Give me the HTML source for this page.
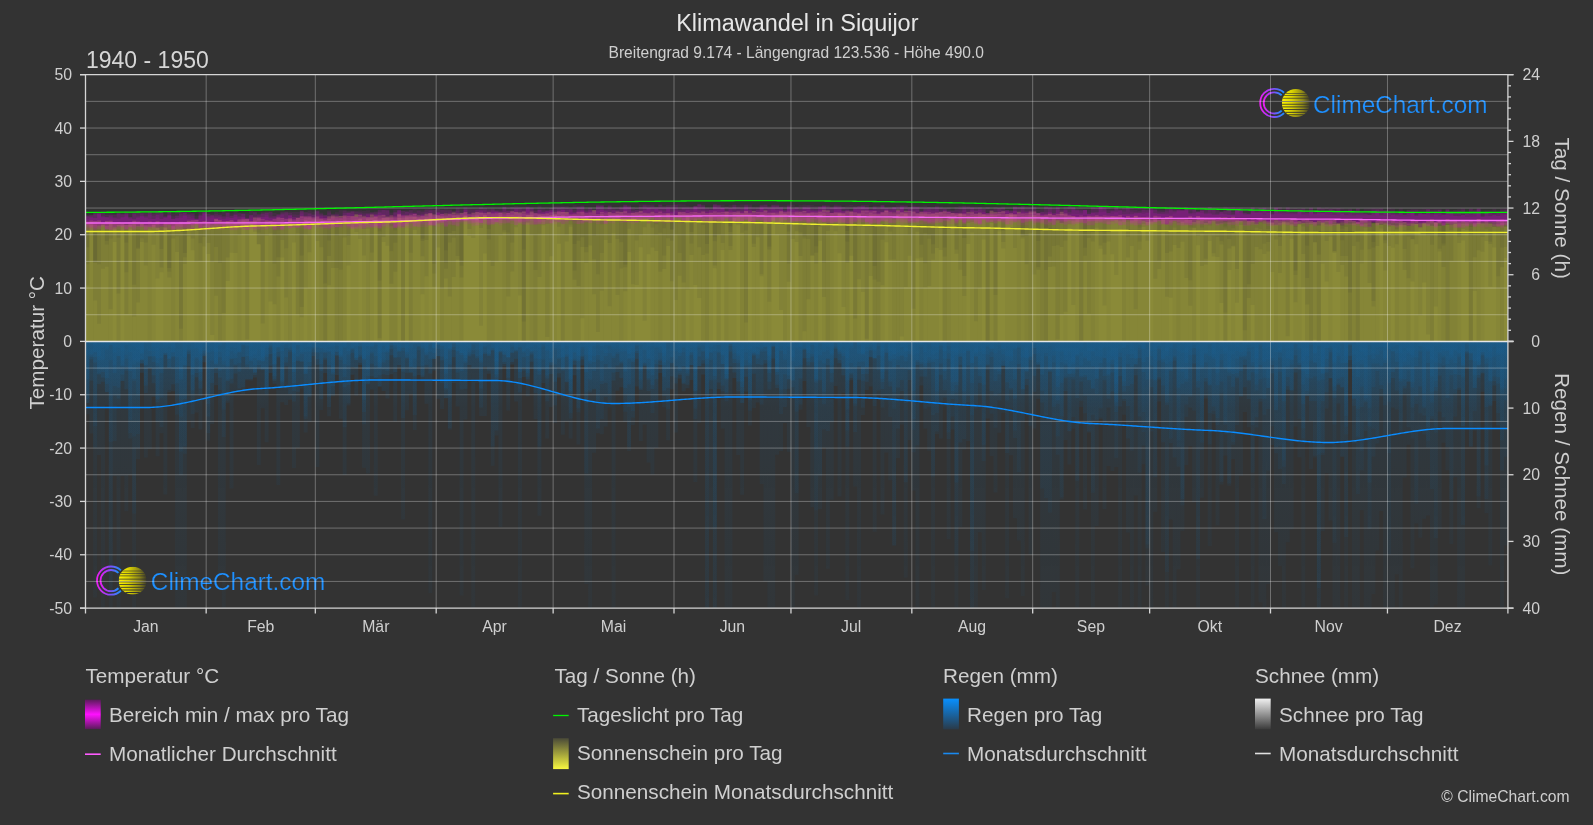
<!DOCTYPE html><html><head><meta charset="utf-8"><style>html,body{margin:0;padding:0;background:#333;width:1593px;height:825px;overflow:hidden}svg{display:block;will-change:transform}text{font-family:"Liberation Sans",sans-serif}</style></head><body><svg width="1593" height="825" viewBox="0 0 1593 825"><defs><linearGradient id="rg" gradientUnits="userSpaceOnUse" x1="0" y1="341.5" x2="0" y2="608"><stop offset="0" stop-color="#1a5e8e" stop-opacity="0.27"/><stop offset="0.25" stop-color="#1a5e8e" stop-opacity="0.12"/><stop offset="1" stop-color="#1a5e8e" stop-opacity="0.07"/></linearGradient><linearGradient id="ring" x1="0" y1="0" x2="1" y2="0"><stop offset="0" stop-color="#e81ef0"/><stop offset="0.45" stop-color="#9a40f8"/><stop offset="1" stop-color="#1a90ff"/></linearGradient><linearGradient id="sun" x1="0" y1="0" x2="1" y2="0"><stop offset="0" stop-color="#fff400"/><stop offset="0.35" stop-color="#dcd400"/><stop offset="0.75" stop-color="#8a8418"/><stop offset="1" stop-color="#3c3a28"/></linearGradient><linearGradient id="lg_t" x1="0" y1="0" x2="0" y2="1"><stop offset="0" stop-color="#5a1a5a"/><stop offset="0.5" stop-color="#ff10ff"/><stop offset="1" stop-color="#5a1a5a"/></linearGradient><linearGradient id="lg_s" x1="0" y1="0" x2="0" y2="1"><stop offset="0" stop-color="#4a4a38"/><stop offset="1" stop-color="#f8f840"/></linearGradient><linearGradient id="lg_r" x1="0" y1="0" x2="0" y2="1"><stop offset="0" stop-color="#0890ff"/><stop offset="1" stop-color="#2a3a48"/></linearGradient><linearGradient id="lg_n" x1="0" y1="0" x2="0" y2="1"><stop offset="0" stop-color="#f0f0f0"/><stop offset="1" stop-color="#3a3a3a"/></linearGradient><clipPath id="cp"><rect x="85" y="75" width="1423" height="533"/></clipPath></defs><g clip-path="url(#cp)"><path d="M85.5 341.4V223.3H89.3V220.5H93.2V221.1H97.1V223.8H101.0V223.6H104.9V222.6H108.8V220.7H112.7V222.4H116.6V222.0H120.5V223.6H124.4V225.5H128.3V223.1H132.2V221.9H136.1V221.4H140.0V222.7H143.9V222.6H147.8V221.4H151.7V222.9H155.6V221.3H159.5V224.0H163.4V223.9H167.3V223.8H171.2V221.9H175.1V223.0H179.0V222.1H182.9V221.7H186.8V221.6H190.7V220.3H194.6V220.0H198.5V222.6H202.4V221.2H206.3V221.6H210.2V222.4H214.1V219.0H218.0V220.0H221.8V221.0H225.7V221.1H229.6V220.1H233.5V221.6H237.4V220.5H241.3V218.7H245.2V218.9H249.1V220.9H253.0V220.5H256.9V217.6H260.8V221.4H264.7V220.4H268.6V221.2H272.5V219.1H276.4V219.1H280.3V218.0H284.2V222.2H288.1V218.9H292.0V220.8H295.9V218.0H299.8V218.9H303.7V216.5H307.6V217.9H311.5V219.4H315.4V216.6H319.3V219.2H323.2V218.2H327.1V216.4H331.0V216.9H334.9V216.8H338.8V217.1H342.7V216.4H346.6V215.9H350.5V216.4H354.4V215.5H358.2V215.0H362.1V216.4H366.0V217.5H369.9V214.5H373.8V216.3H377.7V215.5H381.6V215.0H385.5V217.1H389.4V215.4H393.3V217.8H397.2V214.9H401.1V216.2H405.0V215.4H408.9V214.7H412.8V216.2H416.7V215.2H420.6V216.0H424.5V215.1H428.4V213.7H432.3V214.8H436.2V214.9H440.1V215.9H444.0V213.5H447.9V214.5H451.8V212.4H455.7V215.1H459.6V213.0H463.5V212.0H467.4V214.0H471.3V215.4H475.2V212.1H479.1V212.6H483.0V213.0H486.9V212.5H490.8V214.3H494.6V212.8H498.5V212.9H502.4V214.5H506.3V212.8H510.2V214.2H514.1V212.5H518.0V212.2H521.9V211.5H525.8V215.9H529.7V213.3H533.6V213.9H537.5V213.6H541.4V213.8H545.3V213.6H549.2V215.8H553.1V212.3H557.0V211.6H560.9V212.3H564.8V211.9H568.7V214.3H572.6V214.4H576.5V212.3H580.4V211.7H584.3V213.0H588.2V215.0H592.1V210.0H596.0V214.0H599.9V212.0H603.8V214.6H607.7V212.0H611.6V213.0H615.5V211.5H619.4V212.1H623.3V214.9H627.2V214.2H631.0V212.8H634.9V212.2H638.8V210.9H642.7V212.7H646.6V213.1H650.5V213.1H654.4V213.0H658.3V211.8H662.2V213.0H666.1V213.0H670.0V214.6H673.9V215.3H677.8V212.8H681.7V212.1H685.6V212.9H689.5V212.2H693.4V212.0H697.3V212.8H701.2V211.6H705.1V213.6H709.0V212.7H712.9V213.2H716.8V212.6H720.7V212.0H724.6V211.7H728.5V212.5H732.4V212.1H736.3V213.1H740.2V212.8H744.1V211.1H748.0V212.8H751.9V211.1H755.8V212.0H759.7V212.3H763.5V210.2H767.4V212.8H771.3V212.8H775.2V212.4H779.1V212.1H783.0V212.1H786.9V211.4H790.8V212.2H794.7V211.8H798.6V212.6H802.5V211.0H806.4V212.7H810.3V212.6H814.2V212.2H818.1V211.8H822.0V213.0H825.9V210.3H829.8V212.9H833.7V212.6H837.6V212.7H841.5V212.8H845.4V211.5H849.3V212.0H853.2V213.1H857.1V212.8H861.0V212.6H864.9V210.5H868.8V213.0H872.7V213.7H876.6V213.6H880.5V212.6H884.4V210.5H888.3V213.5H892.2V212.2H896.1V209.4H899.9V212.9H903.8V210.7H907.7V210.9H911.6V211.7H915.5V214.1H919.4V212.1H923.3V212.9H927.2V214.7H931.1V214.5H935.0V212.5H938.9V212.4H942.8V211.2H946.7V211.9H950.6V213.2H954.5V213.2H958.4V212.9H962.3V214.0H966.2V211.9H970.1V212.7H974.0V213.7H977.9V213.6H981.8V214.2H985.7V213.4H989.6V212.7H993.5V213.5H997.4V212.0H1001.3V211.3H1005.2V214.1H1009.1V213.4H1013.0V214.0H1016.9V211.7H1020.8V213.4H1024.7V213.3H1028.6V213.1H1032.5V211.6H1036.3V214.0H1040.2V215.6H1044.1V215.1H1048.0V214.1H1051.9V214.9H1055.8V215.9H1059.7V211.8H1063.6V215.1H1067.5V216.0H1071.4V216.3H1075.3V217.6H1079.2V217.0H1083.1V216.1H1087.0V216.1H1090.9V216.8H1094.8V215.2H1098.7V215.9H1102.6V217.1H1106.5V218.5H1110.4V216.0H1114.3V216.2H1118.2V216.6H1122.1V218.1H1126.0V216.6H1129.9V218.5H1133.8V215.7H1137.7V216.8H1141.6V216.9H1145.5V218.2H1149.4V218.6H1153.3V215.7H1157.2V216.5H1161.1V218.1H1165.0V217.0H1168.9V216.1H1172.7V219.3H1176.6V218.8H1180.5V218.9H1184.4V217.8H1188.3V219.7H1192.2V218.3H1196.1V219.9H1200.0V217.6H1203.9V217.7H1207.8V219.0H1211.7V218.0H1215.6V219.7H1219.5V219.3H1223.4V217.9H1227.3V219.2H1231.2V218.8H1235.1V220.4H1239.0V218.6H1242.9V219.0H1246.8V221.1H1250.7V222.4H1254.6V222.2H1258.5V220.0H1262.4V220.3H1266.3V222.0H1270.2V220.1H1274.1V219.2H1278.0V220.6H1281.9V221.1H1285.8V219.7H1289.7V218.8H1293.6V219.1H1297.5V221.7H1301.4V220.1H1305.2V220.9H1309.1V221.4H1313.0V221.9H1316.9V220.8H1320.8V221.9H1324.7V220.2H1328.6V220.9H1332.5V220.1H1336.4V222.7H1340.3V221.3H1344.2V220.5H1348.1V221.0H1352.0V221.1H1355.9V222.3H1359.8V219.5H1363.7V220.2H1367.6V221.0H1371.5V224.6H1375.4V222.7H1379.3V221.4H1383.2V222.4H1387.1V224.1H1391.0V221.3H1394.9V221.2H1398.8V223.1H1402.7V222.3H1406.6V222.5H1410.5V221.1H1414.4V224.0H1418.3V223.8H1422.2V222.4H1426.1V222.6H1430.0V219.3H1433.9V222.6H1437.8V221.6H1441.6V222.3H1445.5V222.6H1449.4V221.4H1453.3V219.8H1457.2V222.2H1461.1V220.9H1465.0V221.4H1468.9V221.1H1472.8V221.4H1476.7V219.0H1480.6V223.3H1484.5V222.1H1488.4V223.1H1492.3V224.2H1496.2V221.8H1500.1V219.6H1504.0V220.7H1507.9V341.4Z" fill="#8a8a38" fill-opacity="0.5"/><path d="M85.5 341.4V221.4H89.3V222.2H93.2V222.9H97.1V220.4H101.0V223.2H104.9V221.0H108.8V223.2H112.7V222.7H116.6V222.4H120.5V222.7H124.4V222.2H128.3V222.1H132.2V220.8H136.1V222.8H140.0V225.0H143.9V225.2H147.8V224.4H151.7V223.6H155.6V221.9H159.5V224.4H163.4V222.5H167.3V222.4H171.2V222.1H175.1V222.5H179.0V221.7H182.9V222.0H186.8V220.7H190.7V221.4H194.6V224.5H198.5V221.5H202.4V221.2H206.3V222.0H210.2V222.0H214.1V219.7H218.0V220.7H221.8V221.9H225.7V221.0H229.6V220.7H233.5V222.3H237.4V219.5H241.3V220.3H245.2V219.4H249.1V221.8H253.0V217.6H256.9V219.0H260.8V219.1H264.7V220.5H268.6V220.4H272.5V221.2H276.4V217.5H280.3V220.2H284.2V218.9H288.1V218.3H292.0V219.6H295.9V217.7H299.8V216.2H303.7V218.1H307.6V216.6H311.5V217.4H315.4V218.5H319.3V218.3H323.2V219.7H327.1V217.4H331.0V215.6H334.9V216.4H338.8V216.1H342.7V215.6H346.6V217.4H350.5V216.0H354.4V214.3H358.2V217.4H362.1V216.4H366.0V216.9H369.9V216.5H373.8V217.1H377.7V216.3H381.6V217.7H385.5V216.6H389.4V216.5H393.3V216.5H397.2V214.1H401.1V215.6H405.0V215.4H408.9V215.8H412.8V213.9H416.7V217.3H420.6V215.4H424.5V213.7H428.4V213.0H432.3V214.6H436.2V214.7H440.1V213.9H444.0V214.7H447.9V213.8H451.8V215.1H455.7V213.5H459.6V214.2H463.5V215.3H467.4V217.2H471.3V212.8H475.2V213.4H479.1V212.9H483.0V214.8H486.9V212.5H490.8V213.2H494.6V213.8H498.5V212.6H502.4V212.6H506.3V213.2H510.2V211.2H514.1V212.0H518.0V213.2H521.9V213.9H525.8V213.4H529.7V211.5H533.6V213.1H537.5V214.6H541.4V214.2H545.3V213.5H549.2V212.5H553.1V214.3H557.0V212.8H560.9V212.1H564.8V212.5H568.7V215.2H572.6V213.7H576.5V214.8H580.4V212.8H584.3V214.5H588.2V212.6H592.1V213.2H596.0V216.3H599.9V214.3H603.8V212.7H607.7V213.2H611.6V213.7H615.5V214.7H619.4V212.7H623.3V211.2H627.2V212.9H631.0V213.3H634.9V213.4H638.8V214.8H642.7V213.6H646.6V214.1H650.5V211.8H654.4V214.2H658.3V215.6H662.2V214.0H666.1V213.4H670.0V213.2H673.9V215.2H677.8V211.9H681.7V212.9H685.6V213.5H689.5V213.8H693.4V212.4H697.3V213.3H701.2V212.6H705.1V213.0H709.0V212.7H712.9V211.5H716.8V212.8H720.7V213.9H724.6V211.7H728.5V212.5H732.4V213.6H736.3V211.5H740.2V213.0H744.1V211.5H748.0V214.1H751.9V215.5H755.8V215.1H759.7V212.4H763.5V213.6H767.4V212.8H771.3V212.7H775.2V214.5H779.1V211.0H783.0V213.8H786.9V212.5H790.8V214.2H794.7V212.7H798.6V211.7H802.5V212.8H806.4V213.3H810.3V212.5H814.2V213.0H818.1V211.7H822.0V209.8H825.9V213.4H829.8V213.2H833.7V212.5H837.6V212.4H841.5V213.5H845.4V211.8H849.3V211.5H853.2V212.1H857.1V213.7H861.0V210.6H864.9V213.7H868.8V211.6H872.7V211.0H876.6V213.9H880.5V212.2H884.4V210.8H888.3V212.0H892.2V213.5H896.1V213.9H899.9V211.9H903.8V213.0H907.7V213.3H911.6V211.7H915.5V213.0H919.4V212.5H923.3V211.9H927.2V212.0H931.1V212.7H935.0V212.7H938.9V212.0H942.8V212.2H946.7V214.0H950.6V213.0H954.5V213.8H958.4V214.2H962.3V213.5H966.2V215.5H970.1V211.8H974.0V213.8H977.9V212.5H981.8V215.1H985.7V215.0H989.6V210.7H993.5V211.9H997.4V214.0H1001.3V214.2H1005.2V214.3H1009.1V213.4H1013.0V214.2H1016.9V214.5H1020.8V213.8H1024.7V215.2H1028.6V211.4H1032.5V215.0H1036.3V213.2H1040.2V215.7H1044.1V214.4H1048.0V213.7H1051.9V215.4H1055.8V213.9H1059.7V214.1H1063.6V213.4H1067.5V215.3H1071.4V216.1H1075.3V216.8H1079.2V215.5H1083.1V217.0H1087.0V215.8H1090.9V215.7H1094.8V216.6H1098.7V217.2H1102.6V215.6H1106.5V215.8H1110.4V216.0H1114.3V216.4H1118.2V215.3H1122.1V217.7H1126.0V216.1H1129.9V217.3H1133.8V215.9H1137.7V217.4H1141.6V217.6H1145.5V216.7H1149.4V219.8H1153.3V217.9H1157.2V219.7H1161.1V218.9H1165.0V217.0H1168.9V217.5H1172.7V218.6H1176.6V218.2H1180.5V218.3H1184.4V218.0H1188.3V216.3H1192.2V218.3H1196.1V216.0H1200.0V219.1H1203.9V217.9H1207.8V217.9H1211.7V218.6H1215.6V219.2H1219.5V217.3H1223.4V216.9H1227.3V217.8H1231.2V216.8H1235.1V218.1H1239.0V221.3H1242.9V218.2H1246.8V220.4H1250.7V218.1H1254.6V220.2H1258.5V219.5H1262.4V220.0H1266.3V220.8H1270.2V222.4H1274.1V220.6H1278.0V220.6H1281.9V219.4H1285.8V221.4H1289.7V220.5H1293.6V221.8H1297.5V220.9H1301.4V223.1H1305.2V218.7H1309.1V220.8H1313.0V222.2H1316.9V220.8H1320.8V220.3H1324.7V221.0H1328.6V219.7H1332.5V221.5H1336.4V224.3H1340.3V222.7H1344.2V220.0H1348.1V220.3H1352.0V220.9H1355.9V222.6H1359.8V220.5H1363.7V220.6H1367.6V222.6H1371.5V222.6H1375.4V221.1H1379.3V220.2H1383.2V219.7H1387.1V220.8H1391.0V219.0H1394.9V222.5H1398.8V220.9H1402.7V222.3H1406.6V223.9H1410.5V223.1H1414.4V220.4H1418.3V222.8H1422.2V223.2H1426.1V220.9H1430.0V220.6H1433.9V221.7H1437.8V219.9H1441.6V223.6H1445.5V218.9H1449.4V220.5H1453.3V221.5H1457.2V221.5H1461.1V222.0H1465.0V222.1H1468.9V221.5H1472.8V223.2H1476.7V219.2H1480.6V221.8H1484.5V220.9H1488.4V222.0H1492.3V222.1H1496.2V220.7H1500.1V221.0H1504.0V222.8H1507.9V341.4Z" fill="#8a8a38" fill-opacity="0.5"/><path d="M85.5 341.4V224.0H89.3V224.6H93.2V224.5H97.1V225.8H101.0V224.9H104.9V226.0H108.8V224.1H112.7V226.7H116.6V225.0H120.5V225.2H124.4V225.0H128.3V224.7H132.2V224.2H136.1V225.9H140.0V224.1H143.9V225.4H147.8V226.7H151.7V224.9H155.6V227.7H159.5V226.5H163.4V227.5H167.3V224.2H171.2V226.2H175.1V224.1H179.0V223.8H182.9V223.7H186.8V228.2H190.7V224.2H194.6V223.0H198.5V223.0H202.4V225.7H206.3V223.5H210.2V224.3H214.1V223.9H218.0V224.2H221.8V223.6H225.7V221.9H229.6V223.5H233.5V222.8H237.4V221.7H241.3V221.6H245.2V221.4H249.1V223.6H253.0V221.2H256.9V223.7H260.8V224.1H264.7V222.6H268.6V221.1H272.5V222.0H276.4V224.6H280.3V222.0H284.2V222.8H288.1V220.4H292.0V221.3H295.9V220.4H299.8V221.2H303.7V219.9H307.6V220.9H311.5V222.3H315.4V220.6H319.3V219.5H323.2V219.9H327.1V219.1H331.0V221.0H334.9V219.7H338.8V218.8H342.7V220.0H346.6V220.4H350.5V220.7H354.4V219.5H358.2V219.1H362.1V221.7H366.0V218.5H369.9V217.7H373.8V220.0H377.7V218.8H381.6V218.0H385.5V218.1H389.4V217.7H393.3V220.2H397.2V217.9H401.1V217.6H405.0V217.6H408.9V217.0H412.8V217.1H416.7V218.8H420.6V216.5H424.5V217.2H428.4V218.6H432.3V217.5H436.2V216.1H440.1V217.3H444.0V216.5H447.9V217.8H451.8V215.6H455.7V216.7H459.6V218.0H463.5V216.1H467.4V218.7H471.3V219.3H475.2V215.8H479.1V216.9H483.0V215.4H486.9V219.5H490.8V216.7H494.6V216.2H498.5V215.4H502.4V215.9H506.3V215.3H510.2V215.3H514.1V216.3H518.0V215.9H521.9V216.9H525.8V215.0H529.7V214.9H533.6V216.9H537.5V215.3H541.4V216.5H545.3V216.7H549.2V215.1H553.1V214.9H557.0V215.9H560.9V214.9H564.8V218.7H568.7V216.9H572.6V215.4H576.5V218.9H580.4V216.3H584.3V218.1H588.2V216.1H592.1V216.2H596.0V216.1H599.9V214.8H603.8V217.6H607.7V217.0H611.6V217.4H615.5V214.6H619.4V215.0H623.3V214.8H627.2V216.4H631.0V216.6H634.9V215.5H638.8V214.5H642.7V216.0H646.6V215.6H650.5V216.9H654.4V216.8H658.3V214.6H662.2V216.2H666.1V214.3H670.0V215.6H673.9V214.9H677.8V215.3H681.7V214.2H685.6V214.9H689.5V214.8H693.4V216.9H697.3V215.7H701.2V217.4H705.1V215.4H709.0V216.2H712.9V214.7H716.8V216.9H720.7V216.9H724.6V214.4H728.5V215.3H732.4V217.5H736.3V215.5H740.2V214.0H744.1V214.1H748.0V215.4H751.9V214.8H755.8V215.0H759.7V214.2H763.5V216.1H767.4V216.3H771.3V216.5H775.2V214.8H779.1V214.4H783.0V213.8H786.9V214.6H790.8V214.7H794.7V215.0H798.6V214.3H802.5V214.0H806.4V213.7H810.3V216.0H814.2V215.0H818.1V214.3H822.0V214.7H825.9V216.3H829.8V215.4H833.7V215.5H837.6V213.8H841.5V214.6H845.4V215.1H849.3V215.2H853.2V215.3H857.1V214.4H861.0V216.5H864.9V216.0H868.8V215.2H872.7V214.5H876.6V215.3H880.5V217.3H884.4V216.5H888.3V215.9H892.2V217.0H896.1V215.3H899.9V215.7H903.8V213.7H907.7V215.4H911.6V217.0H915.5V217.9H919.4V214.3H923.3V213.9H927.2V214.3H931.1V213.9H935.0V215.6H938.9V216.9H942.8V214.2H946.7V215.8H950.6V217.2H954.5V214.9H958.4V214.1H962.3V214.8H966.2V216.0H970.1V215.3H974.0V216.0H977.9V215.8H981.8V214.5H985.7V215.7H989.6V214.9H993.5V215.0H997.4V218.4H1001.3V217.3H1005.2V216.4H1009.1V214.9H1013.0V214.9H1016.9V217.8H1020.8V216.0H1024.7V216.7H1028.6V215.5H1032.5V215.6H1036.3V216.2H1040.2V218.0H1044.1V215.9H1048.0V220.4H1051.9V217.5H1055.8V220.2H1059.7V222.9H1063.6V217.5H1067.5V219.2H1071.4V216.8H1075.3V219.1H1079.2V218.7H1083.1V219.2H1087.0V217.3H1090.9V217.1H1094.8V217.2H1098.7V217.2H1102.6V218.8H1106.5V218.4H1110.4V217.8H1114.3V219.6H1118.2V218.6H1122.1V219.1H1126.0V220.0H1129.9V220.5H1133.8V218.3H1137.7V218.2H1141.6V220.9H1145.5V221.9H1149.4V221.5H1153.3V219.6H1157.2V220.3H1161.1V219.7H1165.0V224.3H1168.9V219.7H1172.7V219.4H1176.6V219.5H1180.5V221.6H1184.4V220.1H1188.3V220.0H1192.2V222.1H1196.1V220.5H1200.0V219.9H1203.9V223.0H1207.8V221.1H1211.7V220.8H1215.6V223.7H1219.5V223.3H1223.4V222.2H1227.3V222.2H1231.2V221.8H1235.1V220.7H1239.0V221.0H1242.9V221.2H1246.8V221.2H1250.7V221.0H1254.6V224.0H1258.5V222.2H1262.4V221.3H1266.3V222.5H1270.2V222.7H1274.1V224.8H1278.0V222.7H1281.9V221.9H1285.8V222.6H1289.7V224.2H1293.6V222.2H1297.5V223.9H1301.4V223.0H1305.2V222.7H1309.1V222.8H1313.0V222.6H1316.9V225.6H1320.8V222.9H1324.7V224.2H1328.6V224.3H1332.5V224.1H1336.4V223.7H1340.3V225.6H1344.2V223.2H1348.1V223.8H1352.0V223.0H1355.9V222.6H1359.8V224.6H1363.7V223.6H1367.6V226.7H1371.5V223.2H1375.4V223.1H1379.3V224.9H1383.2V223.4H1387.1V225.3H1391.0V225.0H1394.9V225.4H1398.8V224.7H1402.7V225.0H1406.6V226.0H1410.5V223.4H1414.4V224.0H1418.3V226.9H1422.2V223.4H1426.1V224.2H1430.0V225.7H1433.9V223.1H1437.8V226.0H1441.6V224.9H1445.5V224.9H1449.4V224.7H1453.3V224.0H1457.2V223.6H1461.1V223.4H1465.0V223.4H1468.9V223.6H1472.8V223.6H1476.7V223.1H1480.6V223.4H1484.5V223.2H1488.4V224.0H1492.3V226.7H1496.2V224.2H1500.1V223.1H1504.0V226.4H1507.9V341.4Z" fill="#8a8a38"/><path d="M85.5 222.5H89.3V222.5H93.2V222.5H97.1V222.5H101.0V222.5H104.9V222.5H108.8V222.5H112.7V222.5H116.6V222.5H120.5V222.5H124.4V222.5H128.3V222.5H132.2V222.5H136.1V222.5H140.0V222.5H143.9V222.5H147.8V222.5H151.7V222.5H155.6V222.4H159.5V222.4H163.4V222.3H167.3V222.2H171.2V222.1H175.1V222.0H179.0V221.9H182.9V221.8H186.8V221.7H190.7V221.6H194.6V221.4H198.5V221.3H202.4V221.2H206.3V221.0H210.2V220.9H214.1V220.7H218.0V220.6H221.8V220.5H225.7V220.3H229.6V220.2H233.5V220.1H237.4V220.0H241.3V219.9H245.2V219.8H249.1V219.7H253.0V219.6H256.9V219.5H260.8V219.5H264.7V219.4H268.6V219.3H272.5V219.2H276.4V219.1H280.3V219.0H284.2V218.9H288.1V218.8H292.0V218.6H295.9V218.5H299.8V218.4H303.7V218.2H307.6V218.1H311.5V217.9H315.4V217.8H319.3V217.6H323.2V217.5H327.1V217.3H331.0V217.2H334.9V217.0H338.8V216.9H342.7V216.8H346.6V216.6H350.5V216.5H354.4V216.4H358.2V216.3H362.1V216.2H366.0V216.1H369.9V216.1H373.8V216.0H377.7V215.9H381.6V215.9H385.5V215.8H389.4V215.7H393.3V215.7H397.2V215.6H401.1V215.5H405.0V215.4H408.9V215.3H412.8V215.2H416.7V215.1H420.6V215.0H424.5V214.9H428.4V214.8H432.3V214.6H436.2V214.5H440.1V214.4H444.0V214.3H447.9V214.2H451.8V214.1H455.7V214.0H459.6V214.0H463.5V213.9H467.4V213.8H471.3V213.7H475.2V213.7H479.1V213.6H483.0V213.6H486.9V213.5H490.8V213.5H494.6V213.5H498.5V213.5H502.4V213.5H506.3V213.4H510.2V213.4H514.1V213.4H518.0V213.4H521.9V213.4H525.8V213.4H529.7V213.3H533.6V213.3H537.5V213.3H541.4V213.3H545.3V213.3H549.2V213.2H553.1V213.2H557.0V213.2H560.9V213.2H564.8V213.2H568.7V213.2H572.6V213.1H576.5V213.1H580.4V213.1H584.3V213.1H588.2V213.1H592.1V213.1H596.0V213.0H599.9V213.0H603.8V213.0H607.7V213.0H611.6V213.0H615.5V213.0H619.4V213.0H623.3V213.0H627.2V213.0H631.0V212.9H634.9V212.9H638.8V212.9H642.7V212.9H646.6V212.9H650.5V212.9H654.4V212.8H658.3V212.8H662.2V212.8H666.1V212.8H670.0V212.8H673.9V212.7H677.8V212.7H681.7V212.7H685.6V212.7H689.5V212.7H693.4V212.6H697.3V212.6H701.2V212.6H705.1V212.6H709.0V212.6H712.9V212.6H716.8V212.5H720.7V212.5H724.6V212.5H728.5V212.5H732.4V212.5H736.3V212.5H740.2V212.5H744.1V212.5H748.0V212.4H751.9V212.4H755.8V212.4H759.7V212.4H763.5V212.4H767.4V212.3H771.3V212.3H775.2V212.3H779.1V212.3H783.0V212.3H786.9V212.2H790.8V212.2H794.7V212.2H798.6V212.2H802.5V212.1H806.4V212.1H810.3V212.1H814.2V212.1H818.1V212.1H822.0V212.1H825.9V212.0H829.8V212.0H833.7V212.0H837.6V212.0H841.5V212.0H845.4V212.0H849.3V212.0H853.2V212.0H857.1V212.0H861.0V212.0H864.9V212.0H868.8V212.0H872.7V212.0H876.6V212.0H880.5V212.1H884.4V212.1H888.3V212.1H892.2V212.1H896.1V212.1H899.9V212.1H903.8V212.2H907.7V212.2H911.6V212.2H915.5V212.2H919.4V212.2H923.3V212.3H927.2V212.3H931.1V212.3H935.0V212.3H938.9V212.4H942.8V212.4H946.7V212.4H950.6V212.4H954.5V212.4H958.4V212.5H962.3V212.5H966.2V212.5H970.1V212.5H974.0V212.5H977.9V212.6H981.8V212.6H985.7V212.7H989.6V212.7H993.5V212.8H997.4V212.9H1001.3V213.0H1005.2V213.1H1009.1V213.2H1013.0V213.3H1016.9V213.4H1020.8V213.6H1024.7V213.7H1028.6V213.8H1032.5V214.0H1036.3V214.1H1040.2V214.2H1044.1V214.4H1048.0V214.5H1051.9V214.6H1055.8V214.7H1059.7V214.9H1063.6V215.0H1067.5V215.1H1071.4V215.2H1075.3V215.3H1079.2V215.3H1083.1V215.4H1087.0V215.5H1090.9V215.5H1094.8V215.6H1098.7V215.7H1102.6V215.7H1106.5V215.8H1110.4V215.9H1114.3V216.0H1118.2V216.1H1122.1V216.2H1126.0V216.3H1129.9V216.4H1133.8V216.6H1137.7V216.7H1141.6V216.8H1145.5V216.9H1149.4V217.0H1153.3V217.2H1157.2V217.3H1161.1V217.4H1165.0V217.5H1168.9V217.7H1172.7V217.8H1176.6V217.9H1180.5V218.0H1184.4V218.1H1188.3V218.2H1192.2V218.2H1196.1V218.3H1200.0V218.4H1203.9V218.5H1207.8V218.5H1211.7V218.5H1215.6V218.6H1219.5V218.7H1223.4V218.7H1227.3V218.8H1231.2V218.9H1235.1V219.0H1239.0V219.1H1242.9V219.2H1246.8V219.3H1250.7V219.4H1254.6V219.5H1258.5V219.6H1262.4V219.7H1266.3V219.8H1270.2V219.9H1274.1V220.1H1278.0V220.2H1281.9V220.3H1285.8V220.4H1289.7V220.5H1293.6V220.5H1297.5V220.6H1301.4V220.7H1305.2V220.8H1309.1V220.8H1313.0V220.9H1316.9V220.9H1320.8V221.0H1324.7V221.0H1328.6V221.0H1332.5V221.0H1336.4V221.0H1340.3V221.1H1344.2V221.1H1348.1V221.1H1352.0V221.1H1355.9V221.1H1359.8V221.2H1363.7V221.2H1367.6V221.2H1371.5V221.2H1375.4V221.2H1379.3V221.3H1383.2V221.3H1387.1V221.3H1391.0V221.3H1394.9V221.3H1398.8V221.4H1402.7V221.4H1406.6V221.4H1410.5V221.4H1414.4V221.4H1418.3V221.4H1422.2V221.5H1426.1V221.5H1430.0V221.5H1433.9V221.5H1437.8V221.5H1441.6V221.5H1445.5V221.5H1449.4V221.5H1453.3V221.5H1457.2V221.5H1461.1V221.5H1465.0V221.5H1468.9V221.5H1472.8V221.5H1476.7V221.5H1480.6V221.5H1484.5V221.5H1488.4V221.5H1492.3V221.5H1496.2V221.5H1500.1V221.5H1504.0V221.5H1507.9V221.5H1504.0V221.5H1500.1V221.5H1496.2V221.5H1492.3V221.5H1488.4V221.5H1484.5V221.5H1480.6V341.4H1476.7V221.5H1472.8V341.4H1468.9V221.5H1465.0V221.5H1461.1V341.4H1457.2V341.4H1453.3V341.4H1449.4V221.5H1445.5V341.4H1441.6V341.4H1437.8V221.5H1433.9V341.4H1430.0V221.5H1426.1V221.5H1422.2V221.4H1418.3V221.4H1414.4V221.4H1410.5V341.4H1406.6V341.4H1402.7V341.4H1398.8V341.4H1394.9V221.3H1391.0V221.3H1387.1V221.3H1383.2V221.3H1379.3V341.4H1375.4V221.2H1371.5V341.4H1367.6V341.4H1363.7V221.2H1359.8V341.4H1355.9V341.4H1352.0V341.4H1348.1V221.1H1344.2V341.4H1340.3V221.0H1336.4V221.0H1332.5V221.0H1328.6V221.0H1324.7V221.0H1320.8V341.4H1316.9V220.9H1313.0V341.4H1309.1V341.4H1305.2V220.7H1301.4V341.4H1297.5V220.5H1293.6V220.5H1289.7V220.4H1285.8V220.3H1281.9V220.2H1278.0V341.4H1274.1V219.9H1270.2V341.4H1266.3V341.4H1262.4V341.4H1258.5V219.5H1254.6V219.4H1250.7V341.4H1246.8V219.2H1242.9V219.1H1239.0V219.0H1235.1V218.9H1231.2V218.8H1227.3V341.4H1223.4V218.7H1219.5V218.6H1215.6V218.5H1211.7V218.5H1207.8V218.5H1203.9V341.4H1200.0V218.3H1196.1V341.4H1192.2V341.4H1188.3V218.1H1184.4V218.0H1180.5V341.4H1176.6V217.8H1172.7V217.7H1168.9V217.5H1165.0V341.4H1161.1V217.3H1157.2V217.2H1153.3V217.0H1149.4V341.4H1145.5V341.4H1141.6V341.4H1137.7V216.6H1133.8V216.4H1129.9V341.4H1126.0V341.4H1122.1V216.1H1118.2V216.0H1114.3V215.9H1110.4V215.8H1106.5V215.7H1102.6V215.7H1098.7V215.6H1094.8V341.4H1090.9V341.4H1087.0V215.4H1083.1V215.3H1079.2V341.4H1075.3V215.2H1071.4V215.1H1067.5V341.4H1063.6V214.9H1059.7V341.4H1055.8V214.6H1051.9V214.5H1048.0V341.4H1044.1V341.4H1040.2V341.4H1036.3V214.0H1032.5V341.4H1028.6V341.4H1024.7V213.6H1020.8V341.4H1016.9V213.3H1013.0V341.4H1009.1V341.4H1005.2V213.0H1001.3V212.9H997.4V341.4H993.5V341.4H989.6V341.4H985.7V212.6H981.8V341.4H977.9V212.5H974.0V212.5H970.1V212.5H966.2V341.4H962.3V212.5H958.4V341.4H954.5V212.4H950.6V212.4H946.7V212.4H942.8V212.4H938.9V212.3H935.0V341.4H931.1V341.4H927.2V212.3H923.3V341.4H919.4V212.2H915.5V341.4H911.6V212.2H907.7V212.2H903.8V212.1H899.9V212.1H896.1V341.4H892.2V341.4H888.3V212.1H884.4V212.1H880.5V212.0H876.6V341.4H872.7V212.0H868.8V212.0H864.9V212.0H861.0V212.0H857.1V341.4H853.2V212.0H849.3V341.4H845.4V212.0H841.5V212.0H837.6V212.0H833.7V341.4H829.8V341.4H825.9V212.1H822.0V212.1H818.1V341.4H814.2V212.1H810.3V341.4H806.4V212.1H802.5V212.2H798.6V212.2H794.7V212.2H790.8V212.2H786.9V341.4H783.0V212.3H779.1V212.3H775.2V212.3H771.3V212.3H767.4V341.4H763.5V212.4H759.7V212.4H755.8V341.4H751.9V212.4H748.0V212.5H744.1V341.4H740.2V212.5H736.3V341.4H732.4V341.4H728.5V341.4H724.6V212.5H720.7V341.4H716.8V212.6H712.9V212.6H709.0V212.6H705.1V341.4H701.2V212.6H697.3V212.6H693.4V212.7H689.5V212.7H685.6V212.7H681.7V341.4H677.8V212.7H673.9V341.4H670.0V212.8H666.1V212.8H662.2V341.4H658.3V341.4H654.4V212.9H650.5V212.9H646.6V212.9H642.7V212.9H638.8V212.9H634.9V341.4H631.0V213.0H627.2V341.4H623.3V213.0H619.4V341.4H615.5V213.0H611.6V341.4H607.7V341.4H603.8V213.0H599.9V213.0H596.0V213.1H592.1V213.1H588.2V341.4H584.3V213.1H580.4V341.4H576.5V341.4H572.6V213.2H568.7V213.2H564.8V213.2H560.9V213.2H557.0V341.4H553.1V341.4H549.2V213.3H545.3V341.4H541.4V341.4H537.5V341.4H533.6V213.3H529.7V213.4H525.8V341.4H521.9V213.4H518.0V213.4H514.1V213.4H510.2V213.4H506.3V341.4H502.4V341.4H498.5V213.5H494.6V341.4H490.8V341.4H486.9V213.6H483.0V213.6H479.1V213.7H475.2V213.7H471.3V213.8H467.4V213.9H463.5V341.4H459.6V214.0H455.7V214.1H451.8V341.4H447.9V341.4H444.0V341.4H440.1V214.5H436.2V214.6H432.3V214.8H428.4V341.4H424.5V215.0H420.6V341.4H416.7V341.4H412.8V341.4H408.9V215.4H405.0V341.4H401.1V215.6H397.2V341.4H393.3V341.4H389.4V215.8H385.5V215.9H381.6V341.4H377.7V216.0H373.8V216.1H369.9V216.1H366.0V341.4H362.1V216.3H358.2V216.4H354.4V216.5H350.5V216.6H346.6V341.4H342.7V216.9H338.8V341.4H334.9V217.2H331.0V217.3H327.1V341.4H323.2V341.4H319.3V217.8H315.4V217.9H311.5V341.4H307.6V218.2H303.7V341.4H299.8V218.5H295.9V218.6H292.0V218.8H288.1V341.4H284.2V219.0H280.3V341.4H276.4V341.4H272.5V219.3H268.6V219.4H264.7V219.5H260.8V219.5H256.9V219.6H253.0V219.7H249.1V219.8H245.2V219.9H241.3V341.4H237.4V220.1H233.5V220.2H229.6V220.3H225.7V341.4H221.8V220.6H218.0V341.4H214.1V220.9H210.2V221.0H206.3V221.2H202.4V341.4H198.5V341.4H194.6V221.6H190.7V221.7H186.8V221.8H182.9V221.9H179.0V222.0H175.1V341.4H171.2V341.4H167.3V341.4H163.4V222.4H159.5V222.4H155.6V222.5H151.7V341.4H147.8V341.4H143.9V341.4H140.0V222.5H136.1V341.4H132.2V222.5H128.3V222.5H124.4V222.5H120.5V222.5H116.6V222.5H112.7V341.4H108.8V222.5H104.9V222.5H101.0V222.5H97.1V222.5H93.2V341.4H89.3V222.5H85.5Z" fill="#333" fill-opacity="0.045"/><path d="M85.5 222.5H89.3V222.5H93.2V222.5H97.1V222.5H101.0V222.5H104.9V222.5H108.8V222.5H112.7V222.5H116.6V222.5H120.5V222.5H124.4V222.5H128.3V222.5H132.2V222.5H136.1V222.5H140.0V222.5H143.9V222.5H147.8V222.5H151.7V222.5H155.6V222.4H159.5V222.4H163.4V222.3H167.3V222.2H171.2V222.1H175.1V222.0H179.0V221.9H182.9V221.8H186.8V221.7H190.7V221.6H194.6V221.4H198.5V221.3H202.4V221.2H206.3V221.0H210.2V220.9H214.1V220.7H218.0V220.6H221.8V220.5H225.7V220.3H229.6V220.2H233.5V220.1H237.4V220.0H241.3V219.9H245.2V219.8H249.1V219.7H253.0V219.6H256.9V219.5H260.8V219.5H264.7V219.4H268.6V219.3H272.5V219.2H276.4V219.1H280.3V219.0H284.2V218.9H288.1V218.8H292.0V218.6H295.9V218.5H299.8V218.4H303.7V218.2H307.6V218.1H311.5V217.9H315.4V217.8H319.3V217.6H323.2V217.5H327.1V217.3H331.0V217.2H334.9V217.0H338.8V216.9H342.7V216.8H346.6V216.6H350.5V216.5H354.4V216.4H358.2V216.3H362.1V216.2H366.0V216.1H369.9V216.1H373.8V216.0H377.7V215.9H381.6V215.9H385.5V215.8H389.4V215.7H393.3V215.7H397.2V215.6H401.1V215.5H405.0V215.4H408.9V215.3H412.8V215.2H416.7V215.1H420.6V215.0H424.5V214.9H428.4V214.8H432.3V214.6H436.2V214.5H440.1V214.4H444.0V214.3H447.9V214.2H451.8V214.1H455.7V214.0H459.6V214.0H463.5V213.9H467.4V213.8H471.3V213.7H475.2V213.7H479.1V213.6H483.0V213.6H486.9V213.5H490.8V213.5H494.6V213.5H498.5V213.5H502.4V213.5H506.3V213.4H510.2V213.4H514.1V213.4H518.0V213.4H521.9V213.4H525.8V213.4H529.7V213.3H533.6V213.3H537.5V213.3H541.4V213.3H545.3V213.3H549.2V213.2H553.1V213.2H557.0V213.2H560.9V213.2H564.8V213.2H568.7V213.2H572.6V213.1H576.5V213.1H580.4V213.1H584.3V213.1H588.2V213.1H592.1V213.1H596.0V213.0H599.9V213.0H603.8V213.0H607.7V213.0H611.6V213.0H615.5V213.0H619.4V213.0H623.3V213.0H627.2V213.0H631.0V212.9H634.9V212.9H638.8V212.9H642.7V212.9H646.6V212.9H650.5V212.9H654.4V212.8H658.3V212.8H662.2V212.8H666.1V212.8H670.0V212.8H673.9V212.7H677.8V212.7H681.7V212.7H685.6V212.7H689.5V212.7H693.4V212.6H697.3V212.6H701.2V212.6H705.1V212.6H709.0V212.6H712.9V212.6H716.8V212.5H720.7V212.5H724.6V212.5H728.5V212.5H732.4V212.5H736.3V212.5H740.2V212.5H744.1V212.5H748.0V212.4H751.9V212.4H755.8V212.4H759.7V212.4H763.5V212.4H767.4V212.3H771.3V212.3H775.2V212.3H779.1V212.3H783.0V212.3H786.9V212.2H790.8V212.2H794.7V212.2H798.6V212.2H802.5V212.1H806.4V212.1H810.3V212.1H814.2V212.1H818.1V212.1H822.0V212.1H825.9V212.0H829.8V212.0H833.7V212.0H837.6V212.0H841.5V212.0H845.4V212.0H849.3V212.0H853.2V212.0H857.1V212.0H861.0V212.0H864.9V212.0H868.8V212.0H872.7V212.0H876.6V212.0H880.5V212.1H884.4V212.1H888.3V212.1H892.2V212.1H896.1V212.1H899.9V212.1H903.8V212.2H907.7V212.2H911.6V212.2H915.5V212.2H919.4V212.2H923.3V212.3H927.2V212.3H931.1V212.3H935.0V212.3H938.9V212.4H942.8V212.4H946.7V212.4H950.6V212.4H954.5V212.4H958.4V212.5H962.3V212.5H966.2V212.5H970.1V212.5H974.0V212.5H977.9V212.6H981.8V212.6H985.7V212.7H989.6V212.7H993.5V212.8H997.4V212.9H1001.3V213.0H1005.2V213.1H1009.1V213.2H1013.0V213.3H1016.9V213.4H1020.8V213.6H1024.7V213.7H1028.6V213.8H1032.5V214.0H1036.3V214.1H1040.2V214.2H1044.1V214.4H1048.0V214.5H1051.9V214.6H1055.8V214.7H1059.7V214.9H1063.6V215.0H1067.5V215.1H1071.4V215.2H1075.3V215.3H1079.2V215.3H1083.1V215.4H1087.0V215.5H1090.9V215.5H1094.8V215.6H1098.7V215.7H1102.6V215.7H1106.5V215.8H1110.4V215.9H1114.3V216.0H1118.2V216.1H1122.1V216.2H1126.0V216.3H1129.9V216.4H1133.8V216.6H1137.7V216.7H1141.6V216.8H1145.5V216.9H1149.4V217.0H1153.3V217.2H1157.2V217.3H1161.1V217.4H1165.0V217.5H1168.9V217.7H1172.7V217.8H1176.6V217.9H1180.5V218.0H1184.4V218.1H1188.3V218.2H1192.2V218.2H1196.1V218.3H1200.0V218.4H1203.9V218.5H1207.8V218.5H1211.7V218.5H1215.6V218.6H1219.5V218.7H1223.4V218.7H1227.3V218.8H1231.2V218.9H1235.1V219.0H1239.0V219.1H1242.9V219.2H1246.8V219.3H1250.7V219.4H1254.6V219.5H1258.5V219.6H1262.4V219.7H1266.3V219.8H1270.2V219.9H1274.1V220.1H1278.0V220.2H1281.9V220.3H1285.8V220.4H1289.7V220.5H1293.6V220.5H1297.5V220.6H1301.4V220.7H1305.2V220.8H1309.1V220.8H1313.0V220.9H1316.9V220.9H1320.8V221.0H1324.7V221.0H1328.6V221.0H1332.5V221.0H1336.4V221.0H1340.3V221.1H1344.2V221.1H1348.1V221.1H1352.0V221.1H1355.9V221.1H1359.8V221.2H1363.7V221.2H1367.6V221.2H1371.5V221.2H1375.4V221.2H1379.3V221.3H1383.2V221.3H1387.1V221.3H1391.0V221.3H1394.9V221.3H1398.8V221.4H1402.7V221.4H1406.6V221.4H1410.5V221.4H1414.4V221.4H1418.3V221.4H1422.2V221.5H1426.1V221.5H1430.0V221.5H1433.9V221.5H1437.8V221.5H1441.6V221.5H1445.5V221.5H1449.4V221.5H1453.3V221.5H1457.2V221.5H1461.1V221.5H1465.0V221.5H1468.9V221.5H1472.8V221.5H1476.7V221.5H1480.6V221.5H1484.5V221.5H1488.4V221.5H1492.3V221.5H1496.2V221.5H1500.1V221.5H1504.0V221.5H1507.9V221.5H1504.0V221.5H1500.1V341.4H1496.2V221.5H1492.3V221.5H1488.4V221.5H1484.5V341.4H1480.6V341.4H1476.7V221.5H1472.8V341.4H1468.9V221.5H1465.0V221.5H1461.1V221.5H1457.2V341.4H1453.3V341.4H1449.4V221.5H1445.5V341.4H1441.6V221.5H1437.8V221.5H1433.9V221.5H1430.0V221.5H1426.1V221.5H1422.2V221.4H1418.3V341.4H1414.4V221.4H1410.5V341.4H1406.6V221.4H1402.7V221.4H1398.8V341.4H1394.9V221.3H1391.0V341.4H1387.1V341.4H1383.2V221.3H1379.3V221.2H1375.4V341.4H1371.5V221.2H1367.6V221.2H1363.7V341.4H1359.8V341.4H1355.9V341.4H1352.0V341.4H1348.1V341.4H1344.2V221.1H1340.3V221.0H1336.4V221.0H1332.5V341.4H1328.6V221.0H1324.7V221.0H1320.8V341.4H1316.9V220.9H1313.0V341.4H1309.1V341.4H1305.2V220.7H1301.4V220.6H1297.5V341.4H1293.6V220.5H1289.7V341.4H1285.8V341.4H1281.9V341.4H1278.0V341.4H1274.1V219.9H1270.2V341.4H1266.3V219.7H1262.4V341.4H1258.5V219.5H1254.6V219.4H1250.7V341.4H1246.8V341.4H1242.9V219.1H1239.0V219.0H1235.1V341.4H1231.2V218.8H1227.3V218.7H1223.4V218.7H1219.5V341.4H1215.6V218.5H1211.7V218.5H1207.8V341.4H1203.9V218.4H1200.0V218.3H1196.1V341.4H1192.2V218.2H1188.3V341.4H1184.4V341.4H1180.5V341.4H1176.6V341.4H1172.7V217.7H1168.9V341.4H1165.0V217.4H1161.1V341.4H1157.2V341.4H1153.3V217.0H1149.4V216.9H1145.5V216.8H1141.6V216.7H1137.7V341.4H1133.8V341.4H1129.9V216.3H1126.0V341.4H1122.1V216.1H1118.2V216.0H1114.3V215.9H1110.4V341.4H1106.5V215.7H1102.6V215.7H1098.7V341.4H1094.8V341.4H1090.9V215.5H1087.0V341.4H1083.1V215.3H1079.2V215.3H1075.3V215.2H1071.4V215.1H1067.5V215.0H1063.6V214.9H1059.7V214.7H1055.8V341.4H1051.9V341.4H1048.0V341.4H1044.1V214.2H1040.2V341.4H1036.3V341.4H1032.5V213.8H1028.6V341.4H1024.7V341.4H1020.8V341.4H1016.9V341.4H1013.0V213.2H1009.1V213.1H1005.2V213.0H1001.3V212.9H997.4V212.8H993.5V212.7H989.6V212.7H985.7V212.6H981.8V212.6H977.9V341.4H974.0V341.4H970.1V212.5H966.2V212.5H962.3V341.4H958.4V212.4H954.5V341.4H950.6V212.4H946.7V341.4H942.8V212.4H938.9V341.4H935.0V212.3H931.1V212.3H927.2V341.4H923.3V341.4H919.4V212.2H915.5V341.4H911.6V341.4H907.7V341.4H903.8V212.1H899.9V212.1H896.1V341.4H892.2V212.1H888.3V212.1H884.4V341.4H880.5V341.4H876.6V212.0H872.7V212.0H868.8V212.0H864.9V212.0H861.0V341.4H857.1V341.4H853.2V212.0H849.3V341.4H845.4V212.0H841.5V212.0H837.6V341.4H833.7V341.4H829.8V212.0H825.9V341.4H822.0V212.1H818.1V341.4H814.2V341.4H810.3V212.1H806.4V341.4H802.5V212.2H798.6V212.2H794.7V341.4H790.8V341.4H786.9V341.4H783.0V212.3H779.1V212.3H775.2V212.3H771.3V341.4H767.4V212.4H763.5V212.4H759.7V341.4H755.8V212.4H751.9V212.4H748.0V212.5H744.1V341.4H740.2V212.5H736.3V212.5H732.4V212.5H728.5V341.4H724.6V212.5H720.7V341.4H716.8V212.6H712.9V341.4H709.0V341.4H705.1V341.4H701.2V212.6H697.3V212.6H693.4V341.4H689.5V212.7H685.6V212.7H681.7V212.7H677.8V341.4H673.9V341.4H670.0V341.4H666.1V341.4H662.2V341.4H658.3V212.8H654.4V341.4H650.5V212.9H646.6V212.9H642.7V212.9H638.8V212.9H634.9V212.9H631.0V213.0H627.2V213.0H623.3V213.0H619.4V213.0H615.5V341.4H611.6V213.0H607.7V213.0H603.8V341.4H599.9V341.4H596.0V341.4H592.1V341.4H588.2V213.1H584.3V213.1H580.4V341.4H576.5V341.4H572.6V341.4H568.7V341.4H564.8V341.4H560.9V213.2H557.0V213.2H553.1V213.2H549.2V341.4H545.3V213.3H541.4V213.3H537.5V213.3H533.6V213.3H529.7V341.4H525.8V341.4H521.9V213.4H518.0V341.4H514.1V341.4H510.2V341.4H506.3V341.4H502.4V213.5H498.5V341.4H494.6V341.4H490.8V341.4H486.9V213.6H483.0V213.6H479.1V213.7H475.2V213.7H471.3V213.8H467.4V213.9H463.5V341.4H459.6V341.4H455.7V341.4H451.8V214.2H447.9V214.3H444.0V341.4H440.1V214.5H436.2V341.4H432.3V214.8H428.4V214.9H424.5V215.0H420.6V215.1H416.7V215.2H412.8V215.3H408.9V215.4H405.0V341.4H401.1V215.6H397.2V341.4H393.3V341.4H389.4V215.8H385.5V215.9H381.6V341.4H377.7V216.0H373.8V341.4H369.9V216.1H366.0V216.2H362.1V216.3H358.2V341.4H354.4V341.4H350.5V216.6H346.6V341.4H342.7V341.4H338.8V217.0H334.9V341.4H331.0V341.4H327.1V341.4H323.2V341.4H319.3V341.4H315.4V217.9H311.5V218.1H307.6V218.2H303.7V218.4H299.8V341.4H295.9V218.6H292.0V218.8H288.1V218.9H284.2V219.0H280.3V341.4H276.4V219.2H272.5V219.3H268.6V341.4H264.7V341.4H260.8V219.5H256.9V219.6H253.0V219.7H249.1V341.4H245.2V341.4H241.3V341.4H237.4V341.4H233.5V220.2H229.6V220.3H225.7V341.4H221.8V341.4H218.0V220.7H214.1V220.9H210.2V221.0H206.3V341.4H202.4V341.4H198.5V221.4H194.6V221.6H190.7V221.7H186.8V341.4H182.9V341.4H179.0V341.4H175.1V341.4H171.2V222.2H167.3V222.3H163.4V222.4H159.5V222.4H155.6V341.4H151.7V341.4H147.8V222.5H143.9V222.5H140.0V341.4H136.1V222.5H132.2V341.4H128.3V341.4H124.4V222.5H120.5V222.5H116.6V222.5H112.7V222.5H108.8V341.4H104.9V341.4H101.0V341.4H97.1V341.4H93.2V222.5H89.3V341.4H85.5Z" fill="#333" fill-opacity="0.045"/><path d="M85.5 222.5H89.3V222.5H93.2V222.5H97.1V222.5H101.0V222.5H104.9V222.5H108.8V222.5H112.7V222.5H116.6V222.5H120.5V222.5H124.4V222.5H128.3V222.5H132.2V222.5H136.1V222.5H140.0V222.5H143.9V222.5H147.8V222.5H151.7V222.5H155.6V222.4H159.5V222.4H163.4V222.3H167.3V222.2H171.2V222.1H175.1V222.0H179.0V221.9H182.9V221.8H186.8V221.7H190.7V221.6H194.6V221.4H198.5V221.3H202.4V221.2H206.3V221.0H210.2V220.9H214.1V220.7H218.0V220.6H221.8V220.5H225.7V220.3H229.6V220.2H233.5V220.1H237.4V220.0H241.3V219.9H245.2V219.8H249.1V219.7H253.0V219.6H256.9V219.5H260.8V219.5H264.7V219.4H268.6V219.3H272.5V219.2H276.4V219.1H280.3V219.0H284.2V218.9H288.1V218.8H292.0V218.6H295.9V218.5H299.8V218.4H303.7V218.2H307.6V218.1H311.5V217.9H315.4V217.8H319.3V217.6H323.2V217.5H327.1V217.3H331.0V217.2H334.9V217.0H338.8V216.9H342.7V216.8H346.6V216.6H350.5V216.5H354.4V216.4H358.2V216.3H362.1V216.2H366.0V216.1H369.9V216.1H373.8V216.0H377.7V215.9H381.6V215.9H385.5V215.8H389.4V215.7H393.3V215.7H397.2V215.6H401.1V215.5H405.0V215.4H408.9V215.3H412.8V215.2H416.7V215.1H420.6V215.0H424.5V214.9H428.4V214.8H432.3V214.6H436.2V214.5H440.1V214.4H444.0V214.3H447.9V214.2H451.8V214.1H455.7V214.0H459.6V214.0H463.5V213.9H467.4V213.8H471.3V213.7H475.2V213.7H479.1V213.6H483.0V213.6H486.9V213.5H490.8V213.5H494.6V213.5H498.5V213.5H502.4V213.5H506.3V213.4H510.2V213.4H514.1V213.4H518.0V213.4H521.9V213.4H525.8V213.4H529.7V213.3H533.6V213.3H537.5V213.3H541.4V213.3H545.3V213.3H549.2V213.2H553.1V213.2H557.0V213.2H560.9V213.2H564.8V213.2H568.7V213.2H572.6V213.1H576.5V213.1H580.4V213.1H584.3V213.1H588.2V213.1H592.1V213.1H596.0V213.0H599.9V213.0H603.8V213.0H607.7V213.0H611.6V213.0H615.5V213.0H619.4V213.0H623.3V213.0H627.2V213.0H631.0V212.9H634.9V212.9H638.8V212.9H642.7V212.9H646.6V212.9H650.5V212.9H654.4V212.8H658.3V212.8H662.2V212.8H666.1V212.8H670.0V212.8H673.9V212.7H677.8V212.7H681.7V212.7H685.6V212.7H689.5V212.7H693.4V212.6H697.3V212.6H701.2V212.6H705.1V212.6H709.0V212.6H712.9V212.6H716.8V212.5H720.7V212.5H724.6V212.5H728.5V212.5H732.4V212.5H736.3V212.5H740.2V212.5H744.1V212.5H748.0V212.4H751.9V212.4H755.8V212.4H759.7V212.4H763.5V212.4H767.4V212.3H771.3V212.3H775.2V212.3H779.1V212.3H783.0V212.3H786.9V212.2H790.8V212.2H794.7V212.2H798.6V212.2H802.5V212.1H806.4V212.1H810.3V212.1H814.2V212.1H818.1V212.1H822.0V212.1H825.9V212.0H829.8V212.0H833.7V212.0H837.6V212.0H841.5V212.0H845.4V212.0H849.3V212.0H853.2V212.0H857.1V212.0H861.0V212.0H864.9V212.0H868.8V212.0H872.7V212.0H876.6V212.0H880.5V212.1H884.4V212.1H888.3V212.1H892.2V212.1H896.1V212.1H899.9V212.1H903.8V212.2H907.7V212.2H911.6V212.2H915.5V212.2H919.4V212.2H923.3V212.3H927.2V212.3H931.1V212.3H935.0V212.3H938.9V212.4H942.8V212.4H946.7V212.4H950.6V212.4H954.5V212.4H958.4V212.5H962.3V212.5H966.2V212.5H970.1V212.5H974.0V212.5H977.9V212.6H981.8V212.6H985.7V212.7H989.6V212.7H993.5V212.8H997.4V212.9H1001.3V213.0H1005.2V213.1H1009.1V213.2H1013.0V213.3H1016.9V213.4H1020.8V213.6H1024.7V213.7H1028.6V213.8H1032.5V214.0H1036.3V214.1H1040.2V214.2H1044.1V214.4H1048.0V214.5H1051.9V214.6H1055.8V214.7H1059.7V214.9H1063.6V215.0H1067.5V215.1H1071.4V215.2H1075.3V215.3H1079.2V215.3H1083.1V215.4H1087.0V215.5H1090.9V215.5H1094.8V215.6H1098.7V215.7H1102.6V215.7H1106.5V215.8H1110.4V215.9H1114.3V216.0H1118.2V216.1H1122.1V216.2H1126.0V216.3H1129.9V216.4H1133.8V216.6H1137.7V216.7H1141.6V216.8H1145.5V216.9H1149.4V217.0H1153.3V217.2H1157.2V217.3H1161.1V217.4H1165.0V217.5H1168.9V217.7H1172.7V217.8H1176.6V217.9H1180.5V218.0H1184.4V218.1H1188.3V218.2H1192.2V218.2H1196.1V218.3H1200.0V218.4H1203.9V218.5H1207.8V218.5H1211.7V218.5H1215.6V218.6H1219.5V218.7H1223.4V218.7H1227.3V218.8H1231.2V218.9H1235.1V219.0H1239.0V219.1H1242.9V219.2H1246.8V219.3H1250.7V219.4H1254.6V219.5H1258.5V219.6H1262.4V219.7H1266.3V219.8H1270.2V219.9H1274.1V220.1H1278.0V220.2H1281.9V220.3H1285.8V220.4H1289.7V220.5H1293.6V220.5H1297.5V220.6H1301.4V220.7H1305.2V220.8H1309.1V220.8H1313.0V220.9H1316.9V220.9H1320.8V221.0H1324.7V221.0H1328.6V221.0H1332.5V221.0H1336.4V221.0H1340.3V221.1H1344.2V221.1H1348.1V221.1H1352.0V221.1H1355.9V221.1H1359.8V221.2H1363.7V221.2H1367.6V221.2H1371.5V221.2H1375.4V221.2H1379.3V221.3H1383.2V221.3H1387.1V221.3H1391.0V221.3H1394.9V221.3H1398.8V221.4H1402.7V221.4H1406.6V221.4H1410.5V221.4H1414.4V221.4H1418.3V221.4H1422.2V221.5H1426.1V221.5H1430.0V221.5H1433.9V221.5H1437.8V221.5H1441.6V221.5H1445.5V221.5H1449.4V221.5H1453.3V221.5H1457.2V221.5H1461.1V221.5H1465.0V221.5H1468.9V221.5H1472.8V221.5H1476.7V221.5H1480.6V221.5H1484.5V221.5H1488.4V221.5H1492.3V221.5H1496.2V221.5H1500.1V221.5H1504.0V221.5H1507.9V221.5H1504.0V267.3H1500.1V227.3H1496.2V221.5H1492.3V221.5H1488.4V221.5H1484.5V236.7H1480.6V221.5H1476.7V221.5H1472.8V341.4H1468.9V229.9H1465.0V240.5H1461.1V243.1H1457.2V221.5H1453.3V221.5H1449.4V341.4H1445.5V233.8H1441.6V236.6H1437.8V306.5H1433.9V221.5H1430.0V221.5H1426.1V282.4H1422.2V221.4H1418.3V221.4H1414.4V238.9H1410.5V221.4H1406.6V221.4H1402.7V221.4H1398.8V221.3H1394.9V224.8H1391.0V227.0H1387.1V270.5H1383.2V233.2H1379.3V221.2H1375.4V301.1H1371.5V234.2H1367.6V221.2H1363.7V221.2H1359.8V241.7H1355.9V221.1H1352.0V232.7H1348.1V276.5H1344.2V240.2H1340.3V224.3H1336.4V221.0H1332.5V221.0H1328.6V221.0H1324.7V221.0H1320.8V220.9H1316.9V220.9H1313.0V220.8H1309.1V304.6H1305.2V220.7H1301.4V220.8H1297.5V270.4H1293.6V220.5H1289.7V235.9H1285.8V220.3H1281.9V220.2H1278.0V220.1H1274.1V219.9H1270.2V228.9H1266.3V219.7H1262.4V229.2H1258.5V219.5H1254.6V263.9H1250.7V220.8H1246.8V230.1H1242.9V219.1H1239.0V219.0H1235.1V245.8H1231.2V218.8H1227.3V228.4H1223.4V241.3H1219.5V256.9H1215.6V253.2H1211.7V218.5H1207.8V258.8H1203.9V227.4H1200.0V218.3H1196.1V228.0H1192.2V280.2H1188.3V218.1H1184.4V218.0H1180.5V223.3H1176.6V227.4H1172.7V251.4H1168.9V296.8H1165.0V217.4H1161.1V230.6H1157.2V217.3H1153.3V217.0H1149.4V216.9H1145.5V224.0H1141.6V216.7H1137.7V216.6H1133.8V216.4H1129.9V257.6H1126.0V216.2H1122.1V216.1H1118.2V216.0H1114.3V215.9H1110.4V241.5H1106.5V305.5H1102.6V245.5H1098.7V215.6H1094.8V231.7H1090.9V238.1H1087.0V261.3H1083.1V215.3H1079.2V215.3H1075.3V305.0H1071.4V227.9H1067.5V215.0H1063.6V314.8H1059.7V214.7H1055.8V214.6H1051.9V256.6H1048.0V229.7H1044.1V214.2H1040.2V267.2H1036.3V214.0H1032.5V217.6H1028.6V235.9H1024.7V233.8H1020.8V229.5H1016.9V217.9H1013.0V213.2H1009.1V213.1H1005.2V215.2H1001.3V212.9H997.4V341.4H993.5V223.0H989.6V341.4H985.7V212.6H981.8V212.6H977.9V212.5H974.0V222.0H970.1V212.5H966.2V237.9H962.3V212.5H958.4V253.8H954.5V216.7H950.6V220.2H946.7V227.0H942.8V250.0H938.9V212.3H935.0V259.7H931.1V286.0H927.2V212.3H923.3V212.2H919.4V212.2H915.5V222.3H911.6V212.2H907.7V287.0H903.8V336.6H899.9V212.1H896.1V212.1H892.2V259.7H888.3V219.8H884.4V239.7H880.5V281.7H876.6V266.1H872.7V234.3H868.8V341.4H864.9V292.0H861.0V212.0H857.1V212.0H853.2V212.0H849.3V262.3H845.4V306.9H841.5V212.0H837.6V212.0H833.7V212.0H829.8V225.2H825.9V262.4H822.0V240.7H818.1V263.6H814.2V255.7H810.3V212.1H806.4V238.6H802.5V341.4H798.6V241.9H794.7V217.1H790.8V212.2H786.9V212.3H783.0V212.3H779.1V222.0H775.2V212.7H771.3V246.6H767.4V220.7H763.5V276.3H759.7V234.6H755.8V212.4H751.9V212.4H748.0V341.4H744.1V214.3H740.2V212.5H736.3V212.5H732.4V250.1H728.5V212.5H724.6V242.9H720.7V212.5H716.8V265.4H712.9V212.6H709.0V341.4H705.1V225.1H701.2V212.6H697.3V284.9H693.4V212.7H689.5V212.7H685.6V261.2H681.7V212.7H677.8V299.9H673.9V240.7H670.0V246.1H666.1V228.3H662.2V215.4H658.3V224.3H654.4V247.6H650.5V254.3H646.6V212.9H642.7V212.9H638.8V240.6H634.9V212.9H631.0V228.8H627.2V291.3H623.3V268.5H619.4V295.0H615.5V213.0H611.6V213.0H607.7V219.6H603.8V213.0H599.9V274.3H596.0V294.2H592.1V245.4H588.2V263.0H584.3V213.1H580.4V286.0H576.5V243.9H572.6V224.4H568.7V234.5H564.8V213.2H560.9V214.1H557.0V221.7H553.1V256.2H549.2V224.1H545.3V225.3H541.4V213.3H537.5V213.3H533.6V213.3H529.7V222.3H525.8V341.4H521.9V295.4H518.0V213.4H514.1V213.4H510.2V262.0H506.3V218.7H502.4V213.5H498.5V213.5H494.6V265.9H490.8V213.5H486.9V213.6H483.0V220.6H479.1V215.6H475.2V213.7H471.3V229.0H467.4V213.9H463.5V260.3H459.6V255.9H455.7V214.1H451.8V232.9H447.9V250.3H444.0V288.4H440.1V214.5H436.2V263.7H432.3V214.8H428.4V239.9H424.5V256.3H420.6V215.1H416.7V215.2H412.8V215.3H408.9V215.4H405.0V215.5H401.1V215.6H397.2V271.7H393.3V226.2H389.4V220.3H385.5V236.9H381.6V223.2H377.7V216.0H373.8V216.1H369.9V216.1H366.0V255.4H362.1V216.3H358.2V216.4H354.4V219.7H350.5V245.0H346.6V216.8H342.7V226.4H338.8V268.0H334.9V217.2H331.0V285.3H327.1V217.5H323.2V247.3H319.3V217.8H315.4V217.9H311.5V252.2H307.6V234.4H303.7V317.3H299.8V233.3H295.9V226.8H292.0V218.8H288.1V248.3H284.2V240.0H280.3V276.6H276.4V219.2H272.5V219.3H268.6V219.4H264.7V323.5H260.8V244.1H256.9V219.6H253.0V219.7H249.1V219.8H245.2V219.9H241.3V234.9H237.4V220.1H233.5V220.2H229.6V220.3H225.7V220.5H221.8V263.1H218.0V295.7H214.1V220.9H210.2V242.9H206.3V221.2H202.4V243.2H198.5V261.6H194.6V221.6H190.7V236.3H186.8V263.9H182.9V341.4H179.0V236.2H175.1V222.5H171.2V268.1H167.3V222.3H163.4V249.1H159.5V222.4H155.6V222.5H151.7V222.5H147.8V226.5H143.9V222.5H140.0V247.7H136.1V222.5H132.2V225.1H128.3V272.2H124.4V222.5H120.5V222.5H116.6V228.5H112.7V222.5H108.8V244.5H104.9V222.5H101.0V264.3H97.1V262.5H93.2V222.5H89.3V247.3H85.5Z" fill="#333" fill-opacity="0.085"/><path d="M85.5 222.5H89.3V222.5H93.2V222.5H97.1V222.5H101.0V222.5H104.9V222.5H108.8V222.5H112.7V222.5H116.6V222.5H120.5V222.5H124.4V222.5H128.3V222.5H132.2V222.5H136.1V222.5H140.0V222.5H143.9V222.5H147.8V222.5H151.7V222.5H155.6V222.4H159.5V222.4H163.4V222.3H167.3V222.2H171.2V222.1H175.1V222.0H179.0V221.9H182.9V221.8H186.8V221.7H190.7V221.6H194.6V221.4H198.5V221.3H202.4V221.2H206.3V221.0H210.2V220.9H214.1V220.7H218.0V220.6H221.8V220.5H225.7V220.3H229.6V220.2H233.5V220.1H237.4V220.0H241.3V219.9H245.2V219.8H249.1V219.7H253.0V219.6H256.9V219.5H260.8V219.5H264.7V219.4H268.6V219.3H272.5V219.2H276.4V219.1H280.3V219.0H284.2V218.9H288.1V218.8H292.0V218.6H295.9V218.5H299.8V218.4H303.7V218.2H307.6V218.1H311.5V217.9H315.4V217.8H319.3V217.6H323.2V217.5H327.1V217.3H331.0V217.2H334.9V217.0H338.8V216.9H342.7V216.8H346.6V216.6H350.5V216.5H354.4V216.4H358.2V216.3H362.1V216.2H366.0V216.1H369.9V216.1H373.8V216.0H377.7V215.9H381.6V215.9H385.5V215.8H389.4V215.7H393.3V215.7H397.2V215.6H401.1V215.5H405.0V215.4H408.9V215.3H412.8V215.2H416.7V215.1H420.6V215.0H424.5V214.9H428.4V214.8H432.3V214.6H436.2V214.5H440.1V214.4H444.0V214.3H447.9V214.2H451.8V214.1H455.7V214.0H459.6V214.0H463.5V213.9H467.4V213.8H471.3V213.7H475.2V213.7H479.1V213.6H483.0V213.6H486.9V213.5H490.8V213.5H494.6V213.5H498.5V213.5H502.4V213.5H506.3V213.4H510.2V213.4H514.1V213.4H518.0V213.4H521.9V213.4H525.8V213.4H529.7V213.3H533.6V213.3H537.5V213.3H541.4V213.3H545.3V213.3H549.2V213.2H553.1V213.2H557.0V213.2H560.9V213.2H564.8V213.2H568.7V213.2H572.6V213.1H576.5V213.1H580.4V213.1H584.3V213.1H588.2V213.1H592.1V213.1H596.0V213.0H599.9V213.0H603.8V213.0H607.7V213.0H611.6V213.0H615.5V213.0H619.4V213.0H623.3V213.0H627.2V213.0H631.0V212.9H634.9V212.9H638.8V212.9H642.7V212.9H646.6V212.9H650.5V212.9H654.4V212.8H658.3V212.8H662.2V212.8H666.1V212.8H670.0V212.8H673.9V212.7H677.8V212.7H681.7V212.7H685.6V212.7H689.5V212.7H693.4V212.6H697.3V212.6H701.2V212.6H705.1V212.6H709.0V212.6H712.9V212.6H716.8V212.5H720.7V212.5H724.6V212.5H728.5V212.5H732.4V212.5H736.3V212.5H740.2V212.5H744.1V212.5H748.0V212.4H751.9V212.4H755.8V212.4H759.7V212.4H763.5V212.4H767.4V212.3H771.3V212.3H775.2V212.3H779.1V212.3H783.0V212.3H786.9V212.2H790.8V212.2H794.7V212.2H798.6V212.2H802.5V212.1H806.4V212.1H810.3V212.1H814.2V212.1H818.1V212.1H822.0V212.1H825.9V212.0H829.8V212.0H833.7V212.0H837.6V212.0H841.5V212.0H845.4V212.0H849.3V212.0H853.2V212.0H857.1V212.0H861.0V212.0H864.9V212.0H868.8V212.0H872.7V212.0H876.6V212.0H880.5V212.1H884.4V212.1H888.3V212.1H892.2V212.1H896.1V212.1H899.9V212.1H903.8V212.2H907.7V212.2H911.6V212.2H915.5V212.2H919.4V212.2H923.3V212.3H927.2V212.3H931.1V212.3H935.0V212.3H938.9V212.4H942.8V212.4H946.7V212.4H950.6V212.4H954.5V212.4H958.4V212.5H962.3V212.5H966.2V212.5H970.1V212.5H974.0V212.5H977.9V212.6H981.8V212.6H985.7V212.7H989.6V212.7H993.5V212.8H997.4V212.9H1001.3V213.0H1005.2V213.1H1009.1V213.2H1013.0V213.3H1016.9V213.4H1020.8V213.6H1024.7V213.7H1028.6V213.8H1032.5V214.0H1036.3V214.1H1040.2V214.2H1044.1V214.4H1048.0V214.5H1051.9V214.6H1055.8V214.7H1059.7V214.9H1063.6V215.0H1067.5V215.1H1071.4V215.2H1075.3V215.3H1079.2V215.3H1083.1V215.4H1087.0V215.5H1090.9V215.5H1094.8V215.6H1098.7V215.7H1102.6V215.7H1106.5V215.8H1110.4V215.9H1114.3V216.0H1118.2V216.1H1122.1V216.2H1126.0V216.3H1129.9V216.4H1133.8V216.6H1137.7V216.7H1141.6V216.8H1145.5V216.9H1149.4V217.0H1153.3V217.2H1157.2V217.3H1161.1V217.4H1165.0V217.5H1168.9V217.7H1172.7V217.8H1176.6V217.9H1180.5V218.0H1184.4V218.1H1188.3V218.2H1192.2V218.2H1196.1V218.3H1200.0V218.4H1203.9V218.5H1207.8V218.5H1211.7V218.5H1215.6V218.6H1219.5V218.7H1223.4V218.7H1227.3V218.8H1231.2V218.9H1235.1V219.0H1239.0V219.1H1242.9V219.2H1246.8V219.3H1250.7V219.4H1254.6V219.5H1258.5V219.6H1262.4V219.7H1266.3V219.8H1270.2V219.9H1274.1V220.1H1278.0V220.2H1281.9V220.3H1285.8V220.4H1289.7V220.5H1293.6V220.5H1297.5V220.6H1301.4V220.7H1305.2V220.8H1309.1V220.8H1313.0V220.9H1316.9V220.9H1320.8V221.0H1324.7V221.0H1328.6V221.0H1332.5V221.0H1336.4V221.0H1340.3V221.1H1344.2V221.1H1348.1V221.1H1352.0V221.1H1355.9V221.1H1359.8V221.2H1363.7V221.2H1367.6V221.2H1371.5V221.2H1375.4V221.2H1379.3V221.3H1383.2V221.3H1387.1V221.3H1391.0V221.3H1394.9V221.3H1398.8V221.4H1402.7V221.4H1406.6V221.4H1410.5V221.4H1414.4V221.4H1418.3V221.4H1422.2V221.5H1426.1V221.5H1430.0V221.5H1433.9V221.5H1437.8V221.5H1441.6V221.5H1445.5V221.5H1449.4V221.5H1453.3V221.5H1457.2V221.5H1461.1V221.5H1465.0V221.5H1468.9V221.5H1472.8V221.5H1476.7V221.5H1480.6V221.5H1484.5V221.5H1488.4V221.5H1492.3V221.5H1496.2V221.5H1500.1V221.5H1504.0V221.5H1507.9V221.5H1504.0V341.4H1500.1V288.5H1496.2V221.5H1492.3V244.0H1488.4V241.1H1484.5V221.5H1480.6V250.3H1476.7V224.6H1472.8V235.5H1468.9V262.1H1465.0V221.5H1461.1V236.4H1457.2V221.5H1453.3V260.8H1449.4V341.4H1445.5V243.6H1441.6V248.7H1437.8V221.5H1433.9V244.8H1430.0V334.4H1426.1V221.5H1422.2V227.6H1418.3V221.4H1414.4V239.2H1410.5V229.9H1406.6V221.4H1402.7V221.4H1398.8V230.2H1394.9V247.7H1391.0V221.3H1387.1V221.3H1383.2V223.3H1379.3V246.0H1375.4V241.9H1371.5V221.6H1367.6V221.2H1363.7V263.5H1359.8V221.1H1355.9V224.1H1352.0V340.6H1348.1V227.0H1344.2V255.9H1340.3V221.0H1336.4V251.2H1332.5V221.0H1328.6V221.0H1324.7V221.0H1320.8V220.9H1316.9V242.4H1313.0V220.8H1309.1V245.6H1305.2V226.5H1301.4V224.9H1297.5V302.2H1293.6V220.5H1289.7V336.3H1285.8V220.3H1281.9V246.0H1278.0V220.1H1274.1V219.9H1270.2V242.1H1266.3V223.8H1262.4V219.6H1258.5V341.4H1254.6V233.6H1250.7V298.0H1246.8V341.4H1242.9V219.1H1239.0V269.0H1235.1V218.9H1231.2V239.1H1227.3V226.4H1223.4V244.6H1219.5V220.0H1215.6V256.4H1211.7V240.9H1207.8V218.5H1203.9V233.8H1200.0V245.3H1196.1V227.6H1192.2V218.2H1188.3V278.0H1184.4V218.0H1180.5V233.5H1176.6V221.5H1172.7V221.1H1168.9V253.0H1165.0V217.4H1161.1V260.6H1157.2V217.2H1153.3V217.0H1149.4V216.9H1145.5V216.8H1141.6V227.4H1137.7V309.2H1133.8V216.4H1129.9V236.7H1126.0V220.5H1122.1V229.2H1118.2V216.0H1114.3V215.9H1110.4V215.8H1106.5V242.8H1102.6V248.7H1098.7V215.6H1094.8V241.4H1090.9V215.5H1087.0V255.8H1083.1V341.4H1079.2V215.3H1075.3V215.2H1071.4V215.1H1067.5V240.4H1063.6V221.3H1059.7V245.3H1055.8V266.4H1051.9V230.8H1048.0V270.1H1044.1V219.6H1040.2V214.1H1036.3V214.0H1032.5V213.8H1028.6V213.7H1024.7V234.9H1020.8V213.4H1016.9V214.6H1013.0V213.2H1009.1V213.1H1005.2V248.4H1001.3V219.2H997.4V295.0H993.5V212.7H989.6V212.7H985.7V217.9H981.8V212.6H977.9V218.6H974.0V212.5H970.1V223.1H966.2V276.1H962.3V212.5H958.4V249.5H954.5V212.4H950.6V341.0H946.7V247.5H942.8V226.2H938.9V212.3H935.0V244.3H931.1V235.1H927.2V287.5H923.3V244.8H919.4V258.5H915.5V308.7H911.6V255.7H907.7V214.3H903.8V212.1H899.9V212.1H896.1V225.3H892.2V231.4H888.3V242.3H884.4V285.2H880.5V212.0H876.6V279.4H872.7V212.0H868.8V212.0H864.9V224.9H861.0V212.0H857.1V261.2H853.2V212.0H849.3V241.4H845.4V212.0H841.5V212.0H837.6V212.0H833.7V212.0H829.8V341.4H825.9V212.1H822.0V212.1H818.1V246.3H814.2V212.1H810.3V212.1H806.4V236.2H802.5V232.4H798.6V212.2H794.7V238.9H790.8V231.6H786.9V212.3H783.0V212.3H779.1V212.3H775.2V212.3H771.3V212.3H767.4V221.2H763.5V274.2H759.7V222.4H755.8V217.7H751.9V234.5H748.0V230.5H744.1V212.5H740.2V212.5H736.3V212.5H732.4V231.9H728.5V222.1H724.6V212.5H720.7V212.5H716.8V241.2H712.9V222.6H709.0V218.5H705.1V215.1H701.2V247.2H697.3V218.6H693.4V254.9H689.5V215.4H685.6V282.6H681.7V275.7H677.8V234.2H673.9V229.4H670.0V238.3H666.1V215.1H662.2V271.7H658.3V234.8H654.4V215.4H650.5V223.2H646.6V320.7H642.7V212.9H638.8V285.0H634.9V212.9H631.0V221.3H627.2V213.0H623.3V242.3H619.4V213.9H615.5V233.4H611.6V306.3H607.7V216.7H603.8V290.7H599.9V213.0H596.0V235.8H592.1V213.1H588.2V215.9H584.3V318.3H580.4V213.1H576.5V279.7H572.6V213.2H568.7V213.2H564.8V213.2H560.9V213.2H557.0V213.2H553.1V220.2H549.2V213.3H545.3V218.2H541.4V233.7H537.5V270.0H533.6V234.7H529.7V223.0H525.8V321.5H521.9V213.4H518.0V213.4H514.1V242.6H510.2V213.4H506.3V213.5H502.4V235.4H498.5V261.2H494.6V213.5H490.8V229.2H486.9V213.6H483.0V213.6H479.1V213.7H475.2V213.7H471.3V218.3H467.4V213.9H463.5V214.0H459.6V259.7H455.7V276.9H451.8V296.4H447.9V278.4H444.0V214.4H440.1V218.6H436.2V214.6H432.3V214.8H428.4V214.9H424.5V294.2H420.6V234.4H416.7V215.5H412.8V215.3H408.9V222.8H405.0V227.2H401.1V215.6H397.2V242.7H393.3V251.3H389.4V215.8H385.5V215.9H381.6V338.2H377.7V216.0H373.8V216.1H369.9V216.1H366.0V216.2H362.1V239.1H358.2V216.4H354.4V216.5H350.5V265.4H346.6V216.8H342.7V341.4H338.8V235.4H334.9V217.2H331.0V256.0H327.1V283.5H323.2V217.6H319.3V217.8H315.4V217.9H311.5V218.1H307.6V218.6H303.7V218.4H299.8V218.5H295.9V242.5H292.0V218.8H288.1V218.9H284.2V219.0H280.3V219.1H276.4V304.3H272.5V223.4H268.6V235.7H264.7V223.8H260.8V244.4H256.9V219.6H253.0V219.7H249.1V219.8H245.2V219.9H241.3V220.0H237.4V220.1H233.5V221.9H229.6V220.3H225.7V220.5H221.8V341.4H218.0V246.9H214.1V225.8H210.2V254.0H206.3V237.1H202.4V260.7H198.5V221.4H194.6V238.4H190.7V221.7H186.8V257.3H182.9V328.8H179.0V222.0H175.1V222.1H171.2V277.6H167.3V222.3H163.4V267.4H159.5V278.5H155.6V222.5H151.7V222.5H147.8V222.5H143.9V238.2H140.0V302.6H136.1V316.6H132.2V222.5H128.3V222.5H124.4V235.4H120.5V293.4H116.6V222.5H112.7V238.5H108.8V266.7H104.9V268.7H101.0V230.8H97.1V260.2H93.2V231.4H89.3V285.4H85.5Z" fill="#333" fill-opacity="0.085"/><path d="M85.5 222.5H89.3V222.5H93.2V222.5H97.1V222.5H101.0V222.5H104.9V222.5H108.8V222.5H112.7V222.5H116.6V222.5H120.5V222.5H124.4V222.5H128.3V222.5H132.2V222.5H136.1V222.5H140.0V222.5H143.9V222.5H147.8V222.5H151.7V222.5H155.6V222.4H159.5V222.4H163.4V222.3H167.3V222.2H171.2V222.1H175.1V222.0H179.0V221.9H182.9V221.8H186.8V221.7H190.7V221.6H194.6V221.4H198.5V221.3H202.4V221.2H206.3V221.0H210.2V220.9H214.1V220.7H218.0V220.6H221.8V220.5H225.7V220.3H229.6V220.2H233.5V220.1H237.4V220.0H241.3V219.9H245.2V219.8H249.1V219.7H253.0V219.6H256.9V219.5H260.8V219.5H264.7V219.4H268.6V219.3H272.5V219.2H276.4V219.1H280.3V219.0H284.2V218.9H288.1V218.8H292.0V218.6H295.9V218.5H299.8V218.4H303.7V218.2H307.6V218.1H311.5V217.9H315.4V217.8H319.3V217.6H323.2V217.5H327.1V217.3H331.0V217.2H334.9V217.0H338.8V216.9H342.7V216.8H346.6V216.6H350.5V216.5H354.4V216.4H358.2V216.3H362.1V216.2H366.0V216.1H369.9V216.1H373.8V216.0H377.7V215.9H381.6V215.9H385.5V215.8H389.4V215.7H393.3V215.7H397.2V215.6H401.1V215.5H405.0V215.4H408.9V215.3H412.8V215.2H416.7V215.1H420.6V215.0H424.5V214.9H428.4V214.8H432.3V214.6H436.2V214.5H440.1V214.4H444.0V214.3H447.9V214.2H451.8V214.1H455.7V214.0H459.6V214.0H463.5V213.9H467.4V213.8H471.3V213.7H475.2V213.7H479.1V213.6H483.0V213.6H486.9V213.5H490.8V213.5H494.6V213.5H498.5V213.5H502.4V213.5H506.3V213.4H510.2V213.4H514.1V213.4H518.0V213.4H521.9V213.4H525.8V213.4H529.7V213.3H533.6V213.3H537.5V213.3H541.4V213.3H545.3V213.3H549.2V213.2H553.1V213.2H557.0V213.2H560.9V213.2H564.8V213.2H568.7V213.2H572.6V213.1H576.5V213.1H580.4V213.1H584.3V213.1H588.2V213.1H592.1V213.1H596.0V213.0H599.9V213.0H603.8V213.0H607.7V213.0H611.6V213.0H615.5V213.0H619.4V213.0H623.3V213.0H627.2V213.0H631.0V212.9H634.9V212.9H638.8V212.9H642.7V212.9H646.6V212.9H650.5V212.9H654.4V212.8H658.3V212.8H662.2V212.8H666.1V212.8H670.0V212.8H673.9V212.7H677.8V212.7H681.7V212.7H685.6V212.7H689.5V212.7H693.4V212.6H697.3V212.6H701.2V212.6H705.1V212.6H709.0V212.6H712.9V212.6H716.8V212.5H720.7V212.5H724.6V212.5H728.5V212.5H732.4V212.5H736.3V212.5H740.2V212.5H744.1V212.5H748.0V212.4H751.9V212.4H755.8V212.4H759.7V212.4H763.5V212.4H767.4V212.3H771.3V212.3H775.2V212.3H779.1V212.3H783.0V212.3H786.9V212.2H790.8V212.2H794.7V212.2H798.6V212.2H802.5V212.1H806.4V212.1H810.3V212.1H814.2V212.1H818.1V212.1H822.0V212.1H825.9V212.0H829.8V212.0H833.7V212.0H837.6V212.0H841.5V212.0H845.4V212.0H849.3V212.0H853.2V212.0H857.1V212.0H861.0V212.0H864.9V212.0H868.8V212.0H872.7V212.0H876.6V212.0H880.5V212.1H884.4V212.1H888.3V212.1H892.2V212.1H896.1V212.1H899.9V212.1H903.8V212.2H907.7V212.2H911.6V212.2H915.5V212.2H919.4V212.2H923.3V212.3H927.2V212.3H931.1V212.3H935.0V212.3H938.9V212.4H942.8V212.4H946.7V212.4H950.6V212.4H954.5V212.4H958.4V212.5H962.3V212.5H966.2V212.5H970.1V212.5H974.0V212.5H977.9V212.6H981.8V212.6H985.7V212.7H989.6V212.7H993.5V212.8H997.4V212.9H1001.3V213.0H1005.2V213.1H1009.1V213.2H1013.0V213.3H1016.9V213.4H1020.8V213.6H1024.7V213.7H1028.6V213.8H1032.5V214.0H1036.3V214.1H1040.2V214.2H1044.1V214.4H1048.0V214.5H1051.9V214.6H1055.8V214.7H1059.7V214.9H1063.6V215.0H1067.5V215.1H1071.4V215.2H1075.3V215.3H1079.2V215.3H1083.1V215.4H1087.0V215.5H1090.9V215.5H1094.8V215.6H1098.7V215.7H1102.6V215.7H1106.5V215.8H1110.4V215.9H1114.3V216.0H1118.2V216.1H1122.1V216.2H1126.0V216.3H1129.9V216.4H1133.8V216.6H1137.7V216.7H1141.6V216.8H1145.5V216.9H1149.4V217.0H1153.3V217.2H1157.2V217.3H1161.1V217.4H1165.0V217.5H1168.9V217.7H1172.7V217.8H1176.6V217.9H1180.5V218.0H1184.4V218.1H1188.3V218.2H1192.2V218.2H1196.1V218.3H1200.0V218.4H1203.9V218.5H1207.8V218.5H1211.7V218.5H1215.6V218.6H1219.5V218.7H1223.4V218.7H1227.3V218.8H1231.2V218.9H1235.1V219.0H1239.0V219.1H1242.9V219.2H1246.8V219.3H1250.7V219.4H1254.6V219.5H1258.5V219.6H1262.4V219.7H1266.3V219.8H1270.2V219.9H1274.1V220.1H1278.0V220.2H1281.9V220.3H1285.8V220.4H1289.7V220.5H1293.6V220.5H1297.5V220.6H1301.4V220.7H1305.2V220.8H1309.1V220.8H1313.0V220.9H1316.9V220.9H1320.8V221.0H1324.7V221.0H1328.6V221.0H1332.5V221.0H1336.4V221.0H1340.3V221.1H1344.2V221.1H1348.1V221.1H1352.0V221.1H1355.9V221.1H1359.8V221.2H1363.7V221.2H1367.6V221.2H1371.5V221.2H1375.4V221.2H1379.3V221.3H1383.2V221.3H1387.1V221.3H1391.0V221.3H1394.9V221.3H1398.8V221.4H1402.7V221.4H1406.6V221.4H1410.5V221.4H1414.4V221.4H1418.3V221.4H1422.2V221.5H1426.1V221.5H1430.0V221.5H1433.9V221.5H1437.8V221.5H1441.6V221.5H1445.5V221.5H1449.4V221.5H1453.3V221.5H1457.2V221.5H1461.1V221.5H1465.0V221.5H1468.9V221.5H1472.8V221.5H1476.7V221.5H1480.6V221.5H1484.5V221.5H1488.4V221.5H1492.3V221.5H1496.2V221.5H1500.1V221.5H1504.0V221.5H1507.9V246.9H1504.0V221.5H1500.1V221.5H1496.2V247.6H1492.3V241.7H1488.4V233.6H1484.5V221.5H1480.6V221.5H1476.7V291.1H1472.8V226.9H1468.9V221.5H1465.0V221.5H1461.1V221.5H1457.2V221.5H1453.3V221.5H1449.4V221.5H1445.5V267.0H1441.6V221.5H1437.8V221.5H1433.9V341.4H1430.0V235.6H1426.1V221.5H1422.2V228.2H1418.3V221.4H1414.4V281.5H1410.5V278.2H1406.6V249.1H1402.7V221.4H1398.8V244.3H1394.9V225.9H1391.0V221.3H1387.1V243.3H1383.2V228.5H1379.3V221.2H1375.4V247.4H1371.5V283.1H1367.6V232.8H1363.7V249.7H1359.8V341.4H1355.9V246.0H1352.0V292.4H1348.1V256.0H1344.2V265.1H1340.3V221.0H1336.4V253.1H1332.5V236.8H1328.6V281.4H1324.7V263.8H1320.8V341.4H1316.9V339.7H1313.0V224.8H1309.1V278.0H1305.2V287.5H1301.4V220.6H1297.5V274.9H1293.6V220.5H1289.7V220.4H1285.8V220.3H1281.9V236.7H1278.0V220.1H1274.1V225.2H1270.2V251.6H1266.3V243.8H1262.4V249.3H1258.5V227.7H1254.6V304.9H1250.7V219.3H1246.8V225.0H1242.9V232.1H1239.0V302.7H1235.1V228.2H1231.2V270.0H1227.3V341.4H1223.4V303.0H1219.5V237.1H1215.6V218.5H1211.7V225.6H1207.8V218.5H1203.9V218.4H1200.0V236.1H1196.1V222.0H1192.2V305.8H1188.3V218.1H1184.4V241.8H1180.5V217.9H1176.6V220.2H1172.7V297.8H1168.9V217.5H1165.0V217.4H1161.1V217.7H1157.2V217.2H1153.3V217.0H1149.4V216.9H1145.5V226.9H1141.6V249.7H1137.7V216.6H1133.8V216.4H1129.9V216.3H1126.0V216.2H1122.1V221.5H1118.2V216.0H1114.3V221.6H1110.4V215.8H1106.5V215.7H1102.6V215.7H1098.7V227.7H1094.8V215.5H1090.9V313.7H1087.0V247.7H1083.1V218.2H1079.2V215.3H1075.3V221.0H1071.4V215.1H1067.5V215.0H1063.6V247.1H1059.7V339.5H1055.8V214.6H1051.9V267.0H1048.0V341.4H1044.1V341.4H1040.2V269.8H1036.3V217.8H1032.5V233.1H1028.6V213.7H1024.7V236.8H1020.8V219.3H1016.9V213.3H1013.0V213.2H1009.1V213.1H1005.2V242.0H1001.3V212.9H997.4V212.8H993.5V212.7H989.6V212.7H985.7V212.6H981.8V288.3H977.9V212.5H974.0V218.4H970.1V212.5H966.2V296.0H962.3V212.5H958.4V212.4H954.5V212.4H950.6V214.7H946.7V256.4H942.8V212.4H938.9V212.3H935.0V212.3H931.1V238.7H927.2V263.3H923.3V257.6H919.4V231.8H915.5V212.2H911.6V234.8H907.7V212.2H903.8V212.1H899.9V341.4H896.1V259.5H892.2V217.8H888.3V212.1H884.4V212.1H880.5V220.6H876.6V341.4H872.7V212.0H868.8V338.7H864.9V212.0H861.0V279.3H857.1V318.4H853.2V212.0H849.3V231.1H845.4V225.9H841.5V212.0H837.6V231.3H833.7V225.0H829.8V230.9H825.9V296.9H822.0V226.8H818.1V252.8H814.2V212.1H810.3V238.9H806.4V331.3H802.5V255.9H798.6V212.2H794.7V212.2H790.8V263.6H786.9V212.3H783.0V310.0H779.1V234.5H775.2V212.3H771.3V301.8H767.4V212.4H763.5V235.2H759.7V212.4H755.8V247.0H751.9V212.4H748.0V322.6H744.1V232.7H740.2V225.2H736.3V213.3H732.4V226.3H728.5V212.5H724.6V212.5H720.7V235.3H716.8V268.2H712.9V212.6H709.0V244.0H705.1V212.6H701.2V221.3H697.3V214.5H693.4V232.1H689.5V289.7H685.6V217.7H681.7V212.7H677.8V212.7H673.9V281.3H670.0V212.8H666.1V269.1H662.2V232.8H658.3V251.0H654.4V212.9H650.5V212.9H646.6V212.9H642.7V247.2H638.8V212.9H634.9V212.9H631.0V215.2H627.2V267.3H623.3V213.7H619.4V238.9H615.5V213.0H611.6V213.0H607.7V239.9H603.8V252.9H599.9V213.0H596.0V259.3H592.1V213.1H588.2V252.3H584.3V247.1H580.4V240.8H576.5V213.1H572.6V213.2H568.7V213.2H564.8V341.4H560.9V226.7H557.0V213.2H553.1V213.2H549.2V337.0H545.3V213.3H541.4V277.1H537.5V224.6H533.6V213.3H529.7V213.4H525.8V213.4H521.9V213.4H518.0V227.2H514.1V271.5H510.2V232.5H506.3V230.2H502.4V213.5H498.5V219.7H494.6V218.8H490.8V239.5H486.9V213.6H483.0V325.8H479.1V218.1H475.2V213.7H471.3V235.9H467.4V213.9H463.5V277.6H459.6V214.0H455.7V230.9H451.8V214.2H447.9V262.5H444.0V214.4H440.1V223.5H436.2V273.5H432.3V214.8H428.4V214.9H424.5V238.4H420.6V215.1H416.7V216.3H412.8V252.8H408.9V216.0H405.0V218.0H401.1V215.6H397.2V215.7H393.3V216.2H389.4V215.8H385.5V241.9H381.6V280.4H377.7V216.0H373.8V262.5H369.9V228.8H366.0V229.1H362.1V216.3H358.2V226.7H354.4V227.3H350.5V219.9H346.6V217.0H342.7V269.7H338.8V341.4H334.9V217.2H331.0V240.6H327.1V341.4H323.2V226.8H319.3V240.9H315.4V219.3H311.5V218.1H307.6V218.2H303.7V255.6H299.8V218.5H295.9V218.6H292.0V341.4H288.1V297.5H284.2V219.0H280.3V230.2H276.4V263.7H272.5V301.5H268.6V219.4H264.7V225.6H260.8V219.5H256.9V224.2H253.0V219.7H249.1V339.4H245.2V219.9H241.3V220.0H237.4V220.1H233.5V227.7H229.6V257.6H225.7V312.9H221.8V220.6H218.0V220.7H214.1V335.1H210.2V222.0H206.3V246.5H202.4V221.3H198.5V221.4H194.6V250.2H190.7V221.7H186.8V253.0H182.9V221.9H179.0V251.9H175.1V222.1H171.2V271.8H167.3V222.3H163.4V231.2H159.5V227.5H155.6V244.8H151.7V222.5H147.8V265.5H143.9V242.1H140.0V249.0H136.1V284.8H132.2V222.5H128.3V242.4H124.4V222.5H120.5V341.4H116.6V241.9H112.7V309.2H108.8V240.9H104.9V222.5H101.0V323.7H97.1V300.4H93.2V222.5H89.3V222.5H85.5Z" fill="#333" fill-opacity="0.085"/><path d="M85.5 222.5H89.3V222.5H93.2V222.5H97.1V222.5H101.0V222.5H104.9V222.5H108.8V222.5H112.7V222.5H116.6V222.5H120.5V222.5H124.4V222.5H128.3V222.5H132.2V222.5H136.1V222.5H140.0V222.5H143.9V222.5H147.8V222.5H151.7V222.5H155.6V222.4H159.5V222.4H163.4V222.3H167.3V222.2H171.2V222.1H175.1V222.0H179.0V221.9H182.9V221.8H186.8V221.7H190.7V221.6H194.6V221.4H198.5V221.3H202.4V221.2H206.3V221.0H210.2V220.9H214.1V220.7H218.0V220.6H221.8V220.5H225.7V220.3H229.6V220.2H233.5V220.1H237.4V220.0H241.3V219.9H245.2V219.8H249.1V219.7H253.0V219.6H256.9V219.5H260.8V219.5H264.7V219.4H268.6V219.3H272.5V219.2H276.4V219.1H280.3V219.0H284.2V218.9H288.1V218.8H292.0V218.6H295.9V218.5H299.8V218.4H303.7V218.2H307.6V218.1H311.5V217.9H315.4V217.8H319.3V217.6H323.2V217.5H327.1V217.3H331.0V217.2H334.9V217.0H338.8V216.9H342.7V216.8H346.6V216.6H350.5V216.5H354.4V216.4H358.2V216.3H362.1V216.2H366.0V216.1H369.9V216.1H373.8V216.0H377.7V215.9H381.6V215.9H385.5V215.8H389.4V215.7H393.3V215.7H397.2V215.6H401.1V215.5H405.0V215.4H408.9V215.3H412.8V215.2H416.7V215.1H420.6V215.0H424.5V214.9H428.4V214.8H432.3V214.6H436.2V214.5H440.1V214.4H444.0V214.3H447.9V214.2H451.8V214.1H455.7V214.0H459.6V214.0H463.5V213.9H467.4V213.8H471.3V213.7H475.2V213.7H479.1V213.6H483.0V213.6H486.9V213.5H490.8V213.5H494.6V213.5H498.5V213.5H502.4V213.5H506.3V213.4H510.2V213.4H514.1V213.4H518.0V213.4H521.9V213.4H525.8V213.4H529.7V213.3H533.6V213.3H537.5V213.3H541.4V213.3H545.3V213.3H549.2V213.2H553.1V213.2H557.0V213.2H560.9V213.2H564.8V213.2H568.7V213.2H572.6V213.1H576.5V213.1H580.4V213.1H584.3V213.1H588.2V213.1H592.1V213.1H596.0V213.0H599.9V213.0H603.8V213.0H607.7V213.0H611.6V213.0H615.5V213.0H619.4V213.0H623.3V213.0H627.2V213.0H631.0V212.9H634.9V212.9H638.8V212.9H642.7V212.9H646.6V212.9H650.5V212.9H654.4V212.8H658.3V212.8H662.2V212.8H666.1V212.8H670.0V212.8H673.9V212.7H677.8V212.7H681.7V212.7H685.6V212.7H689.5V212.7H693.4V212.6H697.3V212.6H701.2V212.6H705.1V212.6H709.0V212.6H712.9V212.6H716.8V212.5H720.7V212.5H724.6V212.5H728.5V212.5H732.4V212.5H736.3V212.5H740.2V212.5H744.1V212.5H748.0V212.4H751.9V212.4H755.8V212.4H759.7V212.4H763.5V212.4H767.4V212.3H771.3V212.3H775.2V212.3H779.1V212.3H783.0V212.3H786.9V212.2H790.8V212.2H794.7V212.2H798.6V212.2H802.5V212.1H806.4V212.1H810.3V212.1H814.2V212.1H818.1V212.1H822.0V212.1H825.9V212.0H829.8V212.0H833.7V212.0H837.6V212.0H841.5V212.0H845.4V212.0H849.3V212.0H853.2V212.0H857.1V212.0H861.0V212.0H864.9V212.0H868.8V212.0H872.7V212.0H876.6V212.0H880.5V212.1H884.4V212.1H888.3V212.1H892.2V212.1H896.1V212.1H899.9V212.1H903.8V212.2H907.7V212.2H911.6V212.2H915.5V212.2H919.4V212.2H923.3V212.3H927.2V212.3H931.1V212.3H935.0V212.3H938.9V212.4H942.8V212.4H946.7V212.4H950.6V212.4H954.5V212.4H958.4V212.5H962.3V212.5H966.2V212.5H970.1V212.5H974.0V212.5H977.9V212.6H981.8V212.6H985.7V212.7H989.6V212.7H993.5V212.8H997.4V212.9H1001.3V213.0H1005.2V213.1H1009.1V213.2H1013.0V213.3H1016.9V213.4H1020.8V213.6H1024.7V213.7H1028.6V213.8H1032.5V214.0H1036.3V214.1H1040.2V214.2H1044.1V214.4H1048.0V214.5H1051.9V214.6H1055.8V214.7H1059.7V214.9H1063.6V215.0H1067.5V215.1H1071.4V215.2H1075.3V215.3H1079.2V215.3H1083.1V215.4H1087.0V215.5H1090.9V215.5H1094.8V215.6H1098.7V215.7H1102.6V215.7H1106.5V215.8H1110.4V215.9H1114.3V216.0H1118.2V216.1H1122.1V216.2H1126.0V216.3H1129.9V216.4H1133.8V216.6H1137.7V216.7H1141.6V216.8H1145.5V216.9H1149.4V217.0H1153.3V217.2H1157.2V217.3H1161.1V217.4H1165.0V217.5H1168.9V217.7H1172.7V217.8H1176.6V217.9H1180.5V218.0H1184.4V218.1H1188.3V218.2H1192.2V218.2H1196.1V218.3H1200.0V218.4H1203.9V218.5H1207.8V218.5H1211.7V218.5H1215.6V218.6H1219.5V218.7H1223.4V218.7H1227.3V218.8H1231.2V218.9H1235.1V219.0H1239.0V219.1H1242.9V219.2H1246.8V219.3H1250.7V219.4H1254.6V219.5H1258.5V219.6H1262.4V219.7H1266.3V219.8H1270.2V219.9H1274.1V220.1H1278.0V220.2H1281.9V220.3H1285.8V220.4H1289.7V220.5H1293.6V220.5H1297.5V220.6H1301.4V220.7H1305.2V220.8H1309.1V220.8H1313.0V220.9H1316.9V220.9H1320.8V221.0H1324.7V221.0H1328.6V221.0H1332.5V221.0H1336.4V221.0H1340.3V221.1H1344.2V221.1H1348.1V221.1H1352.0V221.1H1355.9V221.1H1359.8V221.2H1363.7V221.2H1367.6V221.2H1371.5V221.2H1375.4V221.2H1379.3V221.3H1383.2V221.3H1387.1V221.3H1391.0V221.3H1394.9V221.3H1398.8V221.4H1402.7V221.4H1406.6V221.4H1410.5V221.4H1414.4V221.4H1418.3V221.4H1422.2V221.5H1426.1V221.5H1430.0V221.5H1433.9V221.5H1437.8V221.5H1441.6V221.5H1445.5V221.5H1449.4V221.5H1453.3V221.5H1457.2V221.5H1461.1V221.5H1465.0V221.5H1468.9V221.5H1472.8V221.5H1476.7V221.5H1480.6V221.5H1484.5V221.5H1488.4V221.5H1492.3V221.5H1496.2V221.5H1500.1V221.5H1504.0V221.5H1507.9V257.9H1504.0V247.4H1500.1V276.3H1496.2V231.6H1492.3V286.7H1488.4V229.3H1484.5V251.8H1480.6V221.5H1476.7V257.2H1472.8V230.0H1468.9V221.5H1465.0V228.9H1461.1V235.1H1457.2V221.5H1453.3V229.9H1449.4V222.6H1445.5V245.5H1441.6V251.4H1437.8V221.5H1433.9V221.5H1430.0V221.5H1426.1V221.5H1422.2V315.4H1418.3V244.2H1414.4V224.1H1410.5V236.6H1406.6V270.1H1402.7V221.4H1398.8V229.0H1394.9V235.1H1391.0V246.1H1387.1V240.3H1383.2V221.3H1379.3V221.2H1375.4V306.6H1371.5V249.3H1367.6V227.4H1363.7V221.2H1359.8V221.1H1355.9V221.1H1352.0V221.1H1348.1V221.1H1344.2V228.8H1340.3V272.1H1336.4V251.2H1332.5V221.0H1328.6V240.9H1324.7V221.0H1320.8V254.4H1316.9V242.1H1313.0V341.4H1309.1V220.8H1305.2V254.1H1301.4V220.6H1297.5V227.0H1293.6V238.7H1289.7V220.4H1285.8V222.8H1281.9V273.0H1278.0V239.4H1274.1V271.9H1270.2V219.8H1266.3V254.0H1262.4V219.6H1258.5V247.0H1254.6V220.9H1250.7V284.2H1246.8V330.2H1242.9V225.1H1239.0V219.0H1235.1V246.4H1231.2V248.6H1227.3V312.6H1223.4V218.7H1219.5V219.2H1215.6V218.5H1211.7V235.6H1207.8V264.6H1203.9V266.0H1200.0V218.3H1196.1V218.2H1192.2V227.4H1188.3V224.5H1184.4V218.0H1180.5V247.9H1176.6V245.1H1172.7V230.2H1168.9V217.5H1165.0V233.2H1161.1V269.1H1157.2V278.8H1153.3V231.8H1149.4V240.7H1145.5V216.8H1141.6V241.6H1137.7V216.6H1133.8V246.0H1129.9V221.8H1126.0V216.2H1122.1V220.8H1118.2V274.9H1114.3V254.3H1110.4V221.4H1106.5V254.5H1102.6V215.7H1098.7V215.6H1094.8V215.5H1090.9V215.5H1087.0V231.6H1083.1V341.4H1079.2V218.9H1075.3V215.2H1071.4V224.3H1067.5V311.7H1063.6V214.9H1059.7V218.7H1055.8V246.1H1051.9V214.5H1048.0V228.0H1044.1V214.2H1040.2V241.0H1036.3V274.4H1032.5V341.4H1028.6V264.2H1024.7V238.4H1020.8V213.4H1016.9V248.1H1013.0V213.2H1009.1V213.1H1005.2V230.8H1001.3V231.6H997.4V227.0H993.5V220.3H989.6V341.4H985.7V239.6H981.8V212.6H977.9V321.2H974.0V232.5H970.1V244.0H966.2V212.5H962.3V269.7H958.4V225.4H954.5V212.4H950.6V212.4H946.7V341.4H942.8V212.4H938.9V248.1H935.0V253.4H931.1V213.9H927.2V233.3H923.3V212.2H919.4V212.2H915.5V217.7H911.6V224.0H907.7V212.2H903.8V212.1H899.9V212.1H896.1V219.6H892.2V212.1H888.3V212.5H884.4V212.1H880.5V341.4H876.6V212.0H872.7V276.1H868.8V217.7H864.9V226.4H861.0V212.3H857.1V226.8H853.2V255.8H849.3V262.4H845.4V212.0H841.5V253.3H837.6V224.8H833.7V212.9H829.8V212.0H825.9V212.1H822.0V215.0H818.1V212.1H814.2V255.2H810.3V299.3H806.4V214.9H802.5V212.2H798.6V231.2H794.7V221.7H790.8V281.7H786.9V224.6H783.0V212.3H779.1V212.9H775.2V215.4H771.3V249.4H767.4V212.4H763.5V222.4H759.7V237.3H755.8V243.7H751.9V212.4H748.0V212.9H744.1V216.1H740.2V212.5H736.3V212.5H732.4V246.0H728.5V212.5H724.6V250.0H720.7V234.2H716.8V236.4H712.9V215.8H709.0V253.5H705.1V255.1H701.2V298.1H697.3V222.8H693.4V243.6H689.5V216.5H685.6V341.4H681.7V252.9H677.8V212.7H673.9V229.4H670.0V212.8H666.1V255.5H662.2V212.8H658.3V212.8H654.4V227.5H650.5V212.9H646.6V227.3H642.7V234.9H638.8V212.9H634.9V284.3H631.0V252.0H627.2V264.5H623.3V341.4H619.4V213.0H615.5V215.9H611.6V243.1H607.7V216.9H603.8V224.2H599.9V332.1H596.0V217.3H592.1V217.1H588.2V246.9H584.3V237.2H580.4V213.1H576.5V270.5H572.6V226.8H568.7V241.4H564.8V223.9H560.9V243.7H557.0V214.0H553.1V213.2H549.2V213.3H545.3V213.3H541.4V213.3H537.5V341.4H533.6V341.4H529.7V213.4H525.8V249.6H521.9V213.4H518.0V213.4H514.1V213.4H510.2V296.5H506.3V232.6H502.4V213.5H498.5V221.3H494.6V213.5H490.8V259.9H486.9V253.4H483.0V228.0H479.1V213.7H475.2V238.1H471.3V213.8H467.4V213.9H463.5V265.7H459.6V214.0H455.7V237.7H451.8V242.4H447.9V268.7H444.0V214.4H440.1V247.6H436.2V286.8H432.3V214.8H428.4V276.3H424.5V241.0H420.6V215.1H416.7V229.9H412.8V341.4H408.9V216.7H405.0V341.4H401.1V261.6H397.2V230.2H393.3V283.7H389.4V245.8H385.5V216.9H381.6V231.2H377.7V216.0H373.8V252.5H369.9V341.4H366.0V216.2H362.1V217.4H358.2V232.1H354.4V216.5H350.5V235.9H346.6V237.6H342.7V224.2H338.8V217.0H334.9V268.0H331.0V217.3H327.1V226.7H323.2V217.6H319.3V217.8H315.4V217.9H311.5V218.1H307.6V288.2H303.7V307.0H299.8V314.2H295.9V218.6H292.0V218.8H288.1V218.9H284.2V257.6H280.3V257.3H276.4V234.8H272.5V233.4H268.6V219.4H264.7V262.1H260.8V232.4H256.9V231.8H253.0V219.7H249.1V220.5H245.2V219.9H241.3V220.0H237.4V253.0H233.5V252.7H229.6V281.1H225.7V228.2H221.8V220.6H218.0V222.4H214.1V261.9H210.2V221.0H206.3V221.2H202.4V229.2H198.5V221.4H194.6V221.6H190.7V221.7H186.8V231.7H182.9V221.9H179.0V222.0H175.1V238.5H171.2V222.2H167.3V222.3H163.4V272.3H159.5V222.4H155.6V222.5H151.7V228.9H147.8V242.5H143.9V222.5H140.0V222.5H136.1V222.5H132.2V229.0H128.3V314.0H124.4V222.5H120.5V237.8H116.6V228.6H112.7V222.5H108.8V222.5H104.9V222.5H101.0V225.4H97.1V262.6H93.2V222.5H89.3V264.2H85.5Z" fill="#333" fill-opacity="0.085"/><path d="M85.5 219.2H89.3V215.5H93.2V218.3H97.1V213.6H101.0V217.6H104.9V217.0H108.8V216.4H112.7V219.4H116.6V219.2H120.5V217.7H124.4V212.2H128.3V211.6H132.2V219.4H136.1V211.9H140.0V212.5H143.9V213.3H147.8V211.8H151.7V219.1H155.6V217.4H159.5V218.9H163.4V216.0H167.3V215.5H171.2V219.0H175.1V215.3H179.0V211.2H182.9V215.8H186.8V212.0H190.7V217.7H194.6V218.9H198.5V215.3H202.4V211.9H206.3V217.1H210.2V215.2H214.1V217.5H218.0V213.2H221.8V211.0H225.7V217.1H229.6V216.1H233.5V213.6H237.4V217.3H241.3V216.8H245.2V218.3H249.1V216.2H253.0V219.2H256.9V217.5H260.8V213.7H264.7V214.9H268.6V218.0H272.5V217.8H276.4V215.2H280.3V213.8H284.2V213.2H288.1V215.1H292.0V212.0H295.9V214.8H299.8V211.7H303.7V215.6H307.6V217.2H311.5V216.9H315.4V214.5H319.3V215.3H323.2V215.3H327.1V217.7H331.0V217.5H334.9V214.5H338.8V216.4H342.7V209.9H346.6V215.6H350.5V211.0H354.4V216.3H358.2V217.4H362.1V213.2H366.0V214.5H369.9V217.3H373.8V211.4H377.7V209.6H381.6V209.5H385.5V217.8H389.4V215.1H393.3V217.2H397.2V209.8H401.1V215.3H405.0V210.4H408.9V216.1H412.8V213.6H416.7V216.3H420.6V213.8H424.5V215.4H428.4V213.8H432.3V209.4H436.2V209.1H440.1V213.8H444.0V213.8H447.9V209.2H451.8V214.1H455.7V209.0H459.6V212.2H463.5V208.4H467.4V208.6H471.3V214.8H475.2V209.2H479.1V210.4H483.0V213.7H486.9V211.8H490.8V212.6H494.6V210.9H498.5V212.4H502.4V206.6H506.3V210.5H510.2V211.6H514.1V213.7H518.0V213.3H521.9V213.6H525.8V207.4H529.7V208.3H533.6V213.1H537.5V210.1H541.4V211.5H545.3V208.4H549.2V210.2H553.1V210.8H557.0V205.8H560.9V208.8H564.8V208.1H568.7V208.9H572.6V212.7H576.5V207.5H580.4V210.7H584.3V212.1H588.2V210.4H592.1V210.9H596.0V205.8H599.9V206.1H603.8V211.4H607.7V212.6H611.6V208.6H615.5V211.3H619.4V207.8H623.3V208.4H627.2V205.7H631.0V210.9H634.9V212.6H638.8V204.6H642.7V206.2H646.6V204.8H650.5V212.7H654.4V208.9H658.3V204.4H662.2V207.9H666.1V209.1H670.0V206.6H673.9V210.2H677.8V209.9H681.7V211.9H685.6V210.4H689.5V212.0H693.4V207.0H697.3V204.2H701.2V210.2H705.1V209.6H709.0V210.4H712.9V206.5H716.8V204.9H720.7V207.9H724.6V206.7H728.5V205.3H732.4V210.9H736.3V209.5H740.2V208.5H744.1V204.5H748.0V204.4H751.9V212.3H755.8V206.6H759.7V205.4H763.5V206.7H767.4V207.6H771.3V209.4H775.2V205.4H779.1V209.7H783.0V205.5H786.9V204.5H790.8V209.6H794.7V208.1H798.6V205.3H802.5V204.8H806.4V209.7H810.3V209.5H814.2V208.5H818.1V206.0H822.0V205.3H825.9V205.8H829.8V213.0H833.7V210.3H837.6V209.8H841.5V211.1H845.4V205.5H849.3V210.1H853.2V208.7H857.1V209.1H861.0V205.8H864.9V207.5H868.8V210.2H872.7V206.6H876.6V212.6H880.5V205.1H884.4V208.0H888.3V208.3H892.2V207.2H896.1V211.0H899.9V206.6H903.8V211.6H907.7V207.1H911.6V206.6H915.5V206.5H919.4V206.3H923.3V210.8H927.2V208.9H931.1V207.0H935.0V212.9H938.9V208.1H942.8V213.5H946.7V211.9H950.6V212.2H954.5V212.6H958.4V213.3H962.3V210.3H966.2V206.7H970.1V213.0H974.0V208.4H977.9V209.3H981.8V208.5H985.7V213.4H989.6V213.9H993.5V209.0H997.4V213.7H1001.3V212.8H1005.2V211.0H1009.1V211.2H1013.0V211.1H1016.9V213.1H1020.8V207.8H1024.7V212.0H1028.6V206.9H1032.5V210.7H1036.3V213.1H1040.2V212.1H1044.1V213.7H1048.0V212.5H1051.9V213.9H1055.8V207.5H1059.7V210.1H1063.6V209.5H1067.5V206.5H1071.4V207.7H1075.3V209.1H1079.2V210.2H1083.1V209.4H1087.0V214.2H1090.9V212.6H1094.8V212.7H1098.7V206.4H1102.6V212.0H1106.5V214.5H1110.4V214.3H1114.3V206.4H1118.2V210.1H1122.1V214.5H1126.0V213.7H1129.9V207.8H1133.8V213.1H1137.7V213.2H1141.6V212.2H1145.5V212.2H1149.4V206.9H1153.3V213.4H1157.2V213.7H1161.1V214.3H1165.0V208.7H1168.9V208.3H1172.7V213.4H1176.6V211.2H1180.5V211.1H1184.4V207.2H1188.3V208.7H1192.2V213.0H1196.1V211.4H1200.0V213.1H1203.9V213.6H1207.8V207.4H1211.7V207.7H1215.6V209.9H1219.5V212.2H1223.4V211.3H1227.3V208.9H1231.2V212.1H1235.1V208.6H1239.0V213.2H1242.9V212.8H1246.8V215.0H1250.7V208.7H1254.6V209.4H1258.5V209.8H1262.4V207.5H1266.3V208.4H1270.2V212.2H1274.1V213.7H1278.0V207.1H1281.9V210.2H1285.8V207.6H1289.7V208.5H1293.6V208.2H1297.5V210.0H1301.4V215.0H1305.2V209.3H1309.1V207.9H1313.0V214.2H1316.9V212.1H1320.8V209.0H1324.7V207.4H1328.6V208.4H1332.5V207.8H1336.4V207.9H1340.3V212.0H1344.2V211.1H1348.1V210.0H1352.0V215.8H1355.9V210.9H1359.8V211.8H1363.7V213.5H1367.6V214.7H1371.5V208.2H1375.4V209.7H1379.3V215.8H1383.2V210.4H1387.1V208.3H1391.0V214.2H1394.9V213.4H1398.8V216.4H1402.7V214.4H1406.6V213.5H1410.5V213.0H1414.4V215.5H1418.3V209.2H1422.2V214.2H1426.1V209.5H1430.0V211.0H1433.9V214.9H1437.8V216.4H1441.6V214.3H1445.5V215.1H1449.4V211.3H1453.3V214.1H1457.2V215.9H1461.1V209.4H1465.0V214.1H1468.9V208.9H1472.8V216.4H1476.7V208.5H1480.6V216.0H1484.5V212.6H1488.4V210.6H1492.3V213.1H1496.2V212.4H1500.1V208.8H1504.0V209.9H1507.9V225.2H1504.0V227.9H1500.1V225.8H1496.2V226.6H1492.3V221.9H1488.4V227.3H1484.5V224.2H1480.6V226.5H1476.7V226.5H1472.8V222.4H1468.9V222.6H1465.0V221.6H1461.1V225.9H1457.2V222.6H1453.3V227.6H1449.4V223.8H1445.5V225.8H1441.6V225.8H1437.8V226.2H1433.9V226.7H1430.0V226.0H1426.1V222.8H1422.2V224.3H1418.3V222.8H1414.4V223.5H1410.5V225.9H1406.6V225.5H1402.7V222.5H1398.8V223.0H1394.9V223.2H1391.0V220.9H1387.1V222.7H1383.2V223.6H1379.3V222.5H1375.4V221.7H1371.5V225.1H1367.6V226.5H1363.7V226.5H1359.8V224.1H1355.9V225.1H1352.0V222.1H1348.1V224.7H1344.2V224.4H1340.3V222.2H1336.4V222.2H1332.5V223.3H1328.6V222.0H1324.7V221.7H1320.8V221.6H1316.9V225.6H1313.0V220.6H1309.1V222.4H1305.2V220.8H1301.4V220.6H1297.5V222.9H1293.6V225.0H1289.7V222.8H1285.8V224.0H1281.9V225.4H1278.0V225.8H1274.1V226.1H1270.2V223.6H1266.3V222.8H1262.4V222.5H1258.5V222.1H1254.6V221.9H1250.7V225.5H1246.8V226.0H1242.9V222.3H1239.0V225.9H1235.1V221.8H1231.2V224.2H1227.3V223.8H1223.4V221.1H1219.5V221.2H1215.6V223.7H1211.7V220.5H1207.8V224.6H1203.9V225.6H1200.0V224.1H1196.1V224.3H1192.2V223.3H1188.3V225.1H1184.4V223.4H1180.5V225.5H1176.6V219.4H1172.7V222.0H1168.9V224.2H1165.0V223.6H1161.1V221.3H1157.2V224.1H1153.3V225.3H1149.4V221.5H1145.5V223.0H1141.6V224.7H1137.7V225.4H1133.8V220.9H1129.9V220.2H1126.0V224.7H1122.1V220.6H1118.2V220.2H1114.3V221.3H1110.4V219.8H1106.5V221.5H1102.6V221.8H1098.7V223.4H1094.8V221.5H1090.9V225.5H1087.0V219.6H1083.1V222.6H1079.2V221.9H1075.3V220.9H1071.4V220.6H1067.5V221.3H1063.6V221.6H1059.7V219.5H1055.8V225.0H1051.9V221.2H1048.0V225.5H1044.1V224.3H1040.2V221.7H1036.3V222.6H1032.5V220.6H1028.6V225.3H1024.7V221.7H1020.8V220.0H1016.9V221.4H1013.0V223.4H1009.1V224.9H1005.2V220.0H1001.3V221.7H997.4V220.4H993.5V222.1H989.6V220.6H985.7V224.2H981.8V223.4H977.9V221.3H974.0V220.3H970.1V221.2H966.2V224.1H962.3V219.9H958.4V220.8H954.5V218.8H950.6V220.3H946.7V218.6H942.8V220.2H938.9V223.2H935.0V220.3H931.1V223.4H927.2V222.4H923.3V220.0H919.4V223.3H915.5V222.5H911.6V221.0H907.7V219.6H903.8V218.2H899.9V218.8H896.1V223.6H892.2V222.6H888.3V218.5H884.4V219.5H880.5V223.9H876.6V223.6H872.7V223.3H868.8V223.9H864.9V219.8H861.0V224.0H857.1V220.0H853.2V220.8H849.3V223.3H845.4V221.8H841.5V222.5H837.6V223.3H833.7V221.7H829.8V217.7H825.9V222.6H822.0V221.2H818.1V222.3H814.2V222.0H810.3V221.6H806.4V220.0H802.5V221.1H798.6V221.9H794.7V222.8H790.8V222.2H786.9V220.1H783.0V217.6H779.1V223.2H775.2V220.3H771.3V221.6H767.4V219.3H763.5V220.5H759.7V219.5H755.8V217.6H751.9V218.8H748.0V219.5H744.1V220.9H740.2V222.9H736.3V218.9H732.4V221.5H728.5V218.4H724.6V219.6H720.7V218.8H716.8V222.5H712.9V219.0H709.0V222.7H705.1V221.8H701.2V218.0H697.3V217.5H693.4V220.6H689.5V220.6H685.6V223.1H681.7V219.4H677.8V218.1H673.9V219.9H670.0V222.9H666.1V221.3H662.2V221.3H658.3V217.5H654.4V217.7H650.5V218.7H646.6V219.0H642.7V219.5H638.8V222.9H634.9V221.1H631.0V217.9H627.2V220.4H623.3V218.7H619.4V221.4H615.5V219.4H611.6V218.0H607.7V223.7H603.8V217.9H599.9V220.5H596.0V219.6H592.1V218.9H588.2V219.7H584.3V219.6H580.4V224.1H576.5V223.6H572.6V220.6H568.7V220.5H564.8V219.6H560.9V222.0H557.0V220.3H553.1V224.4H549.2V219.7H545.3V219.0H541.4V220.5H537.5V222.2H533.6V224.9H529.7V220.5H525.8V224.6H521.9V223.1H518.0V219.1H514.1V219.2H510.2V220.6H506.3V219.4H502.4V225.2H498.5V221.8H494.6V220.4H490.8V222.8H486.9V219.7H483.0V223.3H479.1V223.1H475.2V223.5H471.3V219.8H467.4V221.7H463.5V220.2H459.6V226.4H455.7V225.3H451.8V220.6H447.9V221.2H444.0V221.4H440.1V222.7H436.2V226.3H432.3V225.2H428.4V225.4H424.5V227.1H420.6V224.3H416.7V227.0H412.8V222.6H408.9V224.0H405.0V227.5H401.1V227.1H397.2V228.1H393.3V223.4H389.4V223.1H385.5V227.5H381.6V228.3H377.7V222.5H373.8V223.0H369.9V225.0H366.0V224.3H362.1V225.5H358.2V226.4H354.4V228.4H350.5V228.5H346.6V223.4H342.7V227.7H338.8V227.3H334.9V227.9H331.0V225.0H327.1V228.5H323.2V228.7H319.3V228.5H315.4V224.0H311.5V229.4H307.6V229.3H303.7V225.4H299.8V224.5H295.9V228.1H292.0V228.1H288.1V225.9H284.2V229.4H280.3V226.8H276.4V224.8H272.5V226.9H268.6V229.3H264.7V225.0H260.8V226.8H256.9V228.4H253.0V228.5H249.1V229.7H245.2V226.6H241.3V229.2H237.4V229.7H233.5V226.3H229.6V224.7H225.7V225.5H221.8V225.0H218.0V226.3H214.1V225.9H210.2V227.4H206.3V227.2H202.4V227.9H198.5V229.5H194.6V225.8H190.7V224.8H186.8V226.4H182.9V227.1H179.0V225.4H175.1V230.1H171.2V229.8H167.3V224.0H163.4V226.3H159.5V226.9H155.6V227.2H151.7V229.7H147.8V227.2H143.9V224.0H140.0V224.7H136.1V228.1H132.2V226.5H128.3V229.5H124.4V225.9H120.5V224.5H116.6V230.2H112.7V230.1H108.8V226.5H104.9V226.9H101.0V228.8H97.1V227.5H93.2V227.8H89.3V226.4H85.5Z" fill="#f000f0" fill-opacity="0.085"/><path d="M85.5 216.9H89.3V218.1H93.2V212.9H97.1V211.7H101.0V216.7H104.9V214.9H108.8V213.1H112.7V218.1H116.6V211.9H120.5V217.0H124.4V214.5H128.3V217.4H132.2V219.0H136.1V217.4H140.0V213.8H143.9V216.0H147.8V213.0H151.7V218.9H155.6V211.1H159.5V211.0H163.4V216.9H167.3V211.2H171.2V213.4H175.1V216.1H179.0V214.1H182.9V215.3H186.8V214.2H190.7V213.2H194.6V219.1H198.5V214.2H202.4V212.4H206.3V218.5H210.2V215.9H214.1V211.7H218.0V216.9H221.8V216.6H225.7V218.6H229.6V215.4H233.5V214.6H237.4V213.2H241.3V213.0H245.2V213.6H249.1V218.7H253.0V212.4H256.9V215.5H260.8V212.0H264.7V211.7H268.6V218.5H272.5V215.9H276.4V213.8H280.3V211.8H284.2V218.4H288.1V211.7H292.0V219.0H295.9V218.0H299.8V210.6H303.7V212.0H307.6V210.6H311.5V218.3H315.4V211.5H319.3V212.8H323.2V217.0H327.1V216.1H331.0V216.6H334.9V214.4H338.8V210.2H342.7V211.1H346.6V212.7H350.5V210.9H354.4V217.1H358.2V213.7H362.1V217.4H366.0V213.7H369.9V217.4H373.8V214.8H377.7V212.7H381.6V210.1H385.5V210.5H389.4V217.7H393.3V215.3H397.2V212.8H401.1V210.7H405.0V211.9H408.9V209.9H412.8V208.6H416.7V216.6H420.6V215.3H424.5V212.3H428.4V212.9H432.3V215.7H436.2V212.4H440.1V209.4H444.0V215.8H447.9V212.4H451.8V213.2H455.7V215.2H459.6V214.0H463.5V209.6H467.4V215.0H471.3V212.6H475.2V209.9H479.1V207.8H483.0V208.2H486.9V209.4H490.8V211.5H494.6V210.2H498.5V208.4H502.4V207.5H506.3V210.9H510.2V207.5H514.1V208.7H518.0V214.0H521.9V208.9H525.8V207.0H529.7V212.1H533.6V213.6H537.5V205.8H541.4V212.3H545.3V211.0H549.2V208.0H553.1V213.7H557.0V210.7H560.9V210.0H564.8V209.5H568.7V212.8H572.6V210.0H576.5V210.5H580.4V206.2H584.3V211.2H588.2V207.3H592.1V211.1H596.0V209.5H599.9V205.6H603.8V207.3H607.7V207.7H611.6V210.3H615.5V212.6H619.4V207.7H623.3V206.0H627.2V207.0H631.0V212.4H634.9V212.3H638.8V211.7H642.7V204.3H646.6V207.9H650.5V204.4H654.4V206.9H658.3V210.2H662.2V212.4H666.1V206.3H670.0V205.0H673.9V207.6H677.8V210.7H681.7V204.5H685.6V205.8H689.5V210.2H693.4V206.1H697.3V204.1H701.2V211.9H705.1V211.9H709.0V209.8H712.9V210.3H716.8V208.3H720.7V207.3H724.6V211.8H728.5V209.4H732.4V204.7H736.3V207.3H740.2V204.5H744.1V207.2H748.0V210.4H751.9V206.7H755.8V211.7H759.7V204.8H763.5V211.1H767.4V211.7H771.3V205.3H775.2V209.8H779.1V207.1H783.0V210.7H786.9V205.8H790.8V208.3H794.7V210.0H798.6V209.3H802.5V206.7H806.4V205.7H810.3V210.5H814.2V211.5H818.1V209.9H822.0V205.6H825.9V208.9H829.8V207.4H833.7V206.1H837.6V207.2H841.5V206.7H845.4V210.3H849.3V211.1H853.2V205.5H857.1V209.8H861.0V205.0H864.9V205.1H868.8V208.9H872.7V205.8H876.6V210.4H880.5V205.4H884.4V206.6H888.3V206.4H892.2V213.5H896.1V209.8H899.9V205.4H903.8V212.5H907.7V209.3H911.6V210.5H915.5V213.7H919.4V210.9H923.3V211.2H927.2V209.6H931.1V207.6H935.0V205.7H938.9V211.7H942.8V210.2H946.7V211.2H950.6V209.4H954.5V209.4H958.4V214.0H962.3V205.8H966.2V213.5H970.1V208.1H974.0V210.7H977.9V209.5H981.8V212.1H985.7V213.0H989.6V213.6H993.5V207.3H997.4V208.5H1001.3V210.6H1005.2V209.9H1009.1V213.1H1013.0V206.8H1016.9V207.3H1020.8V211.5H1024.7V206.4H1028.6V208.4H1032.5V207.2H1036.3V212.7H1040.2V209.1H1044.1V206.8H1048.0V207.7H1051.9V208.2H1055.8V213.3H1059.7V211.8H1063.6V213.4H1067.5V214.3H1071.4V213.8H1075.3V209.5H1079.2V208.7H1083.1V210.2H1087.0V212.4H1090.9V208.0H1094.8V207.5H1098.7V207.3H1102.6V206.4H1106.5V207.1H1110.4V211.4H1114.3V206.6H1118.2V209.2H1122.1V209.1H1126.0V209.1H1129.9V211.4H1133.8V212.2H1137.7V210.8H1141.6V206.9H1145.5V209.8H1149.4V206.9H1153.3V213.1H1157.2V212.4H1161.1V212.2H1165.0V214.6H1168.9V214.8H1172.7V211.8H1176.6V210.0H1180.5V208.3H1184.4V207.3H1188.3V207.5H1192.2V209.0H1196.1V210.8H1200.0V208.8H1203.9V208.0H1207.8V213.9H1211.7V208.8H1215.6V214.8H1219.5V212.1H1223.4V214.2H1227.3V214.9H1231.2V214.9H1235.1V208.7H1239.0V210.0H1242.9V213.6H1246.8V213.6H1250.7V208.3H1254.6V210.0H1258.5V208.3H1262.4V208.5H1266.3V212.9H1270.2V213.9H1274.1V207.1H1278.0V214.0H1281.9V213.0H1285.8V214.2H1289.7V212.8H1293.6V212.8H1297.5V210.5H1301.4V209.0H1305.2V211.7H1309.1V211.5H1313.0V212.9H1316.9V207.5H1320.8V213.3H1324.7V214.7H1328.6V212.2H1332.5V211.2H1336.4V210.0H1340.3V213.5H1344.2V210.5H1348.1V208.8H1352.0V211.3H1355.9V214.2H1359.8V214.2H1363.7V208.8H1367.6V215.1H1371.5V215.5H1375.4V208.5H1379.3V215.0H1383.2V210.0H1387.1V216.4H1391.0V214.9H1394.9V215.7H1398.8V212.7H1402.7V214.9H1406.6V211.2H1410.5V209.0H1414.4V214.8H1418.3V214.2H1422.2V213.7H1426.1V212.6H1430.0V213.9H1433.9V210.7H1437.8V209.7H1441.6V214.8H1445.5V209.3H1449.4V212.9H1453.3V216.0H1457.2V209.2H1461.1V214.8H1465.0V216.9H1468.9V216.8H1472.8V213.5H1476.7V209.0H1480.6V216.8H1484.5V210.6H1488.4V216.5H1492.3V208.7H1496.2V215.7H1500.1V213.8H1504.0V208.5H1507.9V226.0H1504.0V225.1H1500.1V225.8H1496.2V224.4H1492.3V222.8H1488.4V222.3H1484.5V222.2H1480.6V223.8H1476.7V224.3H1472.8V224.3H1468.9V226.2H1465.0V227.5H1461.1V227.6H1457.2V223.4H1453.3V224.2H1449.4V224.0H1445.5V225.0H1441.6V223.1H1437.8V222.2H1433.9V221.5H1430.0V225.1H1426.1V223.8H1422.2V226.7H1418.3V223.9H1414.4V222.9H1410.5V226.1H1406.6V223.6H1402.7V225.1H1398.8V227.5H1394.9V222.9H1391.0V224.7H1387.1V224.9H1383.2V221.5H1379.3V224.9H1375.4V222.8H1371.5V221.6H1367.6V226.9H1363.7V225.6H1359.8V226.1H1355.9V222.7H1352.0V220.4H1348.1V223.0H1344.2V221.8H1340.3V225.1H1336.4V222.6H1332.5V224.0H1328.6V221.7H1324.7V222.8H1320.8V221.5H1316.9V221.2H1313.0V222.1H1309.1V222.0H1305.2V221.9H1301.4V220.9H1297.5V226.4H1293.6V223.7H1289.7V224.7H1285.8V221.0H1281.9V220.7H1278.0V225.0H1274.1V223.4H1270.2V221.7H1266.3V224.0H1262.4V221.3H1258.5V224.6H1254.6V223.4H1250.7V225.8H1246.8V220.0H1242.9V222.7H1239.0V223.9H1235.1V222.0H1231.2V220.5H1227.3V220.9H1223.4V219.9H1219.5V221.6H1215.6V220.0H1211.7V223.7H1207.8V220.0H1203.9V223.7H1200.0V220.0H1196.1V221.6H1192.2V225.1H1188.3V223.3H1184.4V223.2H1180.5V222.5H1176.6V223.6H1172.7V223.1H1168.9V224.3H1165.0V220.7H1161.1V221.4H1157.2V222.6H1153.3V223.0H1149.4V225.5H1145.5V220.3H1141.6V220.5H1137.7V225.6H1133.8V224.9H1129.9V219.5H1126.0V219.7H1122.1V219.3H1118.2V220.3H1114.3V224.4H1110.4V224.4H1106.5V219.5H1102.6V220.1H1098.7V222.9H1094.8V224.8H1090.9V221.9H1087.0V222.8H1083.1V221.4H1079.2V220.4H1075.3V224.3H1071.4V223.5H1067.5V222.0H1063.6V224.0H1059.7V219.6H1055.8V219.8H1051.9V225.2H1048.0V220.0H1044.1V222.6H1040.2V219.9H1036.3V221.0H1032.5V221.4H1028.6V221.9H1024.7V225.3H1020.8V219.3H1016.9V219.4H1013.0V225.0H1009.1V219.8H1005.2V220.3H1001.3V218.8H997.4V223.7H993.5V222.1H989.6V222.7H985.7V219.5H981.8V224.0H977.9V220.0H974.0V219.5H970.1V222.3H966.2V222.3H962.3V220.3H958.4V221.2H954.5V218.9H950.6V220.0H946.7V220.0H942.8V222.2H938.9V222.7H935.0V223.7H931.1V221.7H927.2V221.0H923.3V219.9H919.4V221.3H915.5V223.2H911.6V223.6H907.7V223.5H903.8V224.5H899.9V220.4H896.1V218.6H892.2V218.4H888.3V221.3H884.4V221.2H880.5V221.2H876.6V223.3H872.7V222.7H868.8V221.9H864.9V222.1H861.0V218.6H857.1V220.6H853.2V223.7H849.3V220.0H845.4V223.3H841.5V222.7H837.6V221.7H833.7V223.8H829.8V223.8H825.9V222.5H822.0V219.4H818.1V220.1H814.2V219.2H810.3V221.7H806.4V218.8H802.5V223.4H798.6V217.7H794.7V221.9H790.8V217.7H786.9V222.5H783.0V217.9H779.1V222.3H775.2V220.9H771.3V218.6H767.4V223.0H763.5V221.1H759.7V221.7H755.8V221.9H751.9V221.0H748.0V222.4H744.1V221.2H740.2V217.2H736.3V221.5H732.4V222.6H728.5V217.5H724.6V221.9H720.7V222.3H716.8V223.2H712.9V222.4H709.0V223.4H705.1V219.0H701.2V219.3H697.3V223.3H693.4V218.3H689.5V221.7H685.6V219.9H681.7V223.5H677.8V218.4H673.9V221.3H670.0V220.6H666.1V217.6H662.2V217.3H658.3V222.7H654.4V217.4H650.5V217.7H646.6V218.4H642.7V217.5H638.8V222.6H634.9V221.5H631.0V219.9H627.2V222.2H623.3V223.0H619.4V218.9H615.5V223.5H611.6V218.6H607.7V223.4H603.8V220.6H599.9V219.4H596.0V219.0H592.1V221.1H588.2V222.6H584.3V222.4H580.4V224.1H576.5V219.6H572.6V218.1H568.7V219.2H564.8V218.7H560.9V223.3H557.0V224.3H553.1V218.9H549.2V220.3H545.3V223.9H541.4V224.4H537.5V224.6H533.6V220.8H529.7V219.0H525.8V219.3H521.9V221.0H518.0V221.2H514.1V219.4H510.2V222.9H506.3V219.3H502.4V219.6H498.5V224.0H494.6V224.1H490.8V224.5H486.9V224.5H483.0V222.5H479.1V225.2H475.2V220.7H471.3V220.9H467.4V220.8H463.5V221.3H459.6V222.2H455.7V221.8H451.8V220.9H447.9V226.2H444.0V223.3H440.1V221.8H436.2V224.8H432.3V223.3H428.4V221.9H424.5V223.5H420.6V226.8H416.7V222.7H412.8V223.6H408.9V226.1H405.0V228.0H401.1V224.6H397.2V227.2H393.3V224.2H389.4V223.1H385.5V223.5H381.6V227.8H377.7V226.0H373.8V227.0H369.9V228.2H366.0V228.5H362.1V225.8H358.2V228.2H354.4V226.6H350.5V223.9H346.6V223.7H342.7V226.9H338.8V227.5H334.9V225.8H331.0V229.4H327.1V225.4H323.2V224.9H319.3V225.1H315.4V227.6H311.5V229.0H307.6V226.6H303.7V224.0H299.8V226.9H295.9V227.7H292.0V228.6H288.1V226.0H284.2V229.0H280.3V227.5H276.4V227.3H272.5V224.7H268.6V229.2H264.7V227.5H260.8V229.7H256.9V230.2H253.0V229.9H249.1V226.5H245.2V228.0H241.3V224.8H237.4V227.6H233.5V228.1H229.6V227.6H225.7V227.5H221.8V228.3H218.0V227.8H214.1V227.5H210.2V226.4H206.3V230.3H202.4V226.8H198.5V224.2H194.6V224.8H190.7V227.5H186.8V228.6H182.9V225.4H179.0V229.1H175.1V228.0H171.2V225.2H167.3V230.3H163.4V224.6H159.5V224.5H155.6V228.1H151.7V227.2H147.8V225.7H143.9V227.1H140.0V229.3H136.1V224.0H132.2V226.7H128.3V230.0H124.4V226.5H120.5V229.0H116.6V229.5H112.7V226.8H108.8V230.2H104.9V225.3H101.0V225.9H97.1V229.6H93.2V228.2H89.3V225.0H85.5Z" fill="#f000f0" fill-opacity="0.085"/><path d="M85.5 215.0H89.3V215.2H93.2V212.3H97.1V213.4H101.0V216.1H104.9V217.5H108.8V215.3H112.7V213.8H116.6V212.7H120.5V213.8H124.4V216.5H128.3V218.9H132.2V211.3H136.1V215.5H140.0V216.1H143.9V217.6H147.8V212.0H151.7V212.2H155.6V212.2H159.5V213.8H163.4V213.3H167.3V215.5H171.2V218.4H175.1V217.9H179.0V218.1H182.9V211.4H186.8V219.1H190.7V215.4H194.6V218.2H198.5V211.7H202.4V211.7H206.3V213.7H210.2V213.8H214.1V218.1H218.0V218.5H221.8V216.2H225.7V212.1H229.6V218.1H233.5V211.6H237.4V219.2H241.3V214.1H245.2V217.8H249.1V214.8H253.0V216.5H256.9V217.7H260.8V217.6H264.7V216.9H268.6V211.9H272.5V213.0H276.4V216.9H280.3V214.8H284.2V211.8H288.1V213.1H292.0V216.9H295.9V211.9H299.8V213.5H303.7V216.4H307.6V213.7H311.5V214.6H315.4V211.1H319.3V217.3H323.2V218.0H327.1V212.6H331.0V214.2H334.9V217.9H338.8V215.5H342.7V216.8H346.6V213.0H350.5V216.8H354.4V211.5H358.2V212.3H362.1V211.0H366.0V216.6H369.9V212.7H373.8V214.0H377.7V211.8H381.6V217.3H385.5V209.5H389.4V212.4H393.3V212.8H397.2V211.1H401.1V213.6H405.0V216.0H408.9V213.5H412.8V212.8H416.7V210.7H420.6V214.8H424.5V216.2H428.4V210.1H432.3V215.2H436.2V209.1H440.1V213.4H444.0V210.3H447.9V214.9H451.8V211.8H455.7V211.3H459.6V214.4H463.5V209.4H467.4V213.1H471.3V208.5H475.2V212.0H479.1V210.3H483.0V209.6H486.9V211.4H490.8V209.2H494.6V212.0H498.5V212.6H502.4V213.8H506.3V213.1H510.2V211.0H514.1V207.8H518.0V208.8H521.9V211.7H525.8V208.9H529.7V207.2H533.6V208.7H537.5V208.7H541.4V208.0H545.3V210.3H549.2V208.2H553.1V207.5H557.0V208.6H560.9V205.7H564.8V213.3H568.7V207.4H572.6V213.1H576.5V207.3H580.4V210.0H584.3V212.8H588.2V209.5H592.1V209.0H596.0V205.8H599.9V209.8H603.8V208.8H607.7V205.4H611.6V210.0H615.5V209.5H619.4V211.4H623.3V206.8H627.2V207.2H631.0V212.8H634.9V210.0H638.8V209.6H642.7V209.9H646.6V205.5H650.5V207.5H654.4V208.9H658.3V207.6H662.2V206.8H666.1V207.1H670.0V208.4H673.9V211.5H677.8V212.2H681.7V211.2H685.6V207.5H689.5V207.8H693.4V205.8H697.3V209.4H701.2V206.7H705.1V207.6H709.0V210.1H712.9V205.3H716.8V206.0H720.7V208.0H724.6V211.2H728.5V210.9H732.4V206.7H736.3V210.6H740.2V211.2H744.1V208.8H748.0V210.5H751.9V208.4H755.8V209.7H759.7V206.4H763.5V211.1H767.4V207.6H771.3V204.5H775.2V204.6H779.1V208.9H783.0V210.6H786.9V206.3H790.8V208.7H794.7V211.1H798.6V210.7H802.5V208.0H806.4V205.0H810.3V208.7H814.2V210.9H818.1V206.5H822.0V206.0H825.9V205.4H829.8V207.7H833.7V207.6H837.6V205.2H841.5V206.8H845.4V209.0H849.3V204.9H853.2V206.8H857.1V205.7H861.0V211.2H864.9V206.8H868.8V207.1H872.7V207.7H876.6V208.8H880.5V211.5H884.4V208.1H888.3V211.3H892.2V207.9H896.1V206.8H899.9V207.0H903.8V205.9H907.7V212.3H911.6V207.1H915.5V209.7H919.4V211.2H923.3V209.0H927.2V212.6H931.1V212.8H935.0V206.7H938.9V206.6H942.8V209.2H946.7V211.4H950.6V213.7H954.5V213.4H958.4V211.6H962.3V206.2H966.2V213.2H970.1V210.0H974.0V214.1H977.9V207.0H981.8V212.4H985.7V207.1H989.6V212.1H993.5V212.4H997.4V208.0H1001.3V206.4H1005.2V209.9H1009.1V210.9H1013.0V207.3H1016.9V212.4H1020.8V206.5H1024.7V213.5H1028.6V210.4H1032.5V206.3H1036.3V213.6H1040.2V211.8H1044.1V212.2H1048.0V208.7H1051.9V208.6H1055.8V209.7H1059.7V213.4H1063.6V208.9H1067.5V213.5H1071.4V207.2H1075.3V213.9H1079.2V214.2H1083.1V210.0H1087.0V213.9H1090.9V206.7H1094.8V208.2H1098.7V206.4H1102.6V208.6H1106.5V213.0H1110.4V209.2H1114.3V211.5H1118.2V211.1H1122.1V211.5H1126.0V208.0H1129.9V213.8H1133.8V213.7H1137.7V207.9H1141.6V214.1H1145.5V210.2H1149.4V209.3H1153.3V209.8H1157.2V209.7H1161.1V211.4H1165.0V213.2H1168.9V208.8H1172.7V207.6H1176.6V206.7H1180.5V209.7H1184.4V208.0H1188.3V213.3H1192.2V210.0H1196.1V211.7H1200.0V210.5H1203.9V209.5H1207.8V207.2H1211.7V214.8H1215.6V213.5H1219.5V212.0H1223.4V206.8H1227.3V209.8H1231.2V207.3H1235.1V211.1H1239.0V209.2H1242.9V213.6H1246.8V214.1H1250.7V212.8H1254.6V212.9H1258.5V212.7H1262.4V209.3H1266.3V209.5H1270.2V214.5H1274.1V207.7H1278.0V213.1H1281.9V214.8H1285.8V213.2H1289.7V214.5H1293.6V214.5H1297.5V209.0H1301.4V211.3H1305.2V213.4H1309.1V212.2H1313.0V210.7H1316.9V213.6H1320.8V208.0H1324.7V210.2H1328.6V209.1H1332.5V209.8H1336.4V208.6H1340.3V208.5H1344.2V209.2H1348.1V215.6H1352.0V211.0H1355.9V208.5H1359.8V212.1H1363.7V214.3H1367.6V208.5H1371.5V209.2H1375.4V209.3H1379.3V211.1H1383.2V213.0H1387.1V210.9H1391.0V208.7H1394.9V214.8H1398.8V213.2H1402.7V212.3H1406.6V210.2H1410.5V210.7H1414.4V215.9H1418.3V211.8H1422.2V214.3H1426.1V209.0H1430.0V209.3H1433.9V214.0H1437.8V213.7H1441.6V215.2H1445.5V211.6H1449.4V212.8H1453.3V209.9H1457.2V211.8H1461.1V215.0H1465.0V212.9H1468.9V214.7H1472.8V210.8H1476.7V209.7H1480.6V216.9H1484.5V212.2H1488.4V211.9H1492.3V214.6H1496.2V211.5H1500.1V211.4H1504.0V214.2H1507.9V221.7H1504.0V226.8H1500.1V227.1H1496.2V222.1H1492.3V221.8H1488.4V225.5H1484.5V227.4H1480.6V224.6H1476.7V225.3H1472.8V226.0H1468.9V225.7H1465.0V227.7H1461.1V227.4H1457.2V223.8H1453.3V223.4H1449.4V223.1H1445.5V226.0H1441.6V223.1H1437.8V227.9H1433.9V223.8H1430.0V222.3H1426.1V224.4H1422.2V227.7H1418.3V225.0H1414.4V226.2H1410.5V222.5H1406.6V223.2H1402.7V226.1H1398.8V222.5H1394.9V226.3H1391.0V221.8H1387.1V224.2H1383.2V224.7H1379.3V223.4H1375.4V222.0H1371.5V221.7H1367.6V221.7H1363.7V226.7H1359.8V224.3H1355.9V221.2H1352.0V225.3H1348.1V224.5H1344.2V220.3H1340.3V220.5H1336.4V220.3H1332.5V225.7H1328.6V224.3H1324.7V223.5H1320.8V221.2H1316.9V226.4H1313.0V224.3H1309.1V226.5H1305.2V222.9H1301.4V223.7H1297.5V223.7H1293.6V226.1H1289.7V225.4H1285.8V221.3H1281.9V225.5H1278.0V220.1H1274.1V220.6H1270.2V222.1H1266.3V220.9H1262.4V222.1H1258.5V222.2H1254.6V222.3H1250.7V224.3H1246.8V221.4H1242.9V221.2H1239.0V221.2H1235.1V220.6H1231.2V225.7H1227.3V220.9H1223.4V221.8H1219.5V225.7H1215.6V220.6H1211.7V222.7H1207.8V222.4H1203.9V220.7H1200.0V225.5H1196.1V219.9H1192.2V223.5H1188.3V222.6H1184.4V225.6H1180.5V221.7H1176.6V221.0H1172.7V220.4H1168.9V223.6H1165.0V224.7H1161.1V219.4H1157.2V221.5H1153.3V223.9H1149.4V225.5H1145.5V220.7H1141.6V223.0H1137.7V223.3H1133.8V224.1H1129.9V219.8H1126.0V221.8H1122.1V225.7H1118.2V220.2H1114.3V220.7H1110.4V224.8H1106.5V223.5H1102.6V223.2H1098.7V221.2H1094.8V225.6H1090.9V225.1H1087.0V223.8H1083.1V223.3H1079.2V223.8H1075.3V223.1H1071.4V219.4H1067.5V224.2H1063.6V223.3H1059.7V221.3H1055.8V224.4H1051.9V221.4H1048.0V219.4H1044.1V220.4H1040.2V222.6H1036.3V224.9H1032.5V219.0H1028.6V221.6H1024.7V223.0H1020.8V221.7H1016.9V221.7H1013.0V221.1H1009.1V221.3H1005.2V222.1H1001.3V221.0H997.4V223.1H993.5V218.8H989.6V222.0H985.7V220.0H981.8V224.8H977.9V224.2H974.0V223.3H970.1V220.6H966.2V223.8H962.3V222.0H958.4V222.9H954.5V224.1H950.6V224.3H946.7V220.7H942.8V218.8H938.9V221.3H935.0V224.8H931.1V224.2H927.2V220.3H923.3V220.8H919.4V222.5H915.5V220.4H911.6V222.5H907.7V219.6H903.8V220.4H899.9V219.2H896.1V218.7H892.2V218.8H888.3V221.6H884.4V221.4H880.5V222.1H876.6V222.5H872.7V221.6H868.8V222.7H864.9V217.9H861.0V221.7H857.1V223.2H853.2V223.9H849.3V223.4H845.4V219.6H841.5V220.2H837.6V222.6H833.7V223.0H829.8V221.8H825.9V221.2H822.0V222.7H818.1V222.6H814.2V219.1H810.3V223.4H806.4V222.2H802.5V221.0H798.6V221.5H794.7V220.7H790.8V217.9H786.9V220.3H783.0V220.0H779.1V218.3H775.2V219.9H771.3V222.9H767.4V222.6H763.5V222.9H759.7V218.4H755.8V223.4H751.9V223.1H748.0V218.7H744.1V221.2H740.2V219.1H736.3V221.5H732.4V220.4H728.5V218.3H724.6V220.9H720.7V220.2H716.8V219.8H712.9V220.8H709.0V220.9H705.1V221.9H701.2V219.7H697.3V218.1H693.4V219.3H689.5V221.8H685.6V222.1H681.7V217.6H677.8V217.5H673.9V223.1H670.0V217.9H666.1V223.6H662.2V221.8H658.3V223.2H654.4V219.1H650.5V223.5H646.6V217.4H642.7V220.0H638.8V219.0H634.9V218.8H631.0V221.8H627.2V222.1H623.3V220.9H619.4V218.2H615.5V220.6H611.6V218.0H607.7V224.0H603.8V218.4H599.9V222.0H596.0V219.9H592.1V220.2H588.2V222.3H584.3V223.0H580.4V217.9H576.5V217.9H572.6V219.5H568.7V221.7H564.8V224.2H560.9V219.5H557.0V220.6H553.1V222.9H549.2V219.7H545.3V219.2H541.4V224.1H537.5V219.2H533.6V219.1H529.7V224.9H525.8V222.1H521.9V221.9H518.0V222.4H514.1V224.0H510.2V221.9H506.3V220.4H502.4V220.3H498.5V222.3H494.6V225.0H490.8V224.4H486.9V219.6H483.0V222.9H479.1V225.6H475.2V222.1H471.3V221.7H467.4V224.4H463.5V220.6H459.6V220.2H455.7V221.8H451.8V225.3H447.9V226.9H444.0V225.3H440.1V223.8H436.2V221.7H432.3V225.4H428.4V222.2H424.5V224.8H420.6V221.6H416.7V226.0H412.8V228.0H408.9V224.0H405.0V224.0H401.1V228.4H397.2V226.1H393.3V223.1H389.4V225.0H385.5V223.9H381.6V226.3H377.7V227.5H373.8V226.2H369.9V227.0H366.0V226.4H362.1V224.3H358.2V227.0H354.4V227.7H350.5V226.2H346.6V225.3H342.7V223.0H338.8V223.5H334.9V226.2H331.0V225.6H327.1V228.2H323.2V227.5H319.3V225.0H315.4V224.7H311.5V228.4H307.6V229.3H303.7V224.1H299.8V227.5H295.9V224.9H292.0V223.9H288.1V224.8H284.2V225.3H280.3V223.9H276.4V229.6H272.5V226.1H268.6V224.7H264.7V226.7H260.8V228.9H256.9V228.6H253.0V224.2H249.1V229.9H245.2V227.4H241.3V227.8H237.4V230.3H233.5V229.8H229.6V226.6H225.7V227.9H221.8V224.1H218.0V224.0H214.1V224.5H210.2V230.0H206.3V227.3H202.4V229.4H198.5V225.8H194.6V229.6H190.7V228.8H186.8V228.0H182.9V228.9H179.0V228.4H175.1V229.4H171.2V224.4H167.3V228.5H163.4V230.3H159.5V230.3H155.6V225.9H151.7V227.3H147.8V229.2H143.9V227.0H140.0V226.9H136.1V229.4H132.2V230.4H128.3V229.0H124.4V227.2H120.5V227.2H116.6V227.7H112.7V229.6H108.8V229.0H104.9V224.1H101.0V226.4H97.1V230.2H93.2V226.9H89.3V230.5H85.5Z" fill="#f000f0" fill-opacity="0.085"/><path d="M85.5 216.0H89.3V216.9H93.2V218.0H97.1V214.4H101.0V211.1H104.9V211.5H108.8V214.7H112.7V215.1H116.6V218.4H120.5V213.6H124.4V213.7H128.3V217.4H132.2V213.9H136.1V217.6H140.0V213.0H143.9V217.4H147.8V219.1H151.7V215.8H155.6V214.7H159.5V211.4H163.4V218.0H167.3V214.7H171.2V219.2H175.1V211.1H179.0V216.3H182.9V212.4H186.8V216.4H190.7V213.5H194.6V215.6H198.5V216.0H202.4V212.7H206.3V213.9H210.2V215.0H214.1V215.5H218.0V215.5H221.8V218.5H225.7V213.1H229.6V213.3H233.5V215.1H237.4V213.2H241.3V214.0H245.2V218.8H249.1V211.0H253.0V211.7H256.9V213.8H260.8V213.5H264.7V212.6H268.6V216.5H272.5V218.5H276.4V214.2H280.3V217.8H284.2V217.5H288.1V215.4H292.0V214.4H295.9V217.4H299.8V216.8H303.7V212.4H307.6V212.8H311.5V211.6H315.4V210.5H319.3V214.0H323.2V215.4H327.1V218.4H331.0V215.6H334.9V212.3H338.8V217.8H342.7V215.4H346.6V212.3H350.5V212.1H354.4V211.3H358.2V210.5H362.1V214.7H366.0V213.3H369.9V213.4H373.8V212.2H377.7V217.7H381.6V210.1H385.5V210.0H389.4V214.7H393.3V212.0H397.2V209.7H401.1V210.9H405.0V215.5H408.9V212.7H412.8V213.9H416.7V209.7H420.6V211.8H424.5V208.9H428.4V208.3H432.3V210.0H436.2V212.0H440.1V214.3H444.0V215.2H447.9V210.3H451.8V210.9H455.7V207.5H459.6V213.2H463.5V207.1H467.4V209.2H471.3V209.4H475.2V208.7H479.1V206.9H483.0V212.0H486.9V208.9H490.8V209.3H494.6V211.7H498.5V212.2H502.4V207.3H506.3V212.8H510.2V207.0H514.1V208.6H518.0V206.4H521.9V206.5H525.8V206.2H529.7V213.5H533.6V212.7H537.5V213.6H541.4V212.7H545.3V210.7H549.2V211.5H553.1V205.8H557.0V207.6H560.9V207.0H564.8V212.4H568.7V209.8H572.6V205.2H576.5V211.6H580.4V205.6H584.3V209.4H588.2V208.1H592.1V213.1H596.0V204.8H599.9V209.4H603.8V209.6H607.7V205.7H611.6V207.5H615.5V207.2H619.4V206.3H623.3V205.1H627.2V205.6H631.0V207.2H634.9V207.9H638.8V211.2H642.7V205.0H646.6V208.7H650.5V209.2H654.4V208.3H658.3V204.8H662.2V206.1H666.1V205.1H670.0V211.9H673.9V204.9H677.8V204.3H681.7V207.6H685.6V210.0H689.5V208.9H693.4V205.9H697.3V211.6H701.2V205.5H705.1V211.2H709.0V208.2H712.9V204.5H716.8V204.4H720.7V207.7H724.6V206.5H728.5V208.3H732.4V212.0H736.3V205.2H740.2V211.5H744.1V206.3H748.0V209.2H751.9V212.4H755.8V210.3H759.7V207.8H763.5V205.1H767.4V206.1H771.3V208.3H775.2V205.7H779.1V207.6H783.0V211.8H786.9V207.0H790.8V209.4H794.7V206.8H798.6V208.9H802.5V206.8H806.4V208.1H810.3V211.3H814.2V206.1H818.1V209.3H822.0V211.8H825.9V211.0H829.8V206.2H833.7V206.5H837.6V208.5H841.5V212.2H845.4V212.7H849.3V211.6H853.2V209.4H857.1V206.8H861.0V206.2H864.9V208.3H868.8V210.0H872.7V210.0H876.6V208.6H880.5V205.5H884.4V210.1H888.3V208.7H892.2V206.4H896.1V205.3H899.9V205.3H903.8V211.7H907.7V207.1H911.6V212.3H915.5V207.1H919.4V213.7H923.3V205.5H927.2V207.0H931.1V209.2H935.0V207.5H938.9V212.2H942.8V208.8H946.7V210.5H950.6V213.0H954.5V212.8H958.4V205.9H962.3V212.7H966.2V211.5H970.1V206.6H974.0V210.4H977.9V207.5H981.8V209.1H985.7V213.5H989.6V209.6H993.5V212.8H997.4V211.8H1001.3V211.3H1005.2V210.3H1009.1V210.0H1013.0V206.5H1016.9V207.2H1020.8V206.1H1024.7V211.2H1028.6V213.6H1032.5V212.8H1036.3V210.0H1040.2V214.1H1044.1V214.4H1048.0V212.0H1051.9V213.3H1055.8V206.2H1059.7V214.2H1063.6V210.3H1067.5V206.3H1071.4V207.1H1075.3V210.4H1079.2V212.8H1083.1V209.9H1087.0V214.1H1090.9V213.2H1094.8V212.0H1098.7V206.6H1102.6V210.6H1106.5V212.9H1110.4V209.9H1114.3V212.4H1118.2V214.6H1122.1V214.3H1126.0V206.4H1129.9V214.4H1133.8V209.4H1137.7V212.9H1141.6V209.8H1145.5V209.6H1149.4V210.5H1153.3V209.6H1157.2V214.0H1161.1V213.8H1165.0V211.2H1168.9V210.5H1172.7V210.9H1176.6V208.4H1180.5V210.7H1184.4V208.9H1188.3V213.3H1192.2V208.4H1196.1V212.0H1200.0V207.4H1203.9V212.5H1207.8V207.0H1211.7V214.6H1215.6V210.3H1219.5V211.1H1223.4V214.3H1227.3V207.6H1231.2V214.1H1235.1V209.4H1239.0V207.8H1242.9V215.1H1246.8V209.8H1250.7V210.3H1254.6V212.6H1258.5V208.1H1262.4V214.8H1266.3V212.7H1270.2V209.3H1274.1V207.9H1278.0V209.7H1281.9V209.8H1285.8V207.2H1289.7V210.0H1293.6V213.8H1297.5V212.1H1301.4V213.8H1305.2V215.4H1309.1V207.5H1313.0V210.0H1316.9V212.9H1320.8V212.4H1324.7V211.0H1328.6V209.5H1332.5V214.6H1336.4V212.2H1340.3V211.0H1344.2V215.6H1348.1V213.5H1352.0V210.1H1355.9V215.2H1359.8V215.4H1363.7V213.3H1367.6V211.0H1371.5V213.8H1375.4V213.1H1379.3V208.4H1383.2V216.1H1387.1V213.7H1391.0V210.7H1394.9V213.2H1398.8V208.6H1402.7V216.5H1406.6V209.8H1410.5V210.8H1414.4V209.9H1418.3V214.1H1422.2V213.4H1426.1V209.0H1430.0V214.5H1433.9V213.0H1437.8V208.9H1441.6V211.8H1445.5V208.9H1449.4V211.5H1453.3V212.4H1457.2V210.9H1461.1V208.6H1465.0V212.1H1468.9V212.0H1472.8V213.4H1476.7V213.6H1480.6V213.7H1484.5V216.2H1488.4V212.7H1492.3V215.5H1496.2V211.8H1500.1V215.6H1504.0V214.8H1507.9V224.7H1504.0V225.5H1500.1V226.8H1496.2V226.3H1492.3V223.6H1488.4V222.3H1484.5V222.2H1480.6V222.6H1476.7V226.4H1472.8V222.9H1468.9V227.6H1465.0V225.0H1461.1V221.7H1457.2V227.7H1453.3V222.1H1449.4V222.9H1445.5V224.8H1441.6V223.3H1437.8V225.4H1433.9V224.8H1430.0V226.4H1426.1V222.7H1422.2V222.1H1418.3V224.7H1414.4V225.5H1410.5V224.6H1406.6V221.3H1402.7V221.4H1398.8V223.8H1394.9V225.8H1391.0V225.8H1387.1V222.8H1383.2V221.8H1379.3V225.8H1375.4V222.2H1371.5V227.0H1367.6V222.5H1363.7V225.7H1359.8V223.9H1355.9V221.2H1352.0V221.7H1348.1V221.0H1344.2V225.4H1340.3V224.3H1336.4V225.5H1332.5V224.6H1328.6V226.5H1324.7V222.4H1320.8V225.2H1316.9V223.7H1313.0V224.6H1309.1V223.9H1305.2V223.4H1301.4V223.7H1297.5V226.0H1293.6V220.8H1289.7V221.1H1285.8V224.7H1281.9V223.8H1278.0V224.3H1274.1V224.4H1270.2V223.9H1266.3V220.4H1262.4V221.8H1258.5V223.4H1254.6V220.2H1250.7V221.9H1246.8V224.9H1242.9V221.0H1239.0V222.7H1235.1V224.9H1231.2V219.8H1227.3V221.2H1223.4V223.9H1219.5V220.8H1215.6V221.2H1211.7V223.9H1207.8V221.4H1203.9V223.9H1200.0V223.1H1196.1V225.6H1192.2V225.6H1188.3V225.5H1184.4V225.5H1180.5V224.8H1176.6V221.0H1172.7V224.7H1168.9V224.5H1165.0V224.2H1161.1V225.2H1157.2V222.6H1153.3V221.9H1149.4V224.8H1145.5V221.6H1141.6V223.8H1137.7V221.8H1133.8V222.5H1129.9V220.4H1126.0V221.9H1122.1V224.9H1118.2V222.7H1114.3V221.2H1110.4V220.6H1106.5V220.3H1102.6V221.4H1098.7V221.6H1094.8V220.7H1090.9V221.1H1087.0V225.5H1083.1V222.8H1079.2V222.3H1075.3V219.8H1071.4V223.9H1067.5V225.2H1063.6V220.3H1059.7V223.1H1055.8V224.8H1051.9V223.2H1048.0V219.3H1044.1V219.9H1040.2V221.5H1036.3V221.0H1032.5V219.1H1028.6V220.5H1024.7V223.0H1020.8V220.4H1016.9V223.0H1013.0V220.7H1009.1V224.3H1005.2V223.6H1001.3V221.0H997.4V221.0H993.5V220.3H989.6V222.8H985.7V219.6H981.8V224.8H977.9V223.5H974.0V219.6H970.1V218.9H966.2V223.0H962.3V219.3H958.4V222.4H954.5V218.6H950.6V221.2H946.7V224.9H942.8V222.9H938.9V220.5H935.0V222.6H931.1V223.1H927.2V223.9H923.3V224.0H919.4V219.6H915.5V220.5H911.6V220.9H907.7V222.2H903.8V222.3H899.9V222.2H896.1V222.6H892.2V223.3H888.3V222.8H884.4V221.6H880.5V223.8H876.6V219.4H872.7V224.1H868.8V221.5H864.9V222.7H861.0V219.7H857.1V221.7H853.2V222.4H849.3V223.7H845.4V222.5H841.5V218.8H837.6V221.0H833.7V222.9H829.8V221.6H825.9V221.9H822.0V223.3H818.1V218.9H814.2V218.5H810.3V221.7H806.4V222.6H802.5V221.5H798.6V221.1H794.7V220.7H790.8V222.8H786.9V218.5H783.0V221.3H779.1V217.9H775.2V218.8H771.3V222.2H767.4V222.8H763.5V219.7H759.7V219.9H755.8V220.0H751.9V221.7H748.0V219.7H744.1V221.0H740.2V221.8H736.3V223.0H732.4V217.3H728.5V218.8H724.6V221.3H720.7V221.6H716.8V218.4H712.9V218.1H709.0V217.8H705.1V221.2H701.2V217.3H697.3V221.7H693.4V221.3H689.5V222.1H685.6V220.5H681.7V218.8H677.8V221.4H673.9V221.4H670.0V222.6H666.1V219.6H662.2V221.5H658.3V220.3H654.4V217.5H650.5V222.8H646.6V218.6H642.7V220.9H638.8V221.7H634.9V219.1H631.0V220.3H627.2V221.0H623.3V220.7H619.4V219.9H615.5V219.4H611.6V220.6H607.7V220.0H603.8V223.8H599.9V220.2H596.0V222.8H592.1V223.2H588.2V221.0H584.3V224.2H580.4V220.0H576.5V220.4H572.6V220.0H568.7V223.8H564.8V223.7H560.9V218.7H557.0V218.7H553.1V223.0H549.2V224.1H545.3V222.0H541.4V223.5H537.5V225.1H533.6V224.0H529.7V223.2H525.8V221.4H521.9V222.5H518.0V225.1H514.1V220.9H510.2V219.3H506.3V222.9H502.4V223.2H498.5V221.9H494.6V222.6H490.8V225.2H486.9V223.5H483.0V223.1H479.1V221.9H475.2V223.2H471.3V223.9H467.4V221.6H463.5V223.6H459.6V225.6H455.7V223.6H451.8V223.9H447.9V222.2H444.0V222.5H440.1V223.6H436.2V225.3H432.3V224.7H428.4V221.3H424.5V221.9H420.6V222.8H416.7V226.0H412.8V222.0H408.9V227.7H405.0V225.6H401.1V222.6H397.2V228.1H393.3V223.4H389.4V223.5H385.5V225.7H381.6V228.8H377.7V227.9H373.8V228.1H369.9V224.0H366.0V228.7H362.1V227.9H358.2V229.0H354.4V223.7H350.5V226.1H346.6V227.5H342.7V226.6H338.8V227.0H334.9V227.6H331.0V227.8H327.1V226.8H323.2V225.1H319.3V226.7H315.4V224.8H311.5V229.4H307.6V227.9H303.7V225.4H299.8V228.0H295.9V226.7H292.0V226.8H288.1V224.3H284.2V228.4H280.3V230.1H276.4V230.2H272.5V227.9H268.6V225.7H264.7V226.7H260.8V225.6H256.9V226.4H253.0V224.4H249.1V228.3H245.2V225.3H241.3V227.1H237.4V227.3H233.5V226.3H229.6V224.0H225.7V229.6H221.8V229.9H218.0V227.9H214.1V227.9H210.2V228.3H206.3V226.1H202.4V227.4H198.5V224.0H194.6V224.9H190.7V230.2H186.8V230.4H182.9V226.9H179.0V230.0H175.1V228.7H171.2V224.9H167.3V226.7H163.4V226.4H159.5V228.4H155.6V229.2H151.7V225.5H147.8V230.2H143.9V228.7H140.0V226.0H136.1V226.8H132.2V227.6H128.3V224.1H124.4V227.7H120.5V226.0H116.6V224.2H112.7V230.3H108.8V229.0H104.9V225.5H101.0V229.3H97.1V228.5H93.2V225.6H89.3V225.1H85.5Z" fill="#f000f0" fill-opacity="0.085"/><path d="M85.5 215.7H89.3V214.7H93.2V214.2H97.1V212.7H101.0V212.9H104.9V217.3H108.8V218.5H112.7V217.2H116.6V214.1H120.5V214.6H124.4V211.0H128.3V216.9H132.2V212.6H136.1V211.4H140.0V216.6H143.9V212.8H147.8V214.7H151.7V213.8H155.6V214.7H159.5V218.7H163.4V217.2H167.3V211.3H171.2V216.2H175.1V218.6H179.0V212.0H182.9V212.7H186.8V214.7H190.7V218.9H194.6V219.4H198.5V218.6H202.4V214.1H206.3V216.0H210.2V217.7H214.1V213.9H218.0V214.7H221.8V219.2H225.7V213.0H229.6V218.1H233.5V217.3H237.4V216.3H241.3V217.3H245.2V218.7H249.1V214.9H253.0V218.1H256.9V214.6H260.8V216.9H264.7V213.1H268.6V211.5H272.5V216.5H276.4V215.6H280.3V212.4H284.2V211.7H288.1V215.4H292.0V217.2H295.9V217.4H299.8V211.0H303.7V216.7H307.6V216.0H311.5V214.8H315.4V216.4H319.3V215.7H323.2V214.8H327.1V210.7H331.0V213.7H334.9V217.1H338.8V217.9H342.7V212.9H346.6V211.1H350.5V213.8H354.4V217.1H358.2V213.9H362.1V217.5H366.0V210.3H369.9V212.1H373.8V214.9H377.7V210.0H381.6V214.0H385.5V217.6H389.4V217.3H393.3V209.4H397.2V210.0H401.1V214.9H405.0V211.6H408.9V210.6H412.8V212.7H416.7V214.6H420.6V210.3H424.5V210.1H428.4V210.6H432.3V214.2H436.2V213.0H440.1V210.1H444.0V208.5H447.9V214.1H451.8V215.6H455.7V214.8H459.6V209.2H463.5V212.9H467.4V214.8H471.3V213.9H475.2V214.8H479.1V213.3H483.0V208.5H486.9V214.3H490.8V208.4H494.6V209.3H498.5V210.7H502.4V213.7H506.3V207.9H510.2V212.5H514.1V206.1H518.0V208.0H521.9V210.4H525.8V208.4H529.7V208.4H533.6V210.7H537.5V210.0H541.4V209.2H545.3V212.2H549.2V210.0H553.1V213.3H557.0V212.1H560.9V210.0H564.8V206.0H568.7V208.7H572.6V212.1H576.5V206.0H580.4V207.5H584.3V208.8H588.2V212.6H592.1V209.9H596.0V211.3H599.9V205.1H603.8V210.7H607.7V212.6H611.6V213.0H615.5V210.1H619.4V212.9H623.3V204.6H627.2V212.4H631.0V208.9H634.9V210.2H638.8V207.1H642.7V210.5H646.6V207.4H650.5V205.8H654.4V206.4H658.3V210.8H662.2V211.2H666.1V208.4H670.0V211.6H673.9V204.3H677.8V208.8H681.7V208.0H685.6V208.4H689.5V206.6H693.4V207.6H697.3V204.8H701.2V204.7H705.1V208.6H709.0V209.3H712.9V204.1H716.8V210.1H720.7V204.7H724.6V210.7H728.5V208.1H732.4V204.7H736.3V212.3H740.2V208.5H744.1V204.7H748.0V206.6H751.9V210.8H755.8V207.7H759.7V207.9H763.5V204.2H767.4V209.3H771.3V205.8H775.2V210.6H779.1V205.4H783.0V209.7H786.9V209.3H790.8V204.8H794.7V206.8H798.6V212.1H802.5V211.6H806.4V207.6H810.3V205.3H814.2V209.7H818.1V207.1H822.0V206.5H825.9V212.0H829.8V212.3H833.7V204.8H837.6V205.9H841.5V210.9H845.4V210.0H849.3V212.3H853.2V207.8H857.1V206.0H861.0V206.8H864.9V210.6H868.8V210.0H872.7V210.6H876.6V205.9H880.5V212.0H884.4V209.1H888.3V210.3H892.2V207.0H896.1V210.9H899.9V207.7H903.8V205.2H907.7V209.1H911.6V205.6H915.5V206.4H919.4V211.9H923.3V208.6H927.2V207.2H931.1V210.6H935.0V209.5H938.9V211.1H942.8V207.9H946.7V207.6H950.6V210.9H954.5V207.2H958.4V207.9H962.3V208.1H966.2V206.2H970.1V207.5H974.0V206.8H977.9V214.1H981.8V209.6H985.7V213.1H989.6V209.4H993.5V214.1H997.4V208.4H1001.3V207.9H1005.2V212.1H1009.1V212.4H1013.0V211.2H1016.9V212.6H1020.8V212.4H1024.7V208.8H1028.6V212.0H1032.5V212.1H1036.3V213.3H1040.2V213.5H1044.1V206.2H1048.0V206.5H1051.9V213.2H1055.8V208.0H1059.7V209.0H1063.6V206.8H1067.5V211.9H1071.4V210.1H1075.3V210.1H1079.2V210.3H1083.1V209.7H1087.0V209.6H1090.9V212.4H1094.8V214.4H1098.7V212.3H1102.6V207.0H1106.5V210.3H1110.4V211.0H1114.3V208.9H1118.2V209.2H1122.1V208.1H1126.0V214.4H1129.9V209.8H1133.8V209.6H1137.7V212.2H1141.6V209.7H1145.5V213.1H1149.4V209.8H1153.3V209.5H1157.2V211.2H1161.1V209.8H1165.0V207.3H1168.9V206.6H1172.7V209.0H1176.6V210.3H1180.5V210.1H1184.4V210.4H1188.3V214.4H1192.2V214.6H1196.1V213.1H1200.0V210.9H1203.9V214.3H1207.8V212.9H1211.7V209.8H1215.6V214.5H1219.5V214.1H1223.4V210.6H1227.3V214.4H1231.2V214.9H1235.1V209.1H1239.0V210.8H1242.9V209.1H1246.8V213.7H1250.7V206.9H1254.6V211.8H1258.5V212.2H1262.4V207.7H1266.3V208.6H1270.2V214.6H1274.1V208.7H1278.0V211.6H1281.9V212.2H1285.8V212.1H1289.7V213.2H1293.6V210.0H1297.5V209.2H1301.4V208.0H1305.2V212.9H1309.1V209.4H1313.0V214.2H1316.9V207.6H1320.8V213.0H1324.7V212.3H1328.6V215.0H1332.5V214.9H1336.4V215.5H1340.3V213.4H1344.2V215.1H1348.1V209.4H1352.0V214.8H1355.9V208.6H1359.8V213.0H1363.7V215.5H1367.6V215.2H1371.5V210.7H1375.4V211.3H1379.3V208.5H1383.2V210.4H1387.1V212.4H1391.0V213.2H1394.9V212.6H1398.8V212.7H1402.7V211.9H1406.6V216.4H1410.5V212.4H1414.4V209.1H1418.3V212.7H1422.2V208.7H1426.1V215.2H1430.0V216.7H1433.9V209.1H1437.8V210.2H1441.6V212.9H1445.5V210.1H1449.4V215.5H1453.3V215.8H1457.2V216.6H1461.1V215.2H1465.0V213.4H1468.9V208.7H1472.8V209.4H1476.7V208.6H1480.6V213.0H1484.5V213.7H1488.4V215.9H1492.3V214.6H1496.2V216.0H1500.1V210.6H1504.0V212.5H1507.9V224.2H1504.0V225.0H1500.1V221.7H1496.2V222.3H1492.3V226.9H1488.4V223.8H1484.5V221.6H1480.6V223.8H1476.7V227.3H1472.8V224.6H1468.9V225.6H1465.0V222.8H1461.1V227.8H1457.2V227.6H1453.3V225.3H1449.4V221.5H1445.5V225.2H1441.6V224.1H1437.8V227.1H1433.9V222.6H1430.0V222.2H1426.1V226.5H1422.2V223.3H1418.3V221.9H1414.4V223.6H1410.5V225.3H1406.6V226.9H1402.7V227.5H1398.8V226.4H1394.9V221.4H1391.0V225.6H1387.1V222.0H1383.2V224.1H1379.3V221.8H1375.4V222.7H1371.5V226.9H1367.6V223.0H1363.7V220.6H1359.8V223.4H1355.9V225.6H1352.0V223.8H1348.1V222.9H1344.2V222.5H1340.3V223.0H1336.4V225.3H1332.5V226.5H1328.6V220.3H1324.7V225.4H1320.8V224.1H1316.9V223.5H1313.0V223.8H1309.1V220.4H1305.2V223.7H1301.4V224.2H1297.5V224.5H1293.6V221.9H1289.7V220.0H1285.8V222.4H1281.9V221.6H1278.0V220.1H1274.1V225.4H1270.2V226.1H1266.3V220.0H1262.4V221.0H1258.5V224.9H1254.6V225.0H1250.7V221.5H1246.8V220.9H1242.9V220.8H1239.0V220.5H1235.1V224.5H1231.2V222.3H1227.3V222.5H1223.4V224.6H1219.5V225.1H1215.6V221.8H1211.7V225.6H1207.8V224.9H1203.9V221.2H1200.0V219.7H1196.1V222.7H1192.2V225.2H1188.3V224.3H1184.4V221.4H1180.5V220.0H1176.6V221.2H1172.7V225.8H1168.9V224.9H1165.0V223.8H1161.1V220.6H1157.2V221.9H1153.3V219.6H1149.4V223.1H1145.5V225.6H1141.6V225.0H1137.7V221.1H1133.8V223.1H1129.9V225.8H1126.0V224.7H1122.1V224.8H1118.2V223.8H1114.3V219.6H1110.4V223.9H1106.5V223.8H1102.6V222.5H1098.7V220.3H1094.8V221.3H1090.9V221.1H1087.0V223.1H1083.1V219.7H1079.2V224.0H1075.3V225.3H1071.4V220.9H1067.5V221.4H1063.6V221.2H1059.7V219.9H1055.8V221.5H1051.9V222.6H1048.0V224.1H1044.1V222.8H1040.2V223.2H1036.3V223.2H1032.5V221.6H1028.6V219.8H1024.7V219.7H1020.8V225.0H1016.9V221.7H1013.0V219.2H1009.1V224.0H1005.2V221.4H1001.3V222.3H997.4V219.7H993.5V221.8H989.6V221.2H985.7V220.2H981.8V223.1H977.9V222.6H974.0V221.6H970.1V218.6H966.2V221.9H962.3V220.0H958.4V224.5H954.5V220.1H950.6V221.8H946.7V221.2H942.8V222.1H938.9V218.5H935.0V221.7H931.1V221.8H927.2V221.7H923.3V221.0H919.4V221.7H915.5V222.2H911.6V222.7H907.7V218.9H903.8V218.9H899.9V219.8H896.1V219.0H892.2V223.0H888.3V218.4H884.4V220.1H880.5V223.5H876.6V219.4H872.7V224.3H868.8V222.0H864.9V219.5H861.0V219.7H857.1V221.9H853.2V218.5H849.3V218.1H845.4V222.8H841.5V223.7H837.6V221.9H833.7V219.7H829.8V222.8H825.9V222.3H822.0V219.8H818.1V219.7H814.2V222.2H810.3V223.9H806.4V220.6H802.5V217.8H798.6V221.2H794.7V220.7H790.8V219.0H786.9V219.7H783.0V222.9H779.1V217.7H775.2V221.6H771.3V222.3H767.4V221.4H763.5V217.1H759.7V217.3H755.8V223.4H751.9V221.8H748.0V219.7H744.1V218.1H740.2V223.2H736.3V221.8H732.4V219.7H728.5V222.3H724.6V219.8H720.7V219.0H716.8V220.0H712.9V222.8H709.0V218.1H705.1V218.1H701.2V219.8H697.3V221.4H693.4V220.3H689.5V217.3H685.6V220.8H681.7V217.7H677.8V217.5H673.9V221.0H670.0V218.3H666.1V218.1H662.2V221.8H658.3V221.5H654.4V222.2H650.5V219.3H646.6V220.7H642.7V220.5H638.8V219.4H634.9V223.8H631.0V223.1H627.2V222.5H623.3V219.3H619.4V220.4H615.5V217.8H611.6V223.1H607.7V222.1H603.8V220.6H599.9V224.0H596.0V219.0H592.1V222.9H588.2V221.3H584.3V219.5H580.4V219.1H576.5V220.5H572.6V220.7H568.7V218.6H564.8V220.7H560.9V222.0H557.0V222.2H553.1V219.8H549.2V222.8H545.3V224.6H541.4V222.1H537.5V224.1H533.6V219.2H529.7V221.6H525.8V224.5H521.9V224.0H518.0V225.1H514.1V220.4H510.2V223.5H506.3V224.3H502.4V223.0H498.5V222.4H494.6V224.1H490.8V219.8H486.9V220.1H483.0V225.3H479.1V221.5H475.2V225.9H471.3V223.4H467.4V220.2H463.5V221.9H459.6V221.8H455.7V225.2H451.8V221.7H447.9V225.5H444.0V222.7H440.1V226.8H436.2V225.4H432.3V225.5H428.4V227.2H424.5V221.7H420.6V227.2H416.7V223.3H412.8V223.7H408.9V222.8H405.0V225.9H401.1V226.1H397.2V227.5H393.3V228.6H389.4V227.6H385.5V226.1H381.6V225.5H377.7V226.0H373.8V227.0H369.9V223.5H366.0V226.5H362.1V228.9H358.2V224.7H354.4V228.9H350.5V227.2H346.6V224.0H342.7V223.3H338.8V226.9H334.9V225.4H331.0V228.4H327.1V227.5H323.2V225.5H319.3V223.9H315.4V225.0H311.5V228.8H307.6V227.8H303.7V228.5H299.8V228.0H295.9V225.3H292.0V228.3H288.1V228.8H284.2V230.3H280.3V226.7H276.4V229.3H272.5V225.4H268.6V228.2H264.7V229.9H260.8V225.5H256.9V228.2H253.0V224.1H249.1V229.3H245.2V229.9H241.3V225.5H237.4V225.5H233.5V230.3H229.6V226.0H225.7V228.2H221.8V225.6H218.0V224.6H214.1V224.4H210.2V230.1H206.3V225.4H202.4V228.6H198.5V224.6H194.6V229.6H190.7V224.4H186.8V225.2H182.9V230.3H179.0V226.3H175.1V230.4H171.2V228.5H167.3V225.0H163.4V226.6H159.5V225.2H155.6V226.7H151.7V226.9H147.8V230.2H143.9V226.2H140.0V226.5H136.1V229.8H132.2V227.1H128.3V228.7H124.4V230.4H120.5V226.0H116.6V227.3H112.7V224.2H108.8V228.9H104.9V227.7H101.0V225.0H97.1V226.3H93.2V230.0H89.3V227.8H85.5Z" fill="#f000f0" fill-opacity="0.085"/><path d="M85.5 341.4V402.9H89.3V433.4H93.2V597.6H97.1V374.6H101.0V369.6H104.9V384.1H108.8V596.5H112.7V475.9H116.6V608.1H120.5V365.3H124.4V370.4H128.3V419.7H132.2V608.1H136.1V367.1H140.0V360.2H143.9V349.7H147.8V341.9H151.7V356.4H155.6V402.3H159.5V372.9H163.4V352.6H167.3V392.2H171.2V347.6H175.1V343.1H179.0V475.3H182.9V357.3H186.8V420.3H190.7V393.9H194.6V348.4H198.5V380.6H202.4V350.9H206.3V433.1H210.2V360.5H214.1V362.7H218.0V351.8H221.8V369.2H225.7V365.8H229.6V351.2H233.5V358.0H237.4V371.4H241.3V344.4H245.2V364.4H249.1V356.4H253.0V375.1H256.9V367.6H260.8V408.3H264.7V394.6H268.6V344.9H272.5V383.7H276.4V347.0H280.3V380.7H284.2V357.2H288.1V351.8H292.0V467.9H295.9V360.7H299.8V352.3H303.7V342.8H307.6V395.2H311.5V342.0H315.4V343.0H319.3V351.7H323.2V359.8H327.1V416.3H331.0V396.2H334.9V375.0H338.8V382.9H342.7V387.2H346.6V351.0H350.5V349.5H354.4V357.6H358.2V365.1H362.1V359.2H366.0V375.8H369.9V345.7H373.8V377.6H377.7V375.2H381.6V344.7H385.5V352.4H389.4V345.7H393.3V345.0H397.2V341.8H401.1V347.8H405.0V354.3H408.9V348.2H412.8V367.9H416.7V346.8H420.6V341.9H424.5V367.6H428.4V593.0H432.3V357.6H436.2V398.8H440.1V345.3H444.0V373.5H447.9V397.4H451.8V357.3H455.7V350.8H459.6V344.4H463.5V381.9H467.4V354.6H471.3V354.2H475.2V356.2H479.1V416.1H483.0V341.7H486.9V373.7H490.8V465.7H494.6V352.0H498.5V352.5H502.4V355.0H506.3V350.1H510.2V364.5H514.1V348.7H518.0V346.9H521.9V370.6H525.8V379.3H529.7V354.4H533.6V419.3H537.5V374.6H541.4V369.2H545.3V401.2H549.2V358.2H553.1V349.8H557.0V367.5H560.9V357.4H564.8V343.7H568.7V418.6H572.6V364.7H576.5V361.1H580.4V355.7H584.3V391.4H588.2V379.6H592.1V355.9H596.0V343.3H599.9V350.2H603.8V356.1H607.7V407.4H611.6V355.8H615.5V352.2H619.4V348.2H623.3V411.8H627.2V446.7H631.0V347.3H634.9V343.9H638.8V344.8H642.7V349.1H646.6V370.4H650.5V384.7H654.4V448.0H658.3V360.8H662.2V365.1H666.1V342.8H670.0V356.9H673.9V344.3H677.8V373.5H681.7V347.7H685.6V349.7H689.5V352.6H693.4V358.7H697.3V356.6H701.2V342.3H705.1V356.6H709.0V380.3H712.9V608.1H716.8V351.8H720.7V364.0H724.6V401.3H728.5V346.0H732.4V377.9H736.3V344.0H740.2V381.6H744.1V391.6H748.0V398.4H751.9V353.3H755.8V358.5H759.7V483.9H763.5V344.5H767.4V381.7H771.3V345.2H775.2V374.8H779.1V350.4H783.0V374.3H786.9V379.1H790.8V361.2H794.7V368.4H798.6V378.4H802.5V380.9H806.4V361.7H810.3V356.4H814.2V366.0H818.1V355.3H822.0V351.7H825.9V568.8H829.8V421.8H833.7V342.9H837.6V344.7H841.5V367.6H845.4V430.5H849.3V345.8H853.2V341.4H857.1V366.1H861.0V380.7H864.9V367.5H868.8V344.5H872.7V405.9H876.6V345.9H880.5V356.6H884.4V344.3H888.3V416.7H892.2V358.7H896.1V356.6H899.9V347.1H903.8V482.2H907.7V344.6H911.6V355.4H915.5V353.2H919.4V364.0H923.3V365.8H927.2V368.2H931.1V608.1H935.0V359.1H938.9V345.3H942.8V379.8H946.7V342.0H950.6V429.6H954.5V355.2H958.4V527.2H962.3V341.9H966.2V365.6H970.1V608.1H974.0V608.1H977.9V532.3H981.8V350.7H985.7V370.1H989.6V357.0H993.5V369.7H997.4V341.6H1001.3V360.5H1005.2V346.3H1009.1V361.2H1013.0V518.3H1016.9V348.0H1020.8V420.5H1024.7V357.5H1028.6V425.8H1032.5V341.7H1036.3V365.1H1040.2V344.1H1044.1V353.1H1048.0V371.9H1051.9V351.2H1055.8V400.2H1059.7V416.3H1063.6V360.0H1067.5V374.1H1071.4V377.0H1075.3V353.8H1079.2V352.2H1083.1V377.0H1087.0V360.8H1090.9V388.6H1094.8V347.3H1098.7V408.2H1102.6V348.6H1106.5V398.8H1110.4V424.6H1114.3V402.3H1118.2V344.8H1122.1V381.3H1126.0V342.6H1129.9V358.0H1133.8V495.4H1137.7V608.1H1141.6V445.5H1145.5V357.1H1149.4V342.5H1153.3V477.1H1157.2V360.4H1161.1V362.3H1165.0V355.8H1168.9V348.6H1172.7V457.3H1176.6V350.4H1180.5V394.2H1184.4V363.0H1188.3V396.6H1192.2V502.2H1196.1V559.3H1200.0V450.0H1203.9V352.7H1207.8V546.1H1211.7V422.7H1215.6V366.5H1219.5V484.6H1223.4V424.8H1227.3V372.6H1231.2V374.0H1235.1V424.9H1239.0V351.9H1242.9V359.5H1246.8V343.2H1250.7V346.9H1254.6V384.6H1258.5V379.3H1262.4V348.6H1266.3V470.4H1270.2V426.3H1274.1V532.2H1278.0V565.7H1281.9V344.3H1285.8V369.1H1289.7V448.5H1293.6V344.3H1297.5V348.0H1301.4V403.9H1305.2V441.3H1309.1V344.9H1313.0V376.5H1316.9V608.1H1320.8V452.7H1324.7V347.7H1328.6V349.7H1332.5V608.1H1336.4V378.4H1340.3V456.2H1344.2V362.4H1348.1V368.6H1352.0V405.8H1355.9V376.9H1359.8V351.8H1363.7V398.3H1367.6V408.2H1371.5V456.4H1375.4V371.1H1379.3V346.9H1383.2V394.7H1387.1V452.9H1391.0V378.0H1394.9V574.2H1398.8V378.6H1402.7V347.2H1406.6V350.6H1410.5V407.6H1414.4V404.0H1418.3V430.1H1422.2V393.3H1426.1V350.2H1430.0V418.8H1433.9V362.5H1437.8V353.5H1441.6V429.7H1445.5V351.1H1449.4V499.4H1453.3V389.2H1457.2V352.5H1461.1V426.1H1465.0V343.1H1468.9V352.2H1472.8V361.1H1476.7V377.8H1480.6V345.6H1484.5V363.7H1488.4V429.7H1492.3V347.0H1496.2V367.6H1500.1V387.2H1504.0V456.8H1507.9V341.4Z" fill="url(#rg)"/><path d="M85.5 341.4V398.9H89.3V354.0H93.2V426.2H97.1V355.9H101.0V359.7H104.9V349.8H108.8V608.1H112.7V347.0H116.6V356.0H120.5V380.8H124.4V344.7H128.3V474.8H132.2V364.6H136.1V448.5H140.0V352.6H143.9V365.1H147.8V356.8H151.7V362.0H155.6V421.7H159.5V368.3H163.4V354.2H167.3V343.4H171.2V356.0H175.1V608.1H179.0V370.4H182.9V608.1H186.8V349.4H190.7V414.1H194.6V377.3H198.5V353.8H202.4V356.3H206.3V345.5H210.2V423.9H214.1V385.2H218.0V357.2H221.8V360.7H225.7V381.0H229.6V488.6H233.5V393.0H237.4V351.7H241.3V345.2H245.2V367.1H249.1V379.0H253.0V365.2H256.9V359.9H260.8V369.6H264.7V388.3H268.6V341.5H272.5V363.9H276.4V356.2H280.3V350.9H284.2V343.9H288.1V348.6H292.0V362.1H295.9V345.2H299.8V384.2H303.7V432.5H307.6V396.8H311.5V356.1H315.4V346.5H319.3V348.2H323.2V348.2H327.1V351.3H331.0V385.9H334.9V344.8H338.8V357.0H342.7V347.1H346.6V341.4H350.5V352.7H354.4V368.2H358.2V362.7H362.1V359.5H366.0V346.2H369.9V347.3H373.8V378.3H377.7V386.5H381.6V346.0H385.5V351.5H389.4V355.2H393.3V371.9H397.2V349.8H401.1V342.4H405.0V357.4H408.9V366.6H412.8V376.2H416.7V374.9H420.6V376.9H424.5V345.6H428.4V367.1H432.3V359.0H436.2V344.7H440.1V346.1H444.0V348.3H447.9V364.5H451.8V343.5H455.7V378.8H459.6V595.6H463.5V361.6H467.4V341.6H471.3V343.0H475.2V358.3H479.1V349.0H483.0V366.8H486.9V353.6H490.8V446.6H494.6V435.5H498.5V369.4H502.4V366.4H506.3V410.5H510.2V352.7H514.1V350.4H518.0V378.0H521.9V342.7H525.8V342.1H529.7V350.9H533.6V358.6H537.5V446.5H541.4V383.0H545.3V438.5H549.2V407.1H553.1V344.1H557.0V348.7H560.9V397.4H564.8V357.0H568.7V359.2H572.6V352.8H576.5V444.5H580.4V365.6H584.3V372.2H588.2V608.1H592.1V370.9H596.0V355.1H599.9V434.3H603.8V364.1H607.7V393.7H611.6V346.8H615.5V342.1H619.4V378.0H623.3V344.2H627.2V406.9H631.0V362.0H634.9V341.7H638.8V368.7H642.7V424.5H646.6V357.7H650.5V412.9H654.4V348.1H658.3V359.5H662.2V396.0H666.1V409.3H670.0V362.7H673.9V359.6H677.8V353.1H681.7V352.2H685.6V356.0H689.5V365.1H693.4V390.4H697.3V347.8H701.2V351.6H705.1V358.9H709.0V346.8H712.9V527.4H716.8V389.0H720.7V428.6H724.6V608.1H728.5V344.1H732.4V346.2H736.3V359.7H740.2V403.0H744.1V368.6H748.0V400.2H751.9V351.1H755.8V346.9H759.7V344.8H763.5V346.8H767.4V356.0H771.3V342.6H775.2V370.1H779.1V389.5H783.0V343.3H786.9V375.5H790.8V357.2H794.7V411.6H798.6V404.5H802.5V348.0H806.4V427.1H810.3V362.3H814.2V379.2H818.1V475.4H822.0V349.1H825.9V346.5H829.8V355.5H833.7V348.8H837.6V353.9H841.5V375.2H845.4V409.5H849.3V378.0H853.2V341.9H857.1V367.5H861.0V407.5H864.9V389.9H868.8V356.7H872.7V358.7H876.6V355.6H880.5V514.4H884.4V352.5H888.3V356.0H892.2V545.5H896.1V365.1H899.9V367.7H903.8V402.9H907.7V370.1H911.6V490.6H915.5V608.1H919.4V347.0H923.3V376.5H927.2V406.7H931.1V361.9H935.0V352.4H938.9V342.7H942.8V350.5H946.7V353.6H950.6V399.1H954.5V555.6H958.4V341.7H962.3V404.6H966.2V395.7H970.1V362.9H974.0V366.8H977.9V346.3H981.8V444.8H985.7V365.6H989.6V348.0H993.5V344.3H997.4V350.3H1001.3V366.1H1005.2V453.1H1009.1V455.3H1013.0V430.5H1016.9V472.1H1020.8V394.4H1024.7V358.0H1028.6V395.5H1032.5V344.4H1036.3V353.3H1040.2V488.4H1044.1V608.1H1048.0V370.8H1051.9V420.0H1055.8V351.1H1059.7V362.3H1063.6V355.1H1067.5V464.5H1071.4V363.9H1075.3V367.2H1079.2V381.5H1083.1V413.2H1087.0V379.9H1090.9V351.1H1094.8V377.7H1098.7V418.9H1102.6V357.8H1106.5V346.6H1110.4V391.4H1114.3V384.0H1118.2V356.9H1122.1V401.0H1126.0V364.0H1129.9V608.1H1133.8V364.0H1137.7V345.3H1141.6V431.9H1145.5V544.6H1149.4V356.0H1153.3V380.4H1157.2V346.0H1161.1V552.1H1165.0V405.0H1168.9V438.6H1172.7V343.4H1176.6V387.8H1180.5V344.2H1184.4V465.0H1188.3V395.0H1192.2V343.2H1196.1V421.6H1200.0V497.8H1203.9V381.4H1207.8V344.0H1211.7V414.3H1215.6V425.0H1219.5V381.6H1223.4V353.8H1227.3V375.8H1231.2V386.7H1235.1V358.6H1239.0V357.1H1242.9V355.4H1246.8V380.2H1250.7V344.3H1254.6V417.3H1258.5V364.9H1262.4V519.1H1266.3V409.0H1270.2V357.9H1274.1V453.2H1278.0V371.8H1281.9V484.1H1285.8V542.2H1289.7V359.7H1293.6V355.2H1297.5V369.7H1301.4V428.2H1305.2V374.1H1309.1V360.5H1313.0V455.7H1316.9V608.1H1320.8V366.5H1324.7V473.3H1328.6V378.2H1332.5V363.5H1336.4V403.6H1340.3V341.9H1344.2V434.3H1348.1V342.8H1352.0V399.1H1355.9V408.7H1359.8V364.2H1363.7V608.1H1367.6V426.6H1371.5V353.2H1375.4V354.8H1379.3V388.9H1383.2V405.2H1387.1V345.1H1391.0V343.5H1394.9V409.4H1398.8V394.5H1402.7V361.8H1406.6V353.2H1410.5V568.2H1414.4V366.1H1418.3V345.5H1422.2V408.3H1426.1V515.4H1430.0V416.0H1433.9V432.8H1437.8V343.7H1441.6V348.9H1445.5V363.9H1449.4V419.9H1453.3V393.7H1457.2V390.0H1461.1V363.3H1465.0V342.6H1468.9V353.7H1472.8V426.5H1476.7V508.2H1480.6V354.2H1484.5V356.8H1488.4V565.2H1492.3V381.0H1496.2V354.7H1500.1V470.4H1504.0V355.8H1507.9V341.4Z" fill="url(#rg)"/><path d="M85.5 341.4V343.3H89.3V356.9H93.2V362.4H97.1V368.7H101.0V371.9H104.9V378.1H108.8V344.8H112.7V440.9H116.6V355.9H120.5V366.2H124.4V344.7H128.3V344.2H132.2V380.7H136.1V360.7H140.0V362.9H143.9V392.9H147.8V368.3H151.7V396.8H155.6V365.8H159.5V348.2H163.4V404.8H167.3V389.9H171.2V384.3H175.1V367.1H179.0V416.5H182.9V453.8H186.8V351.6H190.7V349.1H194.6V412.5H198.5V388.5H202.4V355.5H206.3V404.0H210.2V351.4H214.1V368.0H218.0V390.0H221.8V437.1H225.7V349.5H229.6V342.3H233.5V365.5H237.4V388.5H241.3V356.8H245.2V380.2H249.1V361.0H253.0V358.1H256.9V349.1H260.8V358.3H264.7V386.9H268.6V342.8H272.5V346.9H276.4V351.9H280.3V343.1H284.2V366.5H288.1V350.1H292.0V401.4H295.9V345.1H299.8V361.4H303.7V418.9H307.6V351.4H311.5V344.2H315.4V359.2H319.3V399.2H323.2V372.9H327.1V407.0H331.0V372.5H334.9V355.5H338.8V343.4H342.7V347.9H346.6V405.5H350.5V349.2H354.4V345.1H358.2V356.7H362.1V399.9H366.0V473.4H369.9V353.5H373.8V345.1H377.7V362.5H381.6V374.2H385.5V360.1H389.4V342.2H393.3V345.3H397.2V346.5H401.1V347.5H405.0V358.4H408.9V341.4H412.8V429.9H416.7V366.4H420.6V347.4H424.5V364.8H428.4V373.6H432.3V359.1H436.2V344.4H440.1V409.1H444.0V388.0H447.9V349.1H451.8V347.1H455.7V344.5H459.6V353.1H463.5V345.6H467.4V352.3H471.3V342.4H475.2V382.4H479.1V344.9H483.0V416.1H486.9V344.5H490.8V341.7H494.6V379.6H498.5V526.9H502.4V341.5H506.3V357.5H510.2V362.1H514.1V358.8H518.0V342.0H521.9V351.0H525.8V347.8H529.7V343.2H533.6V369.3H537.5V347.5H541.4V343.9H545.3V368.6H549.2V362.3H553.1V405.2H557.0V377.4H560.9V357.1H564.8V421.6H568.7V369.8H572.6V358.8H576.5V356.1H580.4V356.8H584.3V354.7H588.2V355.0H592.1V388.7H596.0V345.2H599.9V346.3H603.8V344.8H607.7V345.9H611.6V372.4H615.5V371.9H619.4V346.6H623.3V394.6H627.2V354.0H631.0V352.0H634.9V352.9H638.8V379.8H642.7V342.9H646.6V346.2H650.5V474.4H654.4V344.9H658.3V346.4H662.2V362.5H666.1V342.2H670.0V363.3H673.9V351.2H677.8V346.6H681.7V382.7H685.6V373.4H689.5V365.3H693.4V418.9H697.3V345.7H701.2V360.3H705.1V393.4H709.0V359.7H712.9V351.1H716.8V369.2H720.7V391.2H724.6V379.8H728.5V608.1H732.4V358.9H736.3V381.4H740.2V393.5H744.1V365.5H748.0V349.7H751.9V373.7H755.8V402.4H759.7V348.9H763.5V581.6H767.4V360.5H771.3V346.3H775.2V371.9H779.1V451.1H783.0V389.3H786.9V350.2H790.8V387.3H794.7V347.2H798.6V346.5H802.5V350.0H806.4V365.5H810.3V342.0H814.2V595.4H818.1V509.0H822.0V344.3H825.9V345.0H829.8V353.4H833.7V346.3H837.6V349.1H841.5V346.6H845.4V380.2H849.3V363.1H853.2V341.7H857.1V345.2H861.0V354.4H864.9V344.2H868.8V357.3H872.7V358.0H876.6V370.1H880.5V378.8H884.4V352.8H888.3V381.6H892.2V392.0H896.1V359.8H899.9V380.1H903.8V356.9H907.7V380.1H911.6V452.3H915.5V360.2H919.4V362.3H923.3V428.5H927.2V360.5H931.1V415.1H935.0V412.8H938.9V349.4H942.8V390.2H946.7V341.4H950.6V391.1H954.5V608.1H958.4V364.8H962.3V353.0H966.2V350.7H970.1V415.3H974.0V395.1H977.9V369.5H981.8V384.8H985.7V344.5H989.6V413.7H993.5V427.8H997.4V400.4H1001.3V366.3H1005.2V355.7H1009.1V389.8H1013.0V347.5H1016.9V364.1H1020.8V366.8H1024.7V369.3H1028.6V359.9H1032.5V348.1H1036.3V368.5H1040.2V368.4H1044.1V356.2H1048.0V368.8H1051.9V417.9H1055.8V403.8H1059.7V351.7H1063.6V363.4H1067.5V431.3H1071.4V417.0H1075.3V369.7H1079.2V347.1H1083.1V375.0H1087.0V350.9H1090.9V388.4H1094.8V421.2H1098.7V356.8H1102.6V509.2H1106.5V362.4H1110.4V356.3H1114.3V467.0H1118.2V375.9H1122.1V414.7H1126.0V345.3H1129.9V384.1H1133.8V364.6H1137.7V343.5H1141.6V412.0H1145.5V342.1H1149.4V379.2H1153.3V393.9H1157.2V377.2H1161.1V358.4H1165.0V608.1H1168.9V361.7H1172.7V608.1H1176.6V466.6H1180.5V371.4H1184.4V394.9H1188.3V355.1H1192.2V348.5H1196.1V350.3H1200.0V365.5H1203.9V362.4H1207.8V343.5H1211.7V368.1H1215.6V525.6H1219.5V360.0H1223.4V455.5H1227.3V368.6H1231.2V441.7H1235.1V376.4H1239.0V355.4H1242.9V350.6H1246.8V345.0H1250.7V372.3H1254.6V436.9H1258.5V344.0H1262.4V608.1H1266.3V346.8H1270.2V444.9H1274.1V352.0H1278.0V352.8H1281.9V460.2H1285.8V386.3H1289.7V390.7H1293.6V367.7H1297.5V363.0H1301.4V360.9H1305.2V377.6H1309.1V401.1H1313.0V352.6H1316.9V588.1H1320.8V379.5H1324.7V392.2H1328.6V348.1H1332.5V390.7H1336.4V383.4H1340.3V387.1H1344.2V356.2H1348.1V344.5H1352.0V354.6H1355.9V436.6H1359.8V510.3H1363.7V400.4H1367.6V482.5H1371.5V343.6H1375.4V550.5H1379.3V511.0H1383.2V608.1H1387.1V348.9H1391.0V346.8H1394.9V390.6H1398.8V381.3H1402.7V365.7H1406.6V370.3H1410.5V438.5H1414.4V343.0H1418.3V345.9H1422.2V415.4H1426.1V447.7H1430.0V488.9H1433.9V538.1H1437.8V411.7H1441.6V350.9H1445.5V422.4H1449.4V375.3H1453.3V349.8H1457.2V375.1H1461.1V608.1H1465.0V351.8H1468.9V353.0H1472.8V388.1H1476.7V496.5H1480.6V372.6H1484.5V513.2H1488.4V351.8H1492.3V356.8H1496.2V413.1H1500.1V393.8H1504.0V388.2H1507.9V341.4Z" fill="url(#rg)"/><path d="M85.5 341.4V355.5H89.3V343.4H93.2V352.4H97.1V359.9H101.0V344.4H104.9V405.3H108.8V408.3H112.7V352.6H116.6V398.5H120.5V475.8H124.4V511.2H128.3V438.6H132.2V346.4H136.1V433.9H140.0V359.3H143.9V341.8H147.8V367.9H151.7V375.2H155.6V358.1H159.5V397.5H163.4V494.5H167.3V346.6H171.2V391.2H175.1V383.3H179.0V379.4H182.9V365.6H186.8V341.6H190.7V390.6H194.6V373.1H198.5V350.8H202.4V353.6H206.3V352.4H210.2V342.5H214.1V364.1H218.0V573.6H221.8V608.1H225.7V402.8H229.6V358.4H233.5V353.4H237.4V344.2H241.3V393.9H245.2V345.8H249.1V359.6H253.0V372.2H256.9V360.4H260.8V360.9H264.7V354.5H268.6V354.1H272.5V376.2H276.4V485.1H280.3V402.3H284.2V362.4H288.1V346.4H292.0V352.2H295.9V360.5H299.8V388.6H303.7V351.7H307.6V365.9H311.5V347.0H315.4V352.7H319.3V370.8H323.2V352.3H327.1V365.2H331.0V374.2H334.9V355.3H338.8V354.5H342.7V345.7H346.6V341.9H350.5V374.8H354.4V358.1H358.2V354.8H362.1V358.0H366.0V345.9H369.9V376.3H373.8V341.9H377.7V368.1H381.6V359.8H385.5V350.3H389.4V343.1H393.3V347.5H397.2V365.1H401.1V371.5H405.0V342.5H408.9V367.1H412.8V343.1H416.7V342.2H420.6V375.6H424.5V354.2H428.4V351.8H432.3V348.2H436.2V355.9H440.1V383.3H444.0V398.1H447.9V429.7H451.8V342.2H455.7V406.5H459.6V389.5H463.5V419.6H467.4V356.3H471.3V344.4H475.2V343.8H479.1V362.4H483.0V347.3H486.9V354.5H490.8V350.2H494.6V361.5H498.5V351.8H502.4V362.0H506.3V357.0H510.2V347.0H514.1V350.2H518.0V347.6H521.9V352.6H525.8V372.9H529.7V346.9H533.6V392.9H537.5V370.8H541.4V344.6H545.3V349.6H549.2V346.2H553.1V345.1H557.0V345.0H560.9V434.7H564.8V382.3H568.7V412.9H572.6V375.3H576.5V412.3H580.4V359.5H584.3V473.5H588.2V360.3H592.1V389.5H596.0V400.9H599.9V380.7H603.8V396.7H607.7V343.9H611.6V608.1H615.5V344.5H619.4V360.8H623.3V421.9H627.2V358.1H631.0V357.8H634.9V358.8H638.8V343.7H642.7V365.4H646.6V359.1H650.5V368.6H654.4V346.7H658.3V352.8H662.2V355.9H666.1V440.2H670.0V343.1H673.9V432.4H677.8V378.5H681.7V391.2H685.6V369.9H689.5V354.8H693.4V408.5H697.3V342.3H701.2V345.5H705.1V364.4H709.0V529.8H712.9V376.1H716.8V344.9H720.7V385.6H724.6V378.2H728.5V344.1H732.4V353.6H736.3V355.7H740.2V349.6H744.1V352.5H748.0V348.3H751.9V354.5H755.8V346.6H759.7V342.2H763.5V346.0H767.4V369.3H771.3V346.9H775.2V454.8H779.1V346.1H783.0V422.9H786.9V451.7H790.8V608.1H794.7V493.3H798.6V409.4H802.5V341.8H806.4V395.8H810.3V345.0H814.2V380.7H818.1V343.7H822.0V404.3H825.9V431.1H829.8V382.3H833.7V358.3H837.6V363.3H841.5V392.7H845.4V599.9H849.3V348.2H853.2V403.6H857.1V608.1H861.0V352.7H864.9V346.9H868.8V342.8H872.7V350.8H876.6V343.4H880.5V350.5H884.4V452.6H888.3V359.6H892.2V367.6H896.1V352.6H899.9V354.9H903.8V368.8H907.7V341.9H911.6V390.7H915.5V365.1H919.4V344.6H923.3V408.5H927.2V341.5H931.1V359.5H935.0V434.1H938.9V345.8H942.8V358.5H946.7V358.7H950.6V395.2H954.5V385.1H958.4V442.6H962.3V403.0H966.2V441.1H970.1V550.8H974.0V353.7H977.9V382.9H981.8V461.1H985.7V354.5H989.6V349.0H993.5V353.2H997.4V371.2H1001.3V354.3H1005.2V400.4H1009.1V387.9H1013.0V398.4H1016.9V345.7H1020.8V596.1H1024.7V384.9H1028.6V346.0H1032.5V348.1H1036.3V398.7H1040.2V608.1H1044.1V497.9H1048.0V343.1H1051.9V591.9H1055.8V436.3H1059.7V499.4H1063.6V391.0H1067.5V351.5H1071.4V361.9H1075.3V480.7H1079.2V377.4H1083.1V358.3H1087.0V360.7H1090.9V608.1H1094.8V394.1H1098.7V417.6H1102.6V423.1H1106.5V374.1H1110.4V364.2H1114.3V426.9H1118.2V348.9H1122.1V391.6H1126.0V385.9H1129.9V349.5H1133.8V358.6H1137.7V472.6H1141.6V362.1H1145.5V423.3H1149.4V365.6H1153.3V359.6H1157.2V401.6H1161.1V385.6H1165.0V363.7H1168.9V346.8H1172.7V360.6H1176.6V368.4H1180.5V383.8H1184.4V381.4H1188.3V368.2H1192.2V348.1H1196.1V387.5H1200.0V442.4H1203.9V354.3H1207.8V444.5H1211.7V410.7H1215.6V431.3H1219.5V346.2H1223.4V350.8H1227.3V485.8H1231.2V459.0H1235.1V351.0H1239.0V342.7H1242.9V344.6H1246.8V427.2H1250.7V472.5H1254.6V357.9H1258.5V398.7H1262.4V361.7H1266.3V387.9H1270.2V345.1H1274.1V447.0H1278.0V350.3H1281.9V608.1H1285.8V366.1H1289.7V347.5H1293.6V349.8H1297.5V457.2H1301.4V438.2H1305.2V395.8H1309.1V342.3H1313.0V457.6H1316.9V369.4H1320.8V373.1H1324.7V366.7H1328.6V520.4H1332.5V386.4H1336.4V352.6H1340.3V376.9H1344.2V426.7H1348.1V344.2H1352.0V608.1H1355.9V437.7H1359.8V360.1H1363.7V402.2H1367.6V608.1H1371.5V387.0H1375.4V342.8H1379.3V350.4H1383.2V362.9H1387.1V554.4H1391.0V351.4H1394.9V344.4H1398.8V366.5H1402.7V385.8H1406.6V444.8H1410.5V387.4H1414.4V350.2H1418.3V350.1H1422.2V406.8H1426.1V440.4H1430.0V402.4H1433.9V345.6H1437.8V352.1H1441.6V355.4H1445.5V369.1H1449.4V357.2H1453.3V416.6H1457.2V387.8H1461.1V376.8H1465.0V429.8H1468.9V446.9H1472.8V387.8H1476.7V364.3H1480.6V373.5H1484.5V499.0H1488.4V405.9H1492.3V401.1H1496.2V426.4H1500.1V608.1H1504.0V378.4H1507.9V341.4Z" fill="url(#rg)"/><path d="M85.5 341.4V379.3H89.3V359.3H93.2V357.1H97.1V454.9H101.0V381.8H104.9V346.1H108.8V441.8H112.7V373.1H116.6V343.3H120.5V360.6H124.4V354.8H128.3V352.0H132.2V378.7H136.1V395.5H140.0V359.7H143.9V385.5H147.8V351.1H151.7V356.0H155.6V363.0H159.5V357.8H163.4V344.9H167.3V358.2H171.2V351.7H175.1V414.6H179.0V451.5H182.9V446.2H186.8V349.8H190.7V367.3H194.6V347.9H198.5V395.7H202.4V362.2H206.3V368.0H210.2V369.0H214.1V367.9H218.0V345.5H221.8V364.5H225.7V356.3H229.6V378.7H233.5V364.2H237.4V352.4H241.3V344.5H245.2V342.8H249.1V367.2H253.0V377.5H256.9V464.9H260.8V370.0H264.7V348.1H268.6V373.1H272.5V364.6H276.4V348.6H280.3V387.3H284.2V405.1H288.1V343.2H292.0V383.0H295.9V391.7H299.8V349.9H303.7V416.4H307.6V345.9H311.5V352.3H315.4V467.1H319.3V409.9H323.2V341.9H327.1V396.4H331.0V354.3H334.9V352.0H338.8V355.8H342.7V475.1H346.6V365.4H350.5V366.9H354.4V345.9H358.2V346.3H362.1V467.7H366.0V384.3H369.9V363.7H373.8V365.7H377.7V353.0H381.6V352.2H385.5V374.9H389.4V374.2H393.3V357.5H397.2V367.7H401.1V418.0H405.0V352.1H408.9V372.6H412.8V415.0H416.7V343.7H420.6V348.7H424.5V403.7H428.4V342.3H432.3V352.9H436.2V348.8H440.1V349.3H444.0V358.8H447.9V348.3H451.8V343.4H455.7V367.7H459.6V370.9H463.5V363.3H467.4V378.9H471.3V343.6H475.2V349.4H479.1V388.6H483.0V353.9H486.9V342.8H490.8V344.1H494.6V430.6H498.5V350.8H502.4V351.5H506.3V357.3H510.2V343.0H514.1V401.6H518.0V392.6H521.9V357.2H525.8V396.2H529.7V352.7H533.6V344.1H537.5V393.9H541.4V370.0H545.3V378.4H549.2V362.5H553.1V348.0H557.0V373.2H560.9V347.3H564.8V381.7H568.7V390.7H572.6V360.0H576.5V359.8H580.4V342.6H584.3V346.0H588.2V392.4H592.1V346.0H596.0V341.5H599.9V383.9H603.8V344.8H607.7V368.6H611.6V380.4H615.5V354.0H619.4V362.2H623.3V349.1H627.2V352.9H631.0V424.9H634.9V386.6H638.8V370.4H642.7V350.0H646.6V462.5H650.5V375.2H654.4V359.8H658.3V345.4H662.2V390.6H666.1V387.7H670.0V376.3H673.9V383.4H677.8V374.9H681.7V366.0H685.6V375.7H689.5V380.0H693.4V370.6H697.3V366.1H701.2V343.2H705.1V357.4H709.0V352.6H712.9V343.5H716.8V344.6H720.7V343.6H724.6V392.6H728.5V366.6H732.4V349.5H736.3V455.1H740.2V494.7H744.1V376.7H748.0V410.8H751.9V345.6H755.8V353.8H759.7V364.7H763.5V360.1H767.4V354.3H771.3V358.4H775.2V347.8H779.1V342.7H783.0V359.8H786.9V379.4H790.8V379.9H794.7V366.0H798.6V346.7H802.5V344.8H806.4V353.1H810.3V353.9H814.2V510.2H818.1V380.3H822.0V429.3H825.9V350.2H829.8V345.8H833.7V347.5H837.6V496.6H841.5V342.4H845.4V357.7H849.3V380.2H853.2V366.7H857.1V379.7H861.0V354.2H864.9V381.7H868.8V349.9H872.7V531.8H876.6V394.9H880.5V389.0H884.4V342.2H888.3V351.3H892.2V353.7H896.1V458.1H899.9V355.9H903.8V577.6H907.7V354.0H911.6V350.2H915.5V362.3H919.4V385.4H923.3V368.1H927.2V362.9H931.1V368.6H935.0V347.1H938.9V363.5H942.8V406.5H946.7V345.7H950.6V382.2H954.5V381.9H958.4V350.0H962.3V368.5H966.2V402.3H970.1V383.0H974.0V356.0H977.9V394.5H981.8V395.3H985.7V345.7H989.6V349.1H993.5V395.8H997.4V432.7H1001.3V349.3H1005.2V382.2H1009.1V345.9H1013.0V379.5H1016.9V540.5H1020.8V345.0H1024.7V371.8H1028.6V554.5H1032.5V375.8H1036.3V346.1H1040.2V402.5H1044.1V343.1H1048.0V512.4H1051.9V343.2H1055.8V608.1H1059.7V350.3H1063.6V365.5H1067.5V376.7H1071.4V428.8H1075.3V398.1H1079.2V400.7H1083.1V342.1H1087.0V380.2H1090.9V366.0H1094.8V356.3H1098.7V349.9H1102.6V358.2H1106.5V466.0H1110.4V470.9H1114.3V392.8H1118.2V406.4H1122.1V347.7H1126.0V354.3H1129.9V420.0H1133.8V358.3H1137.7V347.7H1141.6V348.7H1145.5V585.4H1149.4V351.1H1153.3V379.4H1157.2V348.2H1161.1V359.5H1165.0V572.1H1168.9V370.8H1172.7V357.6H1176.6V569.3H1180.5V352.7H1184.4V352.6H1188.3V407.5H1192.2V354.4H1196.1V348.6H1200.0V421.8H1203.9V398.6H1207.8V384.4H1211.7V406.5H1215.6V372.7H1219.5V349.4H1223.4V369.4H1227.3V483.4H1231.2V354.3H1235.1V373.1H1239.0V475.8H1242.9V412.1H1246.8V399.0H1250.7V365.8H1254.6V367.1H1258.5V401.5H1262.4V369.3H1266.3V378.0H1270.2V373.2H1274.1V410.3H1278.0V469.0H1281.9V349.2H1285.8V347.8H1289.7V359.5H1293.6V343.8H1297.5V349.8H1301.4V384.4H1305.2V356.0H1309.1V469.0H1313.0V363.2H1316.9V380.4H1320.8V455.0H1324.7V358.9H1328.6V344.2H1332.5V424.6H1336.4V385.0H1340.3V362.9H1344.2V415.8H1348.1V345.5H1352.0V342.5H1355.9V361.4H1359.8V406.9H1363.7V366.9H1367.6V344.9H1371.5V428.7H1375.4V437.6H1379.3V342.1H1383.2V358.0H1387.1V608.1H1391.0V608.1H1394.9V353.2H1398.8V421.8H1402.7V394.2H1406.6V381.9H1410.5V355.0H1414.4V503.4H1418.3V351.6H1422.2V518.7H1426.1V348.7H1430.0V391.5H1433.9V604.5H1437.8V363.2H1441.6V365.5H1445.5V470.3H1449.4V359.7H1453.3V350.6H1457.2V353.6H1461.1V366.1H1465.0V353.5H1468.9V359.9H1472.8V411.1H1476.7V365.0H1480.6V391.7H1484.5V358.4H1488.4V381.5H1492.3V385.6H1496.2V424.9H1500.1V440.3H1504.0V349.2H1507.9V341.4Z" fill="url(#rg)"/><path d="M85.5 341.4V403.1H89.3V355.3H93.2V351.6H97.1V342.8H101.0V347.3H104.9V392.1H108.8V360.0H112.7V365.2H116.6V348.1H120.5V374.5H124.4V389.2H128.3V433.2H132.2V360.2H136.1V459.2H140.0V353.7H143.9V343.0H147.8V356.0H151.7V351.1H155.6V350.3H159.5V433.2H163.4V348.2H167.3V367.6H171.2V357.3H175.1V356.8H179.0V343.1H182.9V398.9H186.8V366.3H190.7V342.7H194.6V368.9H198.5V429.4H202.4V349.9H206.3V352.2H210.2V349.4H214.1V364.4H218.0V377.6H221.8V342.3H225.7V379.7H229.6V359.0H233.5V373.5H237.4V363.2H241.3V343.4H245.2V356.0H249.1V346.1H253.0V372.8H256.9V365.0H260.8V368.5H264.7V442.2H268.6V345.7H272.5V379.2H276.4V345.8H280.3V345.0H284.2V348.1H288.1V341.8H292.0V372.0H295.9V344.5H299.8V361.4H303.7V347.2H307.6V346.5H311.5V347.7H315.4V364.8H319.3V364.1H323.2V350.3H327.1V347.1H331.0V346.8H334.9V342.7H338.8V418.8H342.7V364.1H346.6V354.6H350.5V347.9H354.4V395.4H358.2V343.0H362.1V412.0H366.0V383.4H369.9V346.1H373.8V495.8H377.7V367.7H381.6V369.5H385.5V348.7H389.4V343.1H393.3V357.4H397.2V351.7H401.1V519.4H405.0V410.3H408.9V394.0H412.8V342.0H416.7V345.9H420.6V345.8H424.5V355.2H428.4V344.4H432.3V370.5H436.2V343.8H440.1V360.2H444.0V389.6H447.9V428.3H451.8V349.9H455.7V351.2H459.6V352.9H463.5V355.1H467.4V347.9H471.3V350.2H475.2V342.5H479.1V355.3H483.0V343.2H486.9V356.1H490.8V350.3H494.6V374.3H498.5V343.4H502.4V353.9H506.3V383.3H510.2V342.8H514.1V344.2H518.0V372.1H521.9V367.7H525.8V349.3H529.7V361.7H533.6V386.3H537.5V515.8H541.4V346.5H545.3V345.2H549.2V365.2H553.1V364.2H557.0V343.0H560.9V369.6H564.8V345.9H568.7V438.5H572.6V351.7H576.5V354.8H580.4V346.8H584.3V348.3H588.2V363.7H592.1V344.7H596.0V428.6H599.9V345.6H603.8V382.7H607.7V403.0H611.6V348.9H615.5V348.7H619.4V387.3H623.3V351.2H627.2V451.1H631.0V417.4H634.9V345.7H638.8V390.1H642.7V363.6H646.6V380.1H650.5V389.1H654.4V364.1H658.3V365.0H662.2V352.8H666.1V369.5H670.0V350.4H673.9V348.7H677.8V355.9H681.7V384.0H685.6V384.7H689.5V347.8H693.4V391.1H697.3V422.8H701.2V363.4H705.1V608.1H709.0V343.4H712.9V608.1H716.8V341.9H720.7V354.2H724.6V378.5H728.5V341.5H732.4V372.5H736.3V353.3H740.2V366.1H744.1V344.5H748.0V425.6H751.9V352.6H755.8V354.7H759.7V347.6H763.5V363.4H767.4V608.1H771.3V345.9H775.2V384.8H779.1V350.4H783.0V354.1H786.9V346.0H790.8V343.8H794.7V574.8H798.6V365.1H802.5V349.3H806.4V350.6H810.3V507.2H814.2V382.5H818.1V342.2H822.0V391.8H825.9V359.1H829.8V372.9H833.7V343.3H837.6V350.5H841.5V353.3H845.4V342.7H849.3V345.2H853.2V432.1H857.1V361.8H861.0V373.9H864.9V351.5H868.8V350.5H872.7V357.9H876.6V341.6H880.5V371.8H884.4V396.1H888.3V361.2H892.2V354.5H896.1V387.6H899.9V424.6H903.8V351.5H907.7V440.1H911.6V429.7H915.5V344.0H919.4V370.0H923.3V352.3H927.2V343.7H931.1V476.4H935.0V403.3H938.9V401.0H942.8V370.9H946.7V539.3H950.6V350.9H954.5V352.6H958.4V356.4H962.3V438.9H966.2V350.8H970.1V363.0H974.0V408.2H977.9V351.5H981.8V369.1H985.7V346.8H989.6V390.9H993.5V348.6H997.4V345.1H1001.3V412.8H1005.2V598.2H1009.1V368.6H1013.0V438.0H1016.9V347.0H1020.8V389.5H1024.7V412.1H1028.6V356.9H1032.5V391.8H1036.3V363.9H1040.2V346.8H1044.1V415.2H1048.0V608.1H1051.9V362.4H1055.8V375.7H1059.7V382.8H1063.6V378.3H1067.5V366.0H1071.4V370.2H1075.3V356.3H1079.2V365.8H1083.1V509.4H1087.0V431.6H1090.9V351.4H1094.8V525.9H1098.7V369.7H1102.6V380.3H1106.5V407.5H1110.4V359.6H1114.3V411.9H1118.2V352.7H1122.1V399.0H1126.0V406.1H1129.9V366.4H1133.8V375.3H1137.7V358.0H1141.6V371.9H1145.5V344.1H1149.4V608.1H1153.3V511.7H1157.2V349.3H1161.1V342.4H1165.0V402.5H1168.9V519.4H1172.7V355.5H1176.6V440.2H1180.5V530.7H1184.4V404.4H1188.3V446.3H1192.2V363.6H1196.1V369.3H1200.0V342.8H1203.9V377.9H1207.8V355.9H1211.7V357.2H1215.6V341.4H1219.5V393.6H1223.4V434.3H1227.3V345.1H1231.2V444.7H1235.1V608.1H1239.0V370.9H1242.9V387.3H1246.8V351.4H1250.7V362.3H1254.6V390.6H1258.5V342.5H1262.4V377.4H1266.3V584.0H1270.2V360.5H1274.1V359.9H1278.0V351.8H1281.9V401.3H1285.8V377.0H1289.7V529.6H1293.6V372.5H1297.5V343.3H1301.4V371.0H1305.2V391.0H1309.1V378.2H1313.0V362.1H1316.9V454.5H1320.8V373.9H1324.7V348.1H1328.6V352.2H1332.5V542.7H1336.4V344.5H1340.3V387.5H1344.2V363.1H1348.1V360.0H1352.0V398.2H1355.9V345.0H1359.8V470.3H1363.7V431.1H1367.6V343.1H1371.5V358.7H1375.4V347.2H1379.3V385.2H1383.2V434.8H1387.1V349.6H1391.0V371.9H1394.9V345.1H1398.8V431.4H1402.7V379.2H1406.6V381.0H1410.5V382.0H1414.4V357.6H1418.3V537.8H1422.2V434.5H1426.1V363.1H1430.0V608.1H1433.9V387.1H1437.8V367.5H1441.6V417.3H1445.5V398.1H1449.4V543.9H1453.3V477.2H1457.2V344.1H1461.1V525.1H1465.0V344.6H1468.9V426.2H1472.8V430.4H1476.7V375.1H1480.6V352.2H1484.5V465.3H1488.4V357.6H1492.3V344.2H1496.2V377.1H1500.1V389.6H1504.0V545.4H1507.9V341.4Z" fill="url(#rg)"/><path d="M85.5 341.4V342.3H89.3V380.5H93.2V447.4H97.1V384.0H101.0V377.4H104.9V392.3H108.8V345.2H112.7V395.6H116.6V405.5H120.5V350.8H124.4V358.7H128.3V368.3H132.2V436.5H136.1V349.3H140.0V363.8H143.9V457.6H147.8V341.8H151.7V383.2H155.6V456.2H159.5V342.3H163.4V352.9H167.3V359.0H171.2V352.4H175.1V342.5H179.0V341.4H182.9V341.5H186.8V354.0H190.7V427.9H194.6V358.5H198.5V371.7H202.4V343.3H206.3V440.5H210.2V383.1H214.1V352.0H218.0V370.5H221.8V342.3H225.7V400.6H229.6V347.1H233.5V342.4H237.4V391.3H241.3V387.2H245.2V345.1H249.1V380.6H253.0V343.7H256.9V369.4H260.8V356.2H264.7V346.2H268.6V365.7H272.5V380.7H276.4V347.1H280.3V385.7H284.2V342.8H288.1V399.8H292.0V353.5H295.9V356.5H299.8V345.1H303.7V373.8H307.6V421.7H311.5V382.7H315.4V352.1H319.3V347.7H323.2V357.8H327.1V351.7H331.0V394.8H334.9V351.4H338.8V359.8H342.7V377.1H346.6V385.0H350.5V347.6H354.4V359.9H358.2V342.2H362.1V424.2H366.0V355.2H369.9V351.8H373.8V343.7H377.7V386.6H381.6V362.6H385.5V370.8H389.4V345.0H393.3V342.4H397.2V357.3H401.1V343.0H405.0V372.8H408.9V341.8H412.8V343.9H416.7V350.2H420.6V365.7H424.5V348.7H428.4V358.7H432.3V347.4H436.2V343.9H440.1V345.4H444.0V398.2H447.9V350.6H451.8V383.0H455.7V343.7H459.6V379.6H463.5V388.8H467.4V364.9H471.3V608.1H475.2V342.5H479.1V407.4H483.0V352.5H486.9V370.4H490.8V347.9H494.6V377.3H498.5V351.0H502.4V349.6H506.3V377.7H510.2V345.3H514.1V346.6H518.0V608.1H521.9V376.9H525.8V376.5H529.7V369.1H533.6V350.5H537.5V358.8H541.4V342.5H545.3V375.4H549.2V351.4H553.1V423.1H557.0V357.5H560.9V368.5H564.8V353.9H568.7V379.1H572.6V343.4H576.5V370.1H580.4V346.9H584.3V584.0H588.2V361.2H592.1V452.8H596.0V433.2H599.9V419.0H603.8V353.1H607.7V345.3H611.6V343.4H615.5V390.8H619.4V351.6H623.3V371.6H627.2V359.2H631.0V410.9H634.9V345.2H638.8V441.1H642.7V362.7H646.6V378.3H650.5V342.8H654.4V379.2H658.3V372.9H662.2V407.3H666.1V360.2H670.0V343.2H673.9V365.9H677.8V351.5H681.7V344.7H685.6V388.2H689.5V351.9H693.4V346.9H697.3V343.7H701.2V374.4H705.1V608.1H709.0V389.1H712.9V379.6H716.8V352.7H720.7V364.1H724.6V374.0H728.5V344.0H732.4V363.0H736.3V391.2H740.2V402.7H744.1V360.0H748.0V364.9H751.9V408.1H755.8V363.9H759.7V351.5H763.5V351.2H767.4V389.6H771.3V608.1H775.2V363.8H779.1V413.9H783.0V349.2H786.9V346.5H790.8V380.7H794.7V349.6H798.6V367.4H802.5V358.2H806.4V357.9H810.3V344.4H814.2V345.9H818.1V367.2H822.0V363.6H825.9V358.3H829.8V365.6H833.7V385.9H837.6V359.9H841.5V356.0H845.4V369.6H849.3V372.7H853.2V486.5H857.1V344.2H861.0V361.5H864.9V367.1H868.8V347.3H872.7V344.8H876.6V342.5H880.5V407.6H884.4V370.3H888.3V480.3H892.2V545.5H896.1V428.6H899.9V391.0H903.8V361.2H907.7V351.2H911.6V368.2H915.5V359.9H919.4V376.4H923.3V341.9H927.2V450.8H931.1V354.6H935.0V391.6H938.9V374.7H942.8V397.4H946.7V432.3H950.6V369.5H954.5V482.4H958.4V356.7H962.3V391.4H966.2V349.0H970.1V608.1H974.0V356.7H977.9V365.2H981.8V353.9H985.7V364.2H989.6V351.8H993.5V380.9H997.4V374.3H1001.3V364.7H1005.2V366.1H1009.1V408.3H1013.0V348.6H1016.9V342.8H1020.8V389.1H1024.7V371.1H1028.6V356.3H1032.5V354.0H1036.3V350.0H1040.2V390.7H1044.1V347.7H1048.0V369.7H1051.9V355.5H1055.8V454.8H1059.7V497.6H1063.6V440.1H1067.5V373.5H1071.4V379.5H1075.3V608.1H1079.2V376.0H1083.1V395.7H1087.0V432.5H1090.9V492.7H1094.8V379.0H1098.7V367.8H1102.6V375.9H1106.5V394.0H1110.4V372.4H1114.3V405.7H1118.2V608.1H1122.1V346.7H1126.0V532.4H1129.9V450.5H1133.8V369.0H1137.7V349.9H1141.6V464.2H1145.5V379.5H1149.4V387.0H1153.3V349.3H1157.2V379.6H1161.1V442.2H1165.0V394.8H1168.9V369.4H1172.7V349.1H1176.6V446.7H1180.5V505.2H1184.4V378.6H1188.3V346.3H1192.2V410.5H1196.1V608.1H1200.0V368.6H1203.9V343.7H1207.8V385.6H1211.7V358.7H1215.6V385.3H1219.5V481.7H1223.4V422.6H1227.3V369.9H1231.2V370.8H1235.1V347.0H1239.0V396.2H1242.9V356.4H1246.8V380.6H1250.7V608.1H1254.6V373.7H1258.5V345.3H1262.4V414.7H1266.3V387.8H1270.2V365.1H1274.1V410.1H1278.0V445.8H1281.9V466.7H1285.8V389.8H1289.7V389.9H1293.6V426.4H1297.5V364.9H1301.4V443.6H1305.2V394.1H1309.1V420.7H1313.0V401.1H1316.9V346.1H1320.8V531.2H1324.7V408.6H1328.6V345.9H1332.5V397.7H1336.4V356.0H1340.3V343.5H1344.2V608.1H1348.1V355.8H1352.0V443.3H1355.9V493.9H1359.8V450.5H1363.7V355.3H1367.6V355.0H1371.5V594.0H1375.4V363.4H1379.3V396.3H1383.2V360.3H1387.1V401.8H1391.0V407.6H1394.9V367.6H1398.8V608.1H1402.7V388.3H1406.6V364.7H1410.5V357.5H1414.4V523.4H1418.3V386.4H1422.2V349.9H1426.1V351.6H1430.0V359.6H1433.9V380.5H1437.8V375.5H1441.6V357.4H1445.5V446.9H1449.4V370.0H1453.3V374.0H1457.2V356.8H1461.1V425.9H1465.0V367.8H1468.9V446.2H1472.8V375.3H1476.7V361.2H1480.6V355.5H1484.5V406.9H1488.4V380.6H1492.3V370.1H1496.2V383.4H1500.1V353.5H1504.0V400.3H1507.9V341.4Z" fill="url(#rg)"/><path d="M85.5 341.4V414.3H89.3V343.3H93.2V345.1H97.1V373.4H101.0V608.1H104.9V348.6H108.8V344.7H112.7V385.9H116.6V387.4H120.5V381.0H124.4V367.3H128.3V371.1H132.2V513.5H136.1V362.5H140.0V372.8H143.9V365.6H147.8V448.9H151.7V347.1H155.6V399.3H159.5V427.1H163.4V355.0H167.3V367.9H171.2V369.2H175.1V394.4H179.0V608.1H182.9V364.9H186.8V344.8H190.7V374.7H194.6V356.9H198.5V360.4H202.4V347.6H206.3V416.4H210.2V397.1H214.1V372.9H218.0V344.5H221.8V409.6H225.7V366.6H229.6V383.5H233.5V347.8H237.4V351.4H241.3V357.0H245.2V379.0H249.1V369.6H253.0V354.6H256.9V343.9H260.8V361.2H264.7V356.9H268.6V347.4H272.5V353.0H276.4V357.4H280.3V382.6H284.2V344.7H288.1V393.9H292.0V390.7H295.9V447.8H299.8V354.1H303.7V373.8H307.6V362.1H311.5V349.2H315.4V347.4H319.3V343.3H323.2V352.8H327.1V345.0H331.0V345.7H334.9V346.2H338.8V381.4H342.7V427.3H346.6V403.5H350.5V343.2H354.4V359.9H358.2V346.4H362.1V345.4H366.0V370.1H369.9V389.5H373.8V356.0H377.7V366.0H381.6V390.9H385.5V398.5H389.4V348.7H393.3V421.5H397.2V351.0H401.1V350.7H405.0V348.3H408.9V372.6H412.8V358.5H416.7V342.5H420.6V381.5H424.5V352.5H428.4V342.6H432.3V347.8H436.2V356.3H440.1V356.4H444.0V345.7H447.9V347.7H451.8V342.7H455.7V372.4H459.6V355.0H463.5V357.9H467.4V349.8H471.3V368.8H475.2V368.6H479.1V360.2H483.0V345.9H486.9V342.3H490.8V348.4H494.6V365.5H498.5V348.0H502.4V364.1H506.3V343.5H510.2V352.5H514.1V351.5H518.0V344.5H521.9V343.2H525.8V356.1H529.7V351.6H533.6V345.1H537.5V344.0H541.4V359.4H545.3V350.7H549.2V374.0H553.1V381.8H557.0V358.8H560.9V370.4H564.8V355.6H568.7V392.4H572.6V361.1H576.5V408.3H580.4V349.2H584.3V403.0H588.2V390.6H592.1V361.9H596.0V359.8H599.9V360.8H603.8V426.6H607.7V353.2H611.6V358.1H615.5V365.6H619.4V363.4H623.3V387.9H627.2V384.3H631.0V360.3H634.9V351.1H638.8V388.4H642.7V366.5H646.6V391.0H650.5V346.0H654.4V399.8H658.3V349.7H662.2V376.7H666.1V341.6H670.0V389.2H673.9V377.5H677.8V370.8H681.7V347.1H685.6V367.2H689.5V344.9H693.4V481.9H697.3V366.2H701.2V350.5H705.1V399.1H709.0V352.6H712.9V344.9H716.8V382.5H720.7V355.2H724.6V343.9H728.5V351.5H732.4V344.5H736.3V363.2H740.2V386.9H744.1V349.1H748.0V362.7H751.9V355.5H755.8V394.9H759.7V404.6H763.5V346.9H767.4V373.1H771.3V343.7H775.2V388.1H779.1V398.9H783.0V407.1H786.9V388.8H790.8V399.1H794.7V342.1H798.6V350.2H802.5V348.9H806.4V349.7H810.3V399.2H814.2V449.0H818.1V360.2H822.0V447.7H825.9V365.3H829.8V499.7H833.7V342.3H837.6V351.9H841.5V369.0H845.4V446.5H849.3V374.6H853.2V405.8H857.1V353.8H861.0V414.9H864.9V373.7H868.8V386.5H872.7V348.8H876.6V390.5H880.5V381.9H884.4V349.1H888.3V386.6H892.2V408.7H896.1V341.5H899.9V347.1H903.8V350.7H907.7V369.6H911.6V419.1H915.5V445.2H919.4V344.7H923.3V362.8H927.2V357.3H931.1V346.1H935.0V431.6H938.9V438.5H942.8V351.3H946.7V438.9H950.6V416.4H954.5V392.4H958.4V353.5H962.3V449.4H966.2V343.4H970.1V345.5H974.0V352.3H977.9V375.9H981.8V590.1H985.7V418.6H989.6V456.1H993.5V492.4H997.4V393.6H1001.3V348.7H1005.2V369.3H1009.1V356.4H1013.0V349.7H1016.9V368.3H1020.8V357.2H1024.7V379.0H1028.6V349.7H1032.5V428.5H1036.3V362.3H1040.2V374.5H1044.1V395.2H1048.0V346.3H1051.9V406.8H1055.8V386.9H1059.7V421.3H1063.6V376.4H1067.5V430.9H1071.4V373.6H1075.3V354.7H1079.2V407.0H1083.1V356.4H1087.0V425.4H1090.9V414.7H1094.8V419.5H1098.7V362.9H1102.6V347.1H1106.5V375.4H1110.4V360.1H1114.3V457.8H1118.2V366.5H1122.1V385.9H1126.0V438.4H1129.9V354.0H1133.8V342.9H1137.7V416.6H1141.6V349.1H1145.5V548.2H1149.4V431.3H1153.3V421.9H1157.2V345.4H1161.1V394.5H1165.0V351.0H1168.9V443.1H1172.7V343.5H1176.6V344.2H1180.5V499.1H1184.4V416.7H1188.3V349.5H1192.2V344.9H1196.1V381.1H1200.0V368.5H1203.9V395.2H1207.8V412.9H1211.7V354.0H1215.6V417.8H1219.5V354.1H1223.4V367.8H1227.3V430.7H1231.2V344.5H1235.1V378.3H1239.0V396.2H1242.9V365.0H1246.8V348.1H1250.7V425.2H1254.6V427.4H1258.5V602.2H1262.4V398.8H1266.3V359.3H1270.2V348.9H1274.1V341.9H1278.0V357.4H1281.9V393.9H1285.8V358.2H1289.7V364.5H1293.6V343.6H1297.5V418.7H1301.4V608.1H1305.2V396.0H1309.1V341.9H1313.0V353.4H1316.9V345.2H1320.8V400.9H1324.7V372.5H1328.6V378.1H1332.5V361.4H1336.4V608.1H1340.3V457.0H1344.2V537.0H1348.1V342.3H1352.0V364.2H1355.9V608.1H1359.8V386.4H1363.7V420.7H1367.6V528.9H1371.5V363.5H1375.4V443.4H1379.3V365.8H1383.2V346.7H1387.1V382.7H1391.0V351.1H1394.9V361.7H1398.8V353.3H1402.7V477.5H1406.6V427.2H1410.5V420.2H1414.4V396.3H1418.3V413.2H1422.2V346.7H1426.1V427.1H1430.0V376.6H1433.9V390.7H1437.8V529.3H1441.6V442.8H1445.5V349.7H1449.4V354.2H1453.3V363.0H1457.2V608.1H1461.1V364.9H1465.0V351.3H1468.9V345.8H1472.8V345.7H1476.7V365.6H1480.6V352.1H1484.5V345.6H1488.4V404.8H1492.3V376.4H1496.2V352.8H1500.1V421.2H1504.0V426.4H1507.9V341.4Z" fill="url(#rg)"/></g><path d="M1284.09,92.76 A14.1,14.1 0 1 0 1284.09,113.04" fill="none" stroke="url(#ring)" stroke-width="1.8"/><path d="M1281.66,95.27 A10.6,10.6 0 1 0 1281.66,110.53" fill="none" stroke="url(#ring)" stroke-width="1.8"/><clipPath id="sc1"><circle cx="1295.90" cy="103.00" r="14.0"/></clipPath><g clip-path="url(#sc1)"><rect x="1281.90" y="89.00" width="28.0" height="28.0" fill="url(#sun)"/><rect x="1281.90" y="93.00" width="28.0" height="0.60" fill="#333"/><rect x="1281.90" y="95.27" width="28.0" height="0.65" fill="#333"/><rect x="1281.90" y="97.85" width="28.0" height="0.70" fill="#333"/><rect x="1281.90" y="101.02" width="28.0" height="0.75" fill="#333"/><rect x="1281.90" y="103.80" width="28.0" height="0.80" fill="#333"/><rect x="1281.90" y="106.47" width="28.0" height="0.85" fill="#333"/><rect x="1281.90" y="109.15" width="28.0" height="0.90" fill="#333"/><rect x="1281.90" y="111.83" width="28.0" height="0.95" fill="#333"/><rect x="1281.90" y="114.30" width="28.0" height="1.00" fill="#333"/><rect x="1281.90" y="116.77" width="28.0" height="1.05" fill="#333"/><rect x="1281.90" y="119.25" width="28.0" height="1.10" fill="#333"/></g><text x="1313" y="112.6" font-size="23" fill="#1e90ff" stroke="#333" stroke-width="0.2" textLength="174.5" lengthAdjust="spacingAndGlyphs">ClimeChart.com</text><path d="M120.89,570.46 A14.1,14.1 0 1 0 120.89,590.74" fill="none" stroke="url(#ring)" stroke-width="1.8"/><path d="M118.46,572.97 A10.6,10.6 0 1 0 118.46,588.23" fill="none" stroke="url(#ring)" stroke-width="1.8"/><clipPath id="sc2"><circle cx="132.70" cy="580.70" r="14.0"/></clipPath><g clip-path="url(#sc2)"><rect x="118.70" y="566.70" width="28.0" height="28.0" fill="url(#sun)"/><rect x="118.70" y="570.70" width="28.0" height="0.60" fill="#333"/><rect x="118.70" y="572.98" width="28.0" height="0.65" fill="#333"/><rect x="118.70" y="575.55" width="28.0" height="0.70" fill="#333"/><rect x="118.70" y="578.73" width="28.0" height="0.75" fill="#333"/><rect x="118.70" y="581.50" width="28.0" height="0.80" fill="#333"/><rect x="118.70" y="584.18" width="28.0" height="0.85" fill="#333"/><rect x="118.70" y="586.85" width="28.0" height="0.90" fill="#333"/><rect x="118.70" y="589.53" width="28.0" height="0.95" fill="#333"/><rect x="118.70" y="592.00" width="28.0" height="1.00" fill="#333"/><rect x="118.70" y="594.48" width="28.0" height="1.05" fill="#333"/><rect x="118.70" y="596.95" width="28.0" height="1.10" fill="#333"/></g><text x="150.8" y="590.4" font-size="23" fill="#1e90ff" stroke="#333" stroke-width="0.2" textLength="174.5" lengthAdjust="spacingAndGlyphs">ClimeChart.com</text><line x1="85" y1="101.37" x2="1508" y2="101.37" stroke="#fff" stroke-opacity="0.3" stroke-width="1"/><line x1="85" y1="128.04" x2="1508" y2="128.04" stroke="#fff" stroke-opacity="0.3" stroke-width="1"/><line x1="85" y1="154.71" x2="1508" y2="154.71" stroke="#fff" stroke-opacity="0.3" stroke-width="1"/><line x1="85" y1="181.38" x2="1508" y2="181.38" stroke="#fff" stroke-opacity="0.3" stroke-width="1"/><line x1="85" y1="208.05" x2="1508" y2="208.05" stroke="#fff" stroke-opacity="0.3" stroke-width="1"/><line x1="85" y1="234.72" x2="1508" y2="234.72" stroke="#fff" stroke-opacity="0.3" stroke-width="1"/><line x1="85" y1="261.39" x2="1508" y2="261.39" stroke="#fff" stroke-opacity="0.3" stroke-width="1"/><line x1="85" y1="288.06" x2="1508" y2="288.06" stroke="#fff" stroke-opacity="0.3" stroke-width="1"/><line x1="85" y1="314.73" x2="1508" y2="314.73" stroke="#fff" stroke-opacity="0.3" stroke-width="1"/><line x1="85" y1="368.07" x2="1508" y2="368.07" stroke="#fff" stroke-opacity="0.3" stroke-width="1"/><line x1="85" y1="394.74" x2="1508" y2="394.74" stroke="#fff" stroke-opacity="0.3" stroke-width="1"/><line x1="85" y1="421.41" x2="1508" y2="421.41" stroke="#fff" stroke-opacity="0.3" stroke-width="1"/><line x1="85" y1="448.08" x2="1508" y2="448.08" stroke="#fff" stroke-opacity="0.3" stroke-width="1"/><line x1="85" y1="474.75" x2="1508" y2="474.75" stroke="#fff" stroke-opacity="0.3" stroke-width="1"/><line x1="85" y1="501.42" x2="1508" y2="501.42" stroke="#fff" stroke-opacity="0.3" stroke-width="1"/><line x1="85" y1="528.09" x2="1508" y2="528.09" stroke="#fff" stroke-opacity="0.3" stroke-width="1"/><line x1="85" y1="554.76" x2="1508" y2="554.76" stroke="#fff" stroke-opacity="0.3" stroke-width="1"/><line x1="85" y1="581.43" x2="1508" y2="581.43" stroke="#fff" stroke-opacity="0.3" stroke-width="1"/><line x1="206.16" y1="75" x2="206.16" y2="608" stroke="#fff" stroke-opacity="0.3" stroke-width="1"/><line x1="315.32" y1="75" x2="315.32" y2="608" stroke="#fff" stroke-opacity="0.3" stroke-width="1"/><line x1="436.18" y1="75" x2="436.18" y2="608" stroke="#fff" stroke-opacity="0.3" stroke-width="1"/><line x1="553.14" y1="75" x2="553.14" y2="608" stroke="#fff" stroke-opacity="0.3" stroke-width="1"/><line x1="674.00" y1="75" x2="674.00" y2="608" stroke="#fff" stroke-opacity="0.3" stroke-width="1"/><line x1="790.96" y1="75" x2="790.96" y2="608" stroke="#fff" stroke-opacity="0.3" stroke-width="1"/><line x1="911.82" y1="75" x2="911.82" y2="608" stroke="#fff" stroke-opacity="0.3" stroke-width="1"/><line x1="1032.68" y1="75" x2="1032.68" y2="608" stroke="#fff" stroke-opacity="0.3" stroke-width="1"/><line x1="1149.65" y1="75" x2="1149.65" y2="608" stroke="#fff" stroke-opacity="0.3" stroke-width="1"/><line x1="1270.50" y1="75" x2="1270.50" y2="608" stroke="#fff" stroke-opacity="0.3" stroke-width="1"/><line x1="1387.47" y1="75" x2="1387.47" y2="608" stroke="#fff" stroke-opacity="0.3" stroke-width="1"/><polyline points="85.5,212.40 87.5,212.39 89.5,212.38 91.5,212.37 93.5,212.36 95.5,212.35 97.5,212.34 99.5,212.33 101.5,212.31 103.5,212.30 105.5,212.29 107.5,212.27 109.5,212.26 111.5,212.24 113.5,212.23 115.5,212.21 117.5,212.20 119.5,212.18 121.5,212.16 123.5,212.15 125.5,212.13 127.5,212.11 129.4,212.09 131.4,212.07 133.4,212.05 135.4,212.03 137.4,212.01 139.4,211.99 141.4,211.97 143.4,211.95 145.4,211.92 147.4,211.90 149.4,211.88 151.4,211.85 153.4,211.83 155.4,211.81 157.4,211.78 159.4,211.76 161.4,211.73 163.4,211.70 165.4,211.68 167.4,211.65 169.4,211.62 171.4,211.60 173.4,211.57 175.4,211.54 177.4,211.51 179.4,211.48 181.4,211.45 183.4,211.42 185.4,211.39 187.4,211.36 189.4,211.33 191.4,211.30 193.4,211.27 195.4,211.24 197.4,211.20 199.4,211.17 201.4,211.14 203.4,211.11 205.4,211.07 207.4,211.04 209.4,211.00 211.4,210.97 213.4,210.93 215.4,210.90 217.4,210.86 219.4,210.82 221.4,210.79 223.4,210.75 225.4,210.71 227.4,210.68 229.4,210.64 231.4,210.60 233.4,210.56 235.4,210.52 237.4,210.48 239.4,210.44 241.4,210.41 243.4,210.37 245.4,210.33 247.4,210.28 249.4,210.24 251.4,210.20 253.4,210.16 255.4,210.12 257.4,210.08 259.4,210.04 261.4,209.99 263.4,209.95 265.4,209.91 267.4,209.86 269.4,209.82 271.4,209.78 273.4,209.73 275.4,209.69 277.4,209.64 279.4,209.60 281.4,209.55 283.4,209.51 285.4,209.46 287.4,209.42 289.4,209.37 291.4,209.33 293.4,209.28 295.4,209.23 297.4,209.19 299.4,209.14 301.4,209.09 303.4,209.04 305.4,209.00 307.4,208.95 309.4,208.90 311.4,208.85 313.4,208.80 315.4,208.76 317.4,208.71 319.4,208.66 321.4,208.61 323.4,208.56 325.4,208.51 327.4,208.46 329.4,208.41 331.4,208.36 333.4,208.31 335.4,208.26 337.4,208.21 339.4,208.16 341.4,208.11 343.4,208.06 345.4,208.01 347.4,207.96 349.4,207.91 351.4,207.86 353.4,207.81 355.4,207.76 357.4,207.71 359.4,207.65 361.4,207.60 363.4,207.55 365.4,207.50 367.4,207.45 369.4,207.40 371.4,207.35 373.4,207.29 375.4,207.24 377.4,207.19 379.4,207.14 381.4,207.09 383.4,207.03 385.4,206.98 387.4,206.93 389.4,206.88 391.4,206.83 393.4,206.77 395.4,206.72 397.4,206.67 399.4,206.62 401.4,206.57 403.4,206.51 405.4,206.46 407.4,206.41 409.4,206.36 411.4,206.31 413.4,206.25 415.4,206.20 417.4,206.15 419.4,206.10 421.4,206.05 423.4,205.99 425.4,205.94 427.4,205.89 429.4,205.84 431.4,205.79 433.4,205.74 435.4,205.68 437.4,205.63 439.4,205.58 441.4,205.53 443.4,205.48 445.4,205.43 447.4,205.38 449.4,205.33 451.4,205.27 453.4,205.22 455.4,205.17 457.4,205.12 459.4,205.07 461.4,205.02 463.4,204.97 465.4,204.92 467.4,204.87 469.4,204.82 471.4,204.77 473.4,204.72 475.4,204.67 477.4,204.62 479.4,204.58 481.4,204.53 483.4,204.48 485.4,204.43 487.4,204.38 489.4,204.33 491.4,204.28 493.4,204.24 495.4,204.19 497.4,204.14 499.4,204.09 501.4,204.05 503.4,204.00 505.4,203.95 507.4,203.91 509.4,203.86 511.4,203.81 513.5,203.77 515.5,203.72 517.5,203.68 519.5,203.63 521.5,203.59 523.5,203.54 525.5,203.50 527.5,203.45 529.5,203.41 531.5,203.37 533.5,203.32 535.5,203.28 537.5,203.24 539.5,203.19 541.5,203.15 543.5,203.11 545.5,203.07 547.5,203.03 549.5,202.98 551.5,202.94 553.5,202.90 555.5,202.86 557.5,202.82 559.5,202.78 561.5,202.74 563.5,202.70 565.5,202.66 567.5,202.63 569.5,202.59 571.5,202.55 573.5,202.51 575.5,202.47 577.5,202.44 579.5,202.40 581.5,202.36 583.5,202.33 585.5,202.29 587.5,202.26 589.5,202.22 591.5,202.19 593.5,202.15 595.5,202.12 597.5,202.08 599.5,202.05 601.5,202.02 603.5,201.99 605.5,201.95 607.5,201.92 609.5,201.89 611.5,201.86 613.5,201.83 615.5,201.80 617.5,201.77 619.5,201.74 621.5,201.71 623.5,201.68 625.5,201.65 627.5,201.62 629.5,201.59 631.5,201.57 633.5,201.54 635.5,201.51 637.5,201.49 639.5,201.46 641.5,201.44 643.5,201.41 645.5,201.39 647.5,201.36 649.5,201.34 651.5,201.32 653.5,201.29 655.5,201.27 657.5,201.25 659.5,201.23 661.5,201.20 663.5,201.18 665.5,201.16 667.5,201.14 669.5,201.12 671.5,201.10 673.5,201.09 675.5,201.07 677.5,201.05 679.5,201.03 681.5,201.01 683.5,201.00 685.5,200.98 687.5,200.97 689.5,200.95 691.5,200.94 693.5,200.92 695.5,200.91 697.5,200.89 699.5,200.88 701.5,200.87 703.5,200.86 705.5,200.85 707.5,200.83 709.5,200.82 711.5,200.81 713.5,200.80 715.5,200.79 717.5,200.78 719.5,200.78 721.5,200.77 723.5,200.76 725.5,200.75 727.5,200.75 729.5,200.74 731.5,200.73 733.5,200.73 735.5,200.72 737.5,200.72 739.5,200.72 741.5,200.71 743.5,200.71 745.5,200.71 747.5,200.70 749.5,200.70 751.5,200.70 753.5,200.70 755.5,200.70 757.5,200.70 759.5,200.70 761.5,200.70 763.5,200.70 765.5,200.71 767.5,200.71 769.5,200.71 771.5,200.71 773.5,200.72 775.5,200.72 777.5,200.73 779.5,200.73 781.5,200.74 783.5,200.74 785.5,200.75 787.5,200.76 789.5,200.77 791.5,200.77 793.5,200.78 795.5,200.79 797.5,200.80 799.5,200.81 801.5,200.82 803.5,200.83 805.5,200.84 807.5,200.85 809.5,200.87 811.5,200.88 813.5,200.89 815.5,200.90 817.5,200.92 819.5,200.93 821.5,200.95 823.5,200.96 825.5,200.98 827.5,200.99 829.5,201.01 831.5,201.03 833.5,201.04 835.5,201.06 837.5,201.08 839.5,201.10 841.5,201.12 843.5,201.14 845.5,201.16 847.5,201.18 849.5,201.20 851.5,201.22 853.5,201.24 855.5,201.26 857.5,201.29 859.5,201.31 861.5,201.33 863.5,201.36 865.5,201.38 867.5,201.40 869.5,201.43 871.5,201.45 873.5,201.48 875.5,201.51 877.5,201.53 879.5,201.56 881.5,201.59 883.5,201.61 885.5,201.64 887.5,201.67 889.5,201.70 891.5,201.73 893.5,201.76 895.5,201.79 897.5,201.82 899.5,201.85 901.5,201.88 903.5,201.91 905.5,201.94 907.5,201.98 909.5,202.01 911.5,202.04 913.5,202.07 915.5,202.11 917.5,202.14 919.5,202.18 921.5,202.21 923.5,202.25 925.5,202.28 927.5,202.32 929.5,202.35 931.5,202.39 933.5,202.43 935.5,202.46 937.5,202.50 939.5,202.54 941.5,202.58 943.5,202.61 945.5,202.65 947.5,202.69 949.5,202.73 951.5,202.77 953.5,202.81 955.5,202.85 957.5,202.89 959.5,202.93 961.5,202.97 963.5,203.01 965.5,203.06 967.5,203.10 969.5,203.14 971.5,203.18 973.5,203.22 975.5,203.27 977.5,203.31 979.5,203.35 981.5,203.40 983.5,203.44 985.5,203.49 987.5,203.53 989.5,203.57 991.5,203.62 993.5,203.66 995.5,203.71 997.5,203.75 999.5,203.80 1001.5,203.85 1003.5,203.89 1005.5,203.94 1007.5,203.99 1009.5,204.03 1011.5,204.08 1013.5,204.13 1015.5,204.17 1017.5,204.22 1019.5,204.27 1021.5,204.32 1023.5,204.37 1025.5,204.41 1027.5,204.46 1029.5,204.51 1031.5,204.56 1033.5,204.61 1035.5,204.66 1037.5,204.71 1039.5,204.76 1041.5,204.81 1043.5,204.86 1045.5,204.91 1047.5,204.96 1049.5,205.01 1051.5,205.06 1053.5,205.11 1055.5,205.16 1057.5,205.21 1059.5,205.26 1061.5,205.31 1063.5,205.36 1065.5,205.41 1067.5,205.46 1069.5,205.51 1071.5,205.57 1073.5,205.62 1075.5,205.67 1077.5,205.72 1079.5,205.77 1081.5,205.82 1083.5,205.87 1085.5,205.93 1087.5,205.98 1089.5,206.03 1091.5,206.08 1093.5,206.13 1095.5,206.19 1097.5,206.24 1099.5,206.29 1101.5,206.34 1103.5,206.39 1105.5,206.45 1107.5,206.50 1109.5,206.55 1111.5,206.60 1113.5,206.65 1115.5,206.71 1117.5,206.76 1119.5,206.81 1121.5,206.86 1123.5,206.91 1125.5,206.97 1127.5,207.02 1129.5,207.07 1131.5,207.12 1133.5,207.17 1135.5,207.23 1137.5,207.28 1139.5,207.33 1141.5,207.38 1143.5,207.43 1145.5,207.48 1147.5,207.54 1149.5,207.59 1151.5,207.64 1153.5,207.69 1155.5,207.74 1157.5,207.79 1159.5,207.84 1161.5,207.89 1163.5,207.95 1165.5,208.00 1167.5,208.05 1169.5,208.10 1171.5,208.15 1173.5,208.20 1175.5,208.25 1177.5,208.30 1179.5,208.35 1181.5,208.40 1183.5,208.45 1185.5,208.50 1187.5,208.55 1189.5,208.59 1191.5,208.64 1193.5,208.69 1195.5,208.74 1197.5,208.79 1199.5,208.84 1201.5,208.89 1203.5,208.93 1205.5,208.98 1207.5,209.03 1209.5,209.08 1211.5,209.12 1213.5,209.17 1215.5,209.22 1217.5,209.26 1219.5,209.31 1221.5,209.36 1223.5,209.40 1225.5,209.45 1227.5,209.49 1229.5,209.54 1231.5,209.58 1233.5,209.63 1235.5,209.67 1237.5,209.72 1239.5,209.76 1241.5,209.81 1243.5,209.85 1245.5,209.89 1247.5,209.94 1249.5,209.98 1251.5,210.02 1253.5,210.06 1255.5,210.11 1257.5,210.15 1259.5,210.19 1261.5,210.23 1263.5,210.27 1265.5,210.31 1267.5,210.35 1269.5,210.39 1271.5,210.43 1273.5,210.47 1275.5,210.51 1277.5,210.55 1279.5,210.59 1281.5,210.63 1283.5,210.67 1285.5,210.70 1287.5,210.74 1289.5,210.78 1291.5,210.81 1293.5,210.85 1295.5,210.89 1297.5,210.92 1299.5,210.96 1301.5,210.99 1303.5,211.03 1305.5,211.06 1307.5,211.09 1309.5,211.13 1311.5,211.16 1313.5,211.19 1315.5,211.23 1317.5,211.26 1319.5,211.29 1321.5,211.32 1323.5,211.35 1325.5,211.38 1327.5,211.41 1329.5,211.44 1331.5,211.47 1333.5,211.50 1335.5,211.53 1337.5,211.56 1339.5,211.59 1341.5,211.62 1343.5,211.64 1345.5,211.67 1347.5,211.70 1349.5,211.72 1351.5,211.75 1353.5,211.77 1355.5,211.80 1357.5,211.82 1359.5,211.85 1361.5,211.87 1363.5,211.89 1365.5,211.92 1367.5,211.94 1369.5,211.96 1371.5,211.98 1373.5,212.00 1375.5,212.02 1377.5,212.04 1379.5,212.06 1381.5,212.08 1383.5,212.10 1385.5,212.12 1387.5,212.14 1389.5,212.16 1391.5,212.17 1393.5,212.19 1395.5,212.21 1397.5,212.22 1399.5,212.24 1401.5,212.25 1403.5,212.27 1405.5,212.28 1407.5,212.30 1409.5,212.31 1411.5,212.32 1413.5,212.34 1415.5,212.35 1417.5,212.36 1419.5,212.37 1421.5,212.38 1423.5,212.39 1425.5,212.40 1427.5,212.41 1429.5,212.42 1431.5,212.43 1433.5,212.44 1435.5,212.44 1437.5,212.45 1439.5,212.46 1441.5,212.46 1443.5,212.47 1445.5,212.47 1447.5,212.48 1449.5,212.48 1451.5,212.49 1453.5,212.49 1455.5,212.49 1457.5,212.49 1459.5,212.50 1461.5,212.50 1463.5,212.50 1465.5,212.50 1467.5,212.50 1469.5,212.50 1471.5,212.50 1473.5,212.50 1475.5,212.50 1477.5,212.49 1479.5,212.49 1481.5,212.49 1483.5,212.48 1485.5,212.48 1487.5,212.48 1489.5,212.47 1491.5,212.47 1493.5,212.46 1495.5,212.45 1497.5,212.45 1499.5,212.44 1501.5,212.43 1503.5,212.42 1505.5,212.42 1507.5,212.41 1507.9,212.40" fill="none" stroke="#00f400" stroke-width="1.3"/><polyline points="85.5,223.00 87.5,223.00 89.5,223.00 91.5,223.00 93.5,223.00 95.5,223.00 97.5,223.00 99.5,223.00 101.5,223.00 103.5,223.00 105.5,223.00 107.5,223.00 109.5,223.00 111.5,223.00 113.5,223.00 115.5,223.00 117.5,223.00 119.5,223.00 121.5,223.00 123.5,223.00 125.5,223.00 127.5,223.00 129.4,223.00 131.4,223.00 133.4,223.00 135.4,223.00 137.4,223.00 139.4,223.00 141.4,223.00 143.4,223.00 145.4,223.00 147.4,223.00 149.4,223.00 151.4,223.00 153.4,223.00 155.4,223.00 157.4,223.00 159.4,223.00 161.4,223.00 163.4,223.00 165.4,222.99 167.4,222.99 169.4,222.99 171.4,222.99 173.4,222.99 175.4,222.99 177.4,222.99 179.4,222.99 181.4,222.98 183.4,222.98 185.4,222.98 187.4,222.98 189.4,222.98 191.4,222.97 193.4,222.97 195.4,222.97 197.4,222.97 199.4,222.97 201.4,222.96 203.4,222.96 205.4,222.96 207.4,222.96 209.4,222.95 211.4,222.95 213.4,222.95 215.4,222.95 217.4,222.95 219.4,222.94 221.4,222.94 223.4,222.94 225.4,222.94 227.4,222.93 229.4,222.93 231.4,222.93 233.4,222.93 235.4,222.92 237.4,222.92 239.4,222.92 241.4,222.92 243.4,222.92 245.4,222.91 247.4,222.91 249.4,222.91 251.4,222.91 253.4,222.91 255.4,222.90 257.4,222.90 259.4,222.90 261.4,222.90 263.4,222.90 265.4,222.89 267.4,222.88 269.4,222.88 271.4,222.87 273.4,222.86 275.4,222.84 277.4,222.83 279.4,222.81 281.4,222.80 283.4,222.78 285.4,222.76 287.4,222.74 289.4,222.71 291.4,222.69 293.4,222.67 295.4,222.64 297.4,222.62 299.4,222.59 301.4,222.56 303.4,222.54 305.4,222.51 307.4,222.48 309.4,222.45 311.4,222.42 313.4,222.39 315.4,222.35 317.4,222.32 319.4,222.29 321.4,222.26 323.4,222.23 325.4,222.19 327.4,222.16 329.4,222.13 331.4,222.10 333.4,222.06 335.4,222.03 337.4,222.00 339.4,221.97 341.4,221.94 343.4,221.91 345.4,221.88 347.4,221.84 349.4,221.82 351.4,221.79 353.4,221.76 355.4,221.73 357.4,221.70 359.4,221.68 361.4,221.65 363.4,221.63 365.4,221.60 367.4,221.58 369.4,221.56 371.4,221.54 373.4,221.52 375.4,221.50 377.4,221.48 379.4,221.46 381.4,221.44 383.4,221.41 385.4,221.38 387.4,221.34 389.4,221.30 391.4,221.26 393.4,221.22 395.4,221.17 397.4,221.12 399.4,221.07 401.4,221.01 403.4,220.96 405.4,220.90 407.4,220.84 409.4,220.77 411.4,220.71 413.4,220.64 415.4,220.58 417.4,220.51 419.4,220.44 421.4,220.37 423.4,220.30 425.4,220.22 427.4,220.15 429.4,220.08 431.4,220.00 433.4,219.93 435.4,219.86 437.4,219.78 439.4,219.71 441.4,219.63 443.4,219.56 445.4,219.49 447.4,219.41 449.4,219.34 451.4,219.27 453.4,219.20 455.4,219.13 457.4,219.07 459.4,219.00 461.4,218.93 463.4,218.87 465.4,218.81 467.4,218.75 469.4,218.69 471.4,218.64 473.4,218.59 475.4,218.54 477.4,218.49 479.4,218.44 481.4,218.40 483.4,218.36 485.4,218.32 487.4,218.29 489.4,218.26 491.4,218.23 493.4,218.21 495.4,218.19 497.4,218.17 499.4,218.15 501.4,218.13 503.4,218.10 505.4,218.08 507.4,218.05 509.4,218.03 511.4,218.00 513.5,217.97 515.5,217.94 517.5,217.91 519.5,217.88 521.5,217.85 523.5,217.81 525.5,217.78 527.5,217.75 529.5,217.71 531.5,217.68 533.5,217.64 535.5,217.60 537.5,217.57 539.5,217.53 541.5,217.50 543.5,217.46 545.5,217.42 547.5,217.39 549.5,217.35 551.5,217.31 553.5,217.28 555.5,217.24 557.5,217.20 559.5,217.17 561.5,217.13 563.5,217.10 565.5,217.06 567.5,217.03 569.5,217.00 571.5,216.96 573.5,216.93 575.5,216.90 577.5,216.87 579.5,216.84 581.5,216.81 583.5,216.78 585.5,216.75 587.5,216.73 589.5,216.70 591.5,216.68 593.5,216.65 595.5,216.63 597.5,216.61 599.5,216.59 601.5,216.57 603.5,216.56 605.5,216.54 607.5,216.53 609.5,216.52 611.5,216.51 613.5,216.50 615.5,216.49 617.5,216.48 619.5,216.48 621.5,216.47 623.5,216.46 625.5,216.45 627.5,216.44 629.5,216.43 631.5,216.41 633.5,216.40 635.5,216.39 637.5,216.38 639.5,216.37 641.5,216.36 643.5,216.34 645.5,216.33 647.5,216.32 649.5,216.30 651.5,216.29 653.5,216.28 655.5,216.26 657.5,216.25 659.5,216.24 661.5,216.22 663.5,216.21 665.5,216.19 667.5,216.18 669.5,216.17 671.5,216.15 673.5,216.14 675.5,216.13 677.5,216.11 679.5,216.10 681.5,216.09 683.5,216.08 685.5,216.06 687.5,216.05 689.5,216.04 691.5,216.03 693.5,216.02 695.5,216.01 697.5,216.00 699.5,215.99 701.5,215.98 703.5,215.97 705.5,215.96 707.5,215.95 709.5,215.95 711.5,215.94 713.5,215.93 715.5,215.93 717.5,215.92 719.5,215.92 721.5,215.91 723.5,215.91 725.5,215.90 727.5,215.90 729.5,215.90 731.5,215.90 733.5,215.90 735.5,215.90 737.5,215.90 739.5,215.91 741.5,215.91 743.5,215.92 745.5,215.92 747.5,215.93 749.5,215.94 751.5,215.95 753.5,215.96 755.5,215.97 757.5,215.98 759.5,215.99 761.5,216.00 763.5,216.01 765.5,216.03 767.5,216.04 769.5,216.06 771.5,216.07 773.5,216.09 775.5,216.10 777.5,216.12 779.5,216.14 781.5,216.15 783.5,216.17 785.5,216.19 787.5,216.21 789.5,216.23 791.5,216.24 793.5,216.26 795.5,216.28 797.5,216.30 799.5,216.32 801.5,216.34 803.5,216.36 805.5,216.37 807.5,216.39 809.5,216.41 811.5,216.43 813.5,216.45 815.5,216.46 817.5,216.48 819.5,216.50 821.5,216.52 823.5,216.53 825.5,216.55 827.5,216.56 829.5,216.58 831.5,216.59 833.5,216.61 835.5,216.62 837.5,216.63 839.5,216.64 841.5,216.66 843.5,216.67 845.5,216.68 847.5,216.69 849.5,216.69 851.5,216.70 853.5,216.71 855.5,216.72 857.5,216.73 859.5,216.74 861.5,216.75 863.5,216.76 865.5,216.77 867.5,216.78 869.5,216.79 871.5,216.81 873.5,216.82 875.5,216.84 877.5,216.85 879.5,216.87 881.5,216.88 883.5,216.90 885.5,216.92 887.5,216.93 889.5,216.95 891.5,216.97 893.5,216.99 895.5,217.01 897.5,217.02 899.5,217.04 901.5,217.06 903.5,217.08 905.5,217.10 907.5,217.12 909.5,217.14 911.5,217.16 913.5,217.18 915.5,217.19 917.5,217.21 919.5,217.23 921.5,217.25 923.5,217.27 925.5,217.29 927.5,217.31 929.5,217.32 931.5,217.34 933.5,217.36 935.5,217.38 937.5,217.39 939.5,217.41 941.5,217.43 943.5,217.44 945.5,217.46 947.5,217.47 949.5,217.48 951.5,217.50 953.5,217.51 955.5,217.52 957.5,217.54 959.5,217.55 961.5,217.56 963.5,217.57 965.5,217.58 967.5,217.58 969.5,217.59 971.5,217.60 973.5,217.60 975.5,217.61 977.5,217.62 979.5,217.63 981.5,217.63 983.5,217.64 985.5,217.65 987.5,217.66 989.5,217.67 991.5,217.68 993.5,217.69 995.5,217.70 997.5,217.71 999.5,217.72 1001.5,217.73 1003.5,217.74 1005.5,217.76 1007.5,217.77 1009.5,217.78 1011.5,217.79 1013.5,217.80 1015.5,217.82 1017.5,217.83 1019.5,217.84 1021.5,217.86 1023.5,217.87 1025.5,217.88 1027.5,217.89 1029.5,217.91 1031.5,217.92 1033.5,217.93 1035.5,217.94 1037.5,217.96 1039.5,217.97 1041.5,217.98 1043.5,217.99 1045.5,218.01 1047.5,218.02 1049.5,218.03 1051.5,218.04 1053.5,218.05 1055.5,218.06 1057.5,218.08 1059.5,218.09 1061.5,218.10 1063.5,218.11 1065.5,218.12 1067.5,218.12 1069.5,218.13 1071.5,218.14 1073.5,218.15 1075.5,218.16 1077.5,218.16 1079.5,218.17 1081.5,218.18 1083.5,218.18 1085.5,218.19 1087.5,218.19 1089.5,218.20 1091.5,218.20 1093.5,218.20 1095.5,218.21 1097.5,218.21 1099.5,218.22 1101.5,218.22 1103.5,218.22 1105.5,218.23 1107.5,218.23 1109.5,218.24 1111.5,218.24 1113.5,218.25 1115.5,218.25 1117.5,218.26 1119.5,218.26 1121.5,218.27 1123.5,218.27 1125.5,218.28 1127.5,218.28 1129.5,218.29 1131.5,218.29 1133.5,218.30 1135.5,218.31 1137.5,218.31 1139.5,218.32 1141.5,218.32 1143.5,218.33 1145.5,218.33 1147.5,218.34 1149.5,218.35 1151.5,218.35 1153.5,218.36 1155.5,218.36 1157.5,218.37 1159.5,218.38 1161.5,218.38 1163.5,218.39 1165.5,218.39 1167.5,218.40 1169.5,218.40 1171.5,218.41 1173.5,218.42 1175.5,218.42 1177.5,218.43 1179.5,218.43 1181.5,218.44 1183.5,218.44 1185.5,218.45 1187.5,218.45 1189.5,218.46 1191.5,218.46 1193.5,218.47 1195.5,218.47 1197.5,218.48 1199.5,218.48 1201.5,218.48 1203.5,218.49 1205.5,218.49 1207.5,218.50 1209.5,218.50 1211.5,218.50 1213.5,218.51 1215.5,218.51 1217.5,218.52 1219.5,218.52 1221.5,218.53 1223.5,218.54 1225.5,218.55 1227.5,218.56 1229.5,218.57 1231.5,218.57 1233.5,218.58 1235.5,218.60 1237.5,218.61 1239.5,218.62 1241.5,218.63 1243.5,218.64 1245.5,218.65 1247.5,218.67 1249.5,218.68 1251.5,218.69 1253.5,218.71 1255.5,218.72 1257.5,218.73 1259.5,218.75 1261.5,218.76 1263.5,218.78 1265.5,218.79 1267.5,218.81 1269.5,218.82 1271.5,218.84 1273.5,218.85 1275.5,218.87 1277.5,218.88 1279.5,218.90 1281.5,218.91 1283.5,218.93 1285.5,218.94 1287.5,218.96 1289.5,218.97 1291.5,218.98 1293.5,219.00 1295.5,219.01 1297.5,219.03 1299.5,219.04 1301.5,219.05 1303.5,219.07 1305.5,219.08 1307.5,219.09 1309.5,219.10 1311.5,219.12 1313.5,219.13 1315.5,219.14 1317.5,219.15 1319.5,219.16 1321.5,219.17 1323.5,219.18 1325.5,219.19 1327.5,219.20 1329.5,219.20 1331.5,219.21 1333.5,219.22 1335.5,219.24 1337.5,219.25 1339.5,219.26 1341.5,219.28 1343.5,219.30 1345.5,219.32 1347.5,219.34 1349.5,219.36 1351.5,219.38 1353.5,219.41 1355.5,219.43 1357.5,219.46 1359.5,219.48 1361.5,219.51 1363.5,219.54 1365.5,219.56 1367.5,219.59 1369.5,219.62 1371.5,219.65 1373.5,219.68 1375.5,219.71 1377.5,219.74 1379.5,219.77 1381.5,219.80 1383.5,219.84 1385.5,219.87 1387.5,219.90 1389.5,219.93 1391.5,219.96 1393.5,219.99 1395.5,220.02 1397.5,220.05 1399.5,220.08 1401.5,220.11 1403.5,220.14 1405.5,220.16 1407.5,220.19 1409.5,220.22 1411.5,220.24 1413.5,220.27 1415.5,220.29 1417.5,220.31 1419.5,220.34 1421.5,220.36 1423.5,220.38 1425.5,220.40 1427.5,220.41 1429.5,220.43 1431.5,220.44 1433.5,220.46 1435.5,220.47 1437.5,220.48 1439.5,220.48 1441.5,220.49 1443.5,220.50 1445.5,220.50 1447.5,220.50 1449.5,220.50 1451.5,220.50 1453.5,220.50 1455.5,220.50 1457.5,220.50 1459.5,220.50 1461.5,220.50 1463.5,220.50 1465.5,220.50 1467.5,220.50 1469.5,220.50 1471.5,220.50 1473.5,220.50 1475.5,220.50 1477.5,220.50 1479.5,220.50 1481.5,220.50 1483.5,220.50 1485.5,220.50 1487.5,220.50 1489.5,220.50 1491.5,220.50 1493.5,220.50 1495.5,220.50 1497.5,220.50 1499.5,220.50 1501.5,220.50 1503.5,220.50 1505.5,220.50 1507.5,220.50 1507.9,220.50" fill="none" stroke="#f868f8" stroke-width="1.3"/><polyline points="85.5,231.50 87.5,231.50 89.5,231.50 91.5,231.50 93.5,231.50 95.5,231.50 97.5,231.50 99.5,231.50 101.5,231.50 103.5,231.50 105.5,231.50 107.5,231.50 109.5,231.50 111.5,231.50 113.5,231.50 115.5,231.50 117.5,231.50 119.5,231.50 121.5,231.50 123.5,231.50 125.5,231.50 127.5,231.50 129.4,231.50 131.4,231.50 133.4,231.50 135.4,231.50 137.4,231.50 139.4,231.50 141.4,231.50 143.4,231.50 145.4,231.50 147.4,231.50 149.4,231.49 151.4,231.47 153.4,231.44 155.4,231.40 157.4,231.36 159.4,231.31 161.4,231.25 163.4,231.18 165.4,231.11 167.4,231.03 169.4,230.95 171.4,230.86 173.4,230.77 175.4,230.67 177.4,230.56 179.4,230.46 181.4,230.34 183.4,230.23 185.4,230.11 187.4,229.98 189.4,229.86 191.4,229.73 193.4,229.60 195.4,229.46 197.4,229.33 199.4,229.19 201.4,229.05 203.4,228.91 205.4,228.77 207.4,228.63 209.4,228.49 211.4,228.35 213.4,228.21 215.4,228.08 217.4,227.94 219.4,227.80 221.4,227.67 223.4,227.54 225.4,227.41 227.4,227.28 229.4,227.15 231.4,227.03 233.4,226.92 235.4,226.80 237.4,226.69 239.4,226.58 241.4,226.48 243.4,226.39 245.4,226.30 247.4,226.21 249.4,226.13 251.4,226.06 253.4,225.99 255.4,225.93 257.4,225.87 259.4,225.83 261.4,225.79 263.4,225.75 265.4,225.71 267.4,225.66 269.4,225.61 271.4,225.57 273.4,225.52 275.4,225.46 277.4,225.41 279.4,225.35 281.4,225.29 283.4,225.23 285.4,225.17 287.4,225.11 289.4,225.04 291.4,224.98 293.4,224.91 295.4,224.84 297.4,224.78 299.4,224.71 301.4,224.64 303.4,224.57 305.4,224.49 307.4,224.42 309.4,224.35 311.4,224.28 313.4,224.20 315.4,224.13 317.4,224.06 319.4,223.98 321.4,223.91 323.4,223.84 325.4,223.77 327.4,223.69 329.4,223.62 331.4,223.55 333.4,223.48 335.4,223.41 337.4,223.34 339.4,223.27 341.4,223.20 343.4,223.14 345.4,223.07 347.4,223.01 349.4,222.95 351.4,222.89 353.4,222.83 355.4,222.77 357.4,222.71 359.4,222.66 361.4,222.61 363.4,222.56 365.4,222.51 367.4,222.47 369.4,222.42 371.4,222.38 373.4,222.34 375.4,222.31 377.4,222.27 379.4,222.23 381.4,222.18 383.4,222.13 385.4,222.07 387.4,222.01 389.4,221.94 391.4,221.87 393.4,221.80 395.4,221.72 397.4,221.64 399.4,221.55 401.4,221.47 403.4,221.37 405.4,221.28 407.4,221.18 409.4,221.09 411.4,220.98 413.4,220.88 415.4,220.78 417.4,220.67 419.4,220.56 421.4,220.45 423.4,220.34 425.4,220.23 427.4,220.12 429.4,220.01 431.4,219.90 433.4,219.79 435.4,219.68 437.4,219.57 439.4,219.46 441.4,219.36 443.4,219.25 445.4,219.14 447.4,219.04 449.4,218.94 451.4,218.84 453.4,218.74 455.4,218.65 457.4,218.56 459.4,218.47 461.4,218.38 463.4,218.30 465.4,218.22 467.4,218.14 469.4,218.07 471.4,218.00 473.4,217.94 475.4,217.88 477.4,217.83 479.4,217.78 481.4,217.74 483.4,217.70 485.4,217.67 487.4,217.64 489.4,217.62 491.4,217.61 493.4,217.60 495.4,217.60 497.4,217.60 499.4,217.61 501.4,217.62 503.4,217.63 505.4,217.65 507.4,217.67 509.4,217.69 511.4,217.71 513.5,217.74 515.5,217.77 517.5,217.80 519.5,217.83 521.5,217.86 523.5,217.90 525.5,217.94 527.5,217.98 529.5,218.03 531.5,218.07 533.5,218.12 535.5,218.16 537.5,218.21 539.5,218.26 541.5,218.31 543.5,218.36 545.5,218.42 547.5,218.47 549.5,218.53 551.5,218.58 553.5,218.64 555.5,218.69 557.5,218.75 559.5,218.80 561.5,218.86 563.5,218.92 565.5,218.97 567.5,219.03 569.5,219.08 571.5,219.14 573.5,219.19 575.5,219.25 577.5,219.30 579.5,219.35 581.5,219.40 583.5,219.45 585.5,219.50 587.5,219.55 589.5,219.59 591.5,219.64 593.5,219.68 595.5,219.72 597.5,219.76 599.5,219.80 601.5,219.83 603.5,219.87 605.5,219.90 607.5,219.93 609.5,219.95 611.5,219.98 613.5,220.00 615.5,220.02 617.5,220.04 619.5,220.07 621.5,220.09 623.5,220.12 625.5,220.15 627.5,220.18 629.5,220.21 631.5,220.25 633.5,220.28 635.5,220.32 637.5,220.35 639.5,220.39 641.5,220.43 643.5,220.47 645.5,220.51 647.5,220.55 649.5,220.60 651.5,220.64 653.5,220.69 655.5,220.73 657.5,220.78 659.5,220.82 661.5,220.87 663.5,220.92 665.5,220.96 667.5,221.01 669.5,221.06 671.5,221.11 673.5,221.15 675.5,221.20 677.5,221.25 679.5,221.30 681.5,221.34 683.5,221.39 685.5,221.44 687.5,221.49 689.5,221.53 691.5,221.58 693.5,221.62 695.5,221.67 697.5,221.71 699.5,221.75 701.5,221.80 703.5,221.84 705.5,221.88 707.5,221.92 709.5,221.96 711.5,221.99 713.5,222.03 715.5,222.06 717.5,222.10 719.5,222.13 721.5,222.16 723.5,222.19 725.5,222.22 727.5,222.24 729.5,222.27 731.5,222.29 733.5,222.31 735.5,222.33 737.5,222.36 739.5,222.39 741.5,222.42 743.5,222.45 745.5,222.48 747.5,222.52 749.5,222.56 751.5,222.60 753.5,222.64 755.5,222.68 757.5,222.73 759.5,222.77 761.5,222.82 763.5,222.87 765.5,222.91 767.5,222.97 769.5,223.02 771.5,223.07 773.5,223.12 775.5,223.18 777.5,223.23 779.5,223.29 781.5,223.34 783.5,223.40 785.5,223.45 787.5,223.51 789.5,223.57 791.5,223.62 793.5,223.68 795.5,223.74 797.5,223.80 799.5,223.85 801.5,223.91 803.5,223.97 805.5,224.02 807.5,224.08 809.5,224.13 811.5,224.19 813.5,224.24 815.5,224.29 817.5,224.34 819.5,224.39 821.5,224.44 823.5,224.49 825.5,224.54 827.5,224.58 829.5,224.63 831.5,224.67 833.5,224.71 835.5,224.75 837.5,224.79 839.5,224.83 841.5,224.86 843.5,224.89 845.5,224.92 847.5,224.95 849.5,224.98 851.5,225.00 853.5,225.03 855.5,225.05 857.5,225.08 859.5,225.11 861.5,225.15 863.5,225.18 865.5,225.22 867.5,225.26 869.5,225.30 871.5,225.34 873.5,225.38 875.5,225.43 877.5,225.47 879.5,225.52 881.5,225.57 883.5,225.62 885.5,225.67 887.5,225.72 889.5,225.78 891.5,225.83 893.5,225.89 895.5,225.94 897.5,226.00 899.5,226.05 901.5,226.11 903.5,226.17 905.5,226.23 907.5,226.28 909.5,226.34 911.5,226.40 913.5,226.46 915.5,226.52 917.5,226.58 919.5,226.63 921.5,226.69 923.5,226.75 925.5,226.80 927.5,226.86 929.5,226.92 931.5,226.97 933.5,227.02 935.5,227.08 937.5,227.13 939.5,227.18 941.5,227.23 943.5,227.28 945.5,227.33 947.5,227.37 949.5,227.42 951.5,227.46 953.5,227.50 955.5,227.54 957.5,227.58 959.5,227.62 961.5,227.65 963.5,227.68 965.5,227.71 967.5,227.74 969.5,227.77 971.5,227.79 973.5,227.82 975.5,227.84 977.5,227.87 979.5,227.90 981.5,227.93 983.5,227.96 985.5,228.00 987.5,228.03 989.5,228.07 991.5,228.11 993.5,228.16 995.5,228.20 997.5,228.24 999.5,228.29 1001.5,228.34 1003.5,228.38 1005.5,228.43 1007.5,228.48 1009.5,228.54 1011.5,228.59 1013.5,228.64 1015.5,228.69 1017.5,228.75 1019.5,228.80 1021.5,228.86 1023.5,228.91 1025.5,228.97 1027.5,229.02 1029.5,229.08 1031.5,229.13 1033.5,229.19 1035.5,229.24 1037.5,229.29 1039.5,229.35 1041.5,229.40 1043.5,229.45 1045.5,229.50 1047.5,229.56 1049.5,229.61 1051.5,229.65 1053.5,229.70 1055.5,229.75 1057.5,229.80 1059.5,229.84 1061.5,229.88 1063.5,229.92 1065.5,229.96 1067.5,230.00 1069.5,230.04 1071.5,230.07 1073.5,230.11 1075.5,230.14 1077.5,230.17 1079.5,230.19 1081.5,230.22 1083.5,230.24 1085.5,230.26 1087.5,230.28 1089.5,230.29 1091.5,230.30 1093.5,230.31 1095.5,230.33 1097.5,230.34 1099.5,230.35 1101.5,230.36 1103.5,230.38 1105.5,230.39 1107.5,230.41 1109.5,230.42 1111.5,230.44 1113.5,230.45 1115.5,230.47 1117.5,230.48 1119.5,230.50 1121.5,230.51 1123.5,230.53 1125.5,230.55 1127.5,230.56 1129.5,230.58 1131.5,230.60 1133.5,230.62 1135.5,230.63 1137.5,230.65 1139.5,230.67 1141.5,230.69 1143.5,230.70 1145.5,230.72 1147.5,230.74 1149.5,230.76 1151.5,230.77 1153.5,230.79 1155.5,230.81 1157.5,230.83 1159.5,230.84 1161.5,230.86 1163.5,230.88 1165.5,230.90 1167.5,230.91 1169.5,230.93 1171.5,230.95 1173.5,230.96 1175.5,230.98 1177.5,230.99 1179.5,231.01 1181.5,231.02 1183.5,231.04 1185.5,231.05 1187.5,231.07 1189.5,231.08 1191.5,231.10 1193.5,231.11 1195.5,231.12 1197.5,231.13 1199.5,231.15 1201.5,231.16 1203.5,231.17 1205.5,231.18 1207.5,231.19 1209.5,231.20 1211.5,231.21 1213.5,231.22 1215.5,231.23 1217.5,231.25 1219.5,231.26 1221.5,231.28 1223.5,231.30 1225.5,231.32 1227.5,231.34 1229.5,231.37 1231.5,231.39 1233.5,231.41 1235.5,231.44 1237.5,231.47 1239.5,231.50 1241.5,231.52 1243.5,231.55 1245.5,231.58 1247.5,231.61 1249.5,231.65 1251.5,231.68 1253.5,231.71 1255.5,231.74 1257.5,231.77 1259.5,231.81 1261.5,231.84 1263.5,231.87 1265.5,231.91 1267.5,231.94 1269.5,231.97 1271.5,232.01 1273.5,232.04 1275.5,232.07 1277.5,232.10 1279.5,232.13 1281.5,232.17 1283.5,232.20 1285.5,232.23 1287.5,232.26 1289.5,232.28 1291.5,232.31 1293.5,232.34 1295.5,232.36 1297.5,232.39 1299.5,232.41 1301.5,232.44 1303.5,232.46 1305.5,232.48 1307.5,232.50 1309.5,232.51 1311.5,232.53 1313.5,232.55 1315.5,232.56 1317.5,232.57 1319.5,232.58 1321.5,232.59 1323.5,232.59 1325.5,232.60 1327.5,232.60 1329.5,232.60 1331.5,232.60 1333.5,232.60 1335.5,232.60 1337.5,232.60 1339.5,232.60 1341.5,232.59 1343.5,232.59 1345.5,232.59 1347.5,232.59 1349.5,232.58 1351.5,232.58 1353.5,232.58 1355.5,232.57 1357.5,232.57 1359.5,232.57 1361.5,232.56 1363.5,232.56 1365.5,232.55 1367.5,232.55 1369.5,232.55 1371.5,232.54 1373.5,232.54 1375.5,232.53 1377.5,232.53 1379.5,232.52 1381.5,232.52 1383.5,232.51 1385.5,232.51 1387.5,232.50 1389.5,232.50 1391.5,232.49 1393.5,232.49 1395.5,232.48 1397.5,232.48 1399.5,232.47 1401.5,232.47 1403.5,232.46 1405.5,232.46 1407.5,232.45 1409.5,232.45 1411.5,232.44 1413.5,232.44 1415.5,232.44 1417.5,232.43 1419.5,232.43 1421.5,232.42 1423.5,232.42 1425.5,232.42 1427.5,232.42 1429.5,232.41 1431.5,232.41 1433.5,232.41 1435.5,232.41 1437.5,232.40 1439.5,232.40 1441.5,232.40 1443.5,232.40 1445.5,232.40 1447.5,232.40 1449.5,232.40 1451.5,232.40 1453.5,232.40 1455.5,232.40 1457.5,232.40 1459.5,232.40 1461.5,232.40 1463.5,232.40 1465.5,232.40 1467.5,232.40 1469.5,232.40 1471.5,232.40 1473.5,232.40 1475.5,232.40 1477.5,232.40 1479.5,232.40 1481.5,232.40 1483.5,232.40 1485.5,232.40 1487.5,232.40 1489.5,232.40 1491.5,232.40 1493.5,232.40 1495.5,232.40 1497.5,232.40 1499.5,232.40 1501.5,232.40 1503.5,232.40 1505.5,232.40 1507.5,232.40 1507.9,232.40" fill="none" stroke="#f0f030" stroke-width="1.4"/><polyline points="85.5,407.50 87.5,407.50 89.5,407.50 91.5,407.50 93.5,407.50 95.5,407.50 97.5,407.50 99.5,407.50 101.5,407.50 103.5,407.50 105.5,407.50 107.5,407.50 109.5,407.50 111.5,407.50 113.5,407.50 115.5,407.50 117.5,407.50 119.5,407.50 121.5,407.50 123.5,407.50 125.5,407.50 127.5,407.50 129.4,407.50 131.4,407.50 133.4,407.50 135.4,407.50 137.4,407.50 139.4,407.50 141.4,407.50 143.4,407.50 145.4,407.50 147.4,407.49 149.4,407.45 151.4,407.38 153.4,407.29 155.4,407.16 157.4,407.01 159.4,406.84 161.4,406.64 163.4,406.42 165.4,406.17 167.4,405.91 169.4,405.62 171.4,405.32 173.4,405.00 175.4,404.66 177.4,404.31 179.4,403.94 181.4,403.55 183.4,403.16 185.4,402.75 187.4,402.33 189.4,401.90 191.4,401.46 193.4,401.02 195.4,400.56 197.4,400.11 199.4,399.64 201.4,399.18 203.4,398.71 205.4,398.24 207.4,397.76 209.4,397.29 211.4,396.82 213.4,396.36 215.4,395.89 217.4,395.43 219.4,394.98 221.4,394.53 223.4,394.09 225.4,393.65 227.4,393.23 229.4,392.82 231.4,392.42 233.4,392.03 235.4,391.65 237.4,391.29 239.4,390.95 241.4,390.62 243.4,390.31 245.4,390.02 247.4,389.74 249.4,389.49 251.4,389.26 253.4,389.05 255.4,388.87 257.4,388.71 259.4,388.58 261.4,388.47 263.4,388.36 265.4,388.24 267.4,388.12 269.4,387.99 271.4,387.85 273.4,387.70 275.4,387.55 277.4,387.40 279.4,387.23 281.4,387.07 283.4,386.90 285.4,386.72 287.4,386.54 289.4,386.36 291.4,386.17 293.4,385.98 295.4,385.79 297.4,385.59 299.4,385.40 301.4,385.20 303.4,385.00 305.4,384.80 307.4,384.60 309.4,384.40 311.4,384.20 313.4,384.00 315.4,383.80 317.4,383.60 319.4,383.40 321.4,383.21 323.4,383.02 325.4,382.83 327.4,382.64 329.4,382.46 331.4,382.28 333.4,382.11 335.4,381.94 337.4,381.77 339.4,381.61 341.4,381.45 343.4,381.31 345.4,381.16 347.4,381.03 349.4,380.90 351.4,380.77 353.4,380.66 355.4,380.55 357.4,380.45 359.4,380.36 361.4,380.28 363.4,380.21 365.4,380.15 367.4,380.10 369.4,380.06 371.4,380.03 373.4,380.01 375.4,380.00 377.4,380.00 379.4,380.00 381.4,380.00 383.4,380.00 385.4,380.01 387.4,380.01 389.4,380.01 391.4,380.02 393.4,380.02 395.4,380.03 397.4,380.03 399.4,380.04 401.4,380.04 403.4,380.05 405.4,380.06 407.4,380.06 409.4,380.07 411.4,380.08 413.4,380.09 415.4,380.09 417.4,380.10 419.4,380.11 421.4,380.12 423.4,380.13 425.4,380.14 427.4,380.15 429.4,380.16 431.4,380.17 433.4,380.18 435.4,380.19 437.4,380.20 439.4,380.21 441.4,380.22 443.4,380.23 445.4,380.24 447.4,380.26 449.4,380.27 451.4,380.28 453.4,380.29 455.4,380.30 457.4,380.31 459.4,380.32 461.4,380.33 463.4,380.34 465.4,380.36 467.4,380.37 469.4,380.38 471.4,380.39 473.4,380.40 475.4,380.41 477.4,380.42 479.4,380.43 481.4,380.44 483.4,380.45 485.4,380.46 487.4,380.47 489.4,380.48 491.4,380.49 493.4,380.50 495.4,380.51 497.4,380.55 499.4,380.63 501.4,380.74 503.4,380.89 505.4,381.07 507.4,381.28 509.4,381.53 511.4,381.80 513.5,382.10 515.5,382.43 517.5,382.78 519.5,383.15 521.5,383.55 523.5,383.97 525.5,384.40 527.5,384.86 529.5,385.33 531.5,385.82 533.5,386.33 535.5,386.84 537.5,387.37 539.5,387.91 541.5,388.46 543.5,389.02 545.5,389.58 547.5,390.15 549.5,390.72 551.5,391.30 553.5,391.88 555.5,392.46 557.5,393.03 559.5,393.61 561.5,394.18 563.5,394.75 565.5,395.31 567.5,395.86 569.5,396.40 571.5,396.94 573.5,397.46 575.5,397.97 577.5,398.47 579.5,398.95 581.5,399.41 583.5,399.85 585.5,400.28 587.5,400.69 589.5,401.07 591.5,401.43 593.5,401.77 595.5,402.08 597.5,402.36 599.5,402.62 601.5,402.84 603.5,403.04 605.5,403.20 607.5,403.33 609.5,403.42 611.5,403.48 613.5,403.50 615.5,403.49 617.5,403.48 619.5,403.45 621.5,403.42 623.5,403.37 625.5,403.32 627.5,403.25 629.5,403.18 631.5,403.10 633.5,403.01 635.5,402.92 637.5,402.82 639.5,402.71 641.5,402.59 643.5,402.47 645.5,402.34 647.5,402.21 649.5,402.08 651.5,401.94 653.5,401.79 655.5,401.64 657.5,401.49 659.5,401.34 661.5,401.18 663.5,401.02 665.5,400.86 667.5,400.70 669.5,400.54 671.5,400.37 673.5,400.21 675.5,400.04 677.5,399.88 679.5,399.72 681.5,399.56 683.5,399.40 685.5,399.24 687.5,399.08 689.5,398.93 691.5,398.78 693.5,398.63 695.5,398.49 697.5,398.35 699.5,398.22 701.5,398.09 703.5,397.97 705.5,397.85 707.5,397.74 709.5,397.63 711.5,397.53 713.5,397.44 715.5,397.36 717.5,397.28 719.5,397.21 721.5,397.15 723.5,397.10 725.5,397.06 727.5,397.03 729.5,397.01 731.5,397.00 733.5,397.00 735.5,397.00 737.5,397.00 739.5,397.00 741.5,397.01 743.5,397.01 745.5,397.01 747.5,397.02 749.5,397.02 751.5,397.02 753.5,397.03 755.5,397.03 757.5,397.04 759.5,397.05 761.5,397.05 763.5,397.06 765.5,397.07 767.5,397.08 769.5,397.08 771.5,397.09 773.5,397.10 775.5,397.11 777.5,397.12 779.5,397.13 781.5,397.14 783.5,397.15 785.5,397.16 787.5,397.17 789.5,397.18 791.5,397.19 793.5,397.20 795.5,397.21 797.5,397.22 799.5,397.23 801.5,397.24 803.5,397.26 805.5,397.27 807.5,397.28 809.5,397.29 811.5,397.30 813.5,397.31 815.5,397.32 817.5,397.33 819.5,397.34 821.5,397.36 823.5,397.37 825.5,397.38 827.5,397.39 829.5,397.40 831.5,397.41 833.5,397.42 835.5,397.43 837.5,397.44 839.5,397.45 841.5,397.46 843.5,397.47 845.5,397.48 847.5,397.48 849.5,397.49 851.5,397.50 853.5,397.51 855.5,397.54 857.5,397.57 859.5,397.61 861.5,397.66 863.5,397.72 865.5,397.78 867.5,397.85 869.5,397.94 871.5,398.02 873.5,398.12 875.5,398.22 877.5,398.32 879.5,398.44 881.5,398.56 883.5,398.68 885.5,398.81 887.5,398.95 889.5,399.08 891.5,399.23 893.5,399.38 895.5,399.53 897.5,399.68 899.5,399.84 901.5,400.00 903.5,400.17 905.5,400.33 907.5,400.50 909.5,400.67 911.5,400.85 913.5,401.02 915.5,401.20 917.5,401.37 919.5,401.55 921.5,401.73 923.5,401.90 925.5,402.08 927.5,402.26 929.5,402.43 931.5,402.61 933.5,402.78 935.5,402.95 937.5,403.12 939.5,403.29 941.5,403.46 943.5,403.62 945.5,403.78 947.5,403.94 949.5,404.09 951.5,404.24 953.5,404.39 955.5,404.53 957.5,404.66 959.5,404.80 961.5,404.92 963.5,405.04 965.5,405.16 967.5,405.27 969.5,405.37 971.5,405.47 973.5,405.57 975.5,405.69 977.5,405.83 979.5,405.98 981.5,406.16 983.5,406.35 985.5,406.56 987.5,406.79 989.5,407.04 991.5,407.30 993.5,407.57 995.5,407.86 997.5,408.16 999.5,408.47 1001.5,408.80 1003.5,409.13 1005.5,409.48 1007.5,409.83 1009.5,410.19 1011.5,410.56 1013.5,410.94 1015.5,411.33 1017.5,411.72 1019.5,412.11 1021.5,412.51 1023.5,412.92 1025.5,413.32 1027.5,413.73 1029.5,414.14 1031.5,414.55 1033.5,414.96 1035.5,415.37 1037.5,415.78 1039.5,416.18 1041.5,416.58 1043.5,416.98 1045.5,417.38 1047.5,417.76 1049.5,418.15 1051.5,418.52 1053.5,418.89 1055.5,419.25 1057.5,419.60 1059.5,419.95 1061.5,420.28 1063.5,420.60 1065.5,420.91 1067.5,421.20 1069.5,421.49 1071.5,421.76 1073.5,422.01 1075.5,422.25 1077.5,422.47 1079.5,422.68 1081.5,422.87 1083.5,423.04 1085.5,423.19 1087.5,423.32 1089.5,423.43 1091.5,423.52 1093.5,423.61 1095.5,423.70 1097.5,423.80 1099.5,423.89 1101.5,423.99 1103.5,424.10 1105.5,424.21 1107.5,424.32 1109.5,424.43 1111.5,424.54 1113.5,424.66 1115.5,424.78 1117.5,424.90 1119.5,425.02 1121.5,425.15 1123.5,425.27 1125.5,425.40 1127.5,425.53 1129.5,425.66 1131.5,425.80 1133.5,425.93 1135.5,426.06 1137.5,426.20 1139.5,426.33 1141.5,426.47 1143.5,426.61 1145.5,426.74 1147.5,426.88 1149.5,427.02 1151.5,427.15 1153.5,427.29 1155.5,427.43 1157.5,427.56 1159.5,427.70 1161.5,427.83 1163.5,427.96 1165.5,428.10 1167.5,428.23 1169.5,428.36 1171.5,428.49 1173.5,428.61 1175.5,428.74 1177.5,428.86 1179.5,428.98 1181.5,429.10 1183.5,429.22 1185.5,429.34 1187.5,429.45 1189.5,429.56 1191.5,429.67 1193.5,429.77 1195.5,429.87 1197.5,429.97 1199.5,430.07 1201.5,430.16 1203.5,430.25 1205.5,430.33 1207.5,430.41 1209.5,430.49 1211.5,430.57 1213.5,430.66 1215.5,430.77 1217.5,430.89 1219.5,431.03 1221.5,431.18 1223.5,431.34 1225.5,431.51 1227.5,431.69 1229.5,431.89 1231.5,432.09 1233.5,432.30 1235.5,432.53 1237.5,432.76 1239.5,432.99 1241.5,433.24 1243.5,433.49 1245.5,433.74 1247.5,434.01 1249.5,434.27 1251.5,434.55 1253.5,434.82 1255.5,435.10 1257.5,435.38 1259.5,435.66 1261.5,435.95 1263.5,436.23 1265.5,436.52 1267.5,436.80 1269.5,437.09 1271.5,437.37 1273.5,437.65 1275.5,437.93 1277.5,438.21 1279.5,438.48 1281.5,438.75 1283.5,439.01 1285.5,439.27 1287.5,439.52 1289.5,439.77 1291.5,440.01 1293.5,440.24 1295.5,440.46 1297.5,440.68 1299.5,440.89 1301.5,441.08 1303.5,441.27 1305.5,441.44 1307.5,441.61 1309.5,441.76 1311.5,441.90 1313.5,442.03 1315.5,442.14 1317.5,442.24 1319.5,442.32 1321.5,442.39 1323.5,442.44 1325.5,442.48 1327.5,442.50 1329.5,442.50 1331.5,442.48 1333.5,442.43 1335.5,442.37 1337.5,442.28 1339.5,442.17 1341.5,442.05 1343.5,441.90 1345.5,441.74 1347.5,441.56 1349.5,441.36 1351.5,441.15 1353.5,440.92 1355.5,440.68 1357.5,440.43 1359.5,440.16 1361.5,439.89 1363.5,439.60 1365.5,439.30 1367.5,439.00 1369.5,438.68 1371.5,438.36 1373.5,438.03 1375.5,437.70 1377.5,437.36 1379.5,437.01 1381.5,436.66 1383.5,436.31 1385.5,435.96 1387.5,435.61 1389.5,435.26 1391.5,434.90 1393.5,434.55 1395.5,434.20 1397.5,433.86 1399.5,433.51 1401.5,433.17 1403.5,432.84 1405.5,432.52 1407.5,432.20 1409.5,431.88 1411.5,431.58 1413.5,431.29 1415.5,431.00 1417.5,430.73 1419.5,430.47 1421.5,430.22 1423.5,429.99 1425.5,429.77 1427.5,429.56 1429.5,429.37 1431.5,429.20 1433.5,429.04 1435.5,428.90 1437.5,428.78 1439.5,428.68 1441.5,428.60 1443.5,428.55 1445.5,428.51 1447.5,428.50 1449.5,428.50 1451.5,428.50 1453.5,428.50 1455.5,428.50 1457.5,428.50 1459.5,428.50 1461.5,428.50 1463.5,428.50 1465.5,428.50 1467.5,428.50 1469.5,428.50 1471.5,428.50 1473.5,428.50 1475.5,428.50 1477.5,428.50 1479.5,428.50 1481.5,428.50 1483.5,428.50 1485.5,428.50 1487.5,428.50 1489.5,428.50 1491.5,428.50 1493.5,428.50 1495.5,428.50 1497.5,428.50 1499.5,428.50 1501.5,428.50 1503.5,428.50 1505.5,428.50 1507.5,428.50 1507.9,428.50" fill="none" stroke="#0a8cff" stroke-width="1.4"/><line x1="80" y1="74.7" x2="1513.5" y2="74.7" stroke="#d6d6d6" stroke-width="1.3"/><line x1="80" y1="608.1" x2="1513.5" y2="608.1" stroke="#d6d6d6" stroke-width="1.3"/><line x1="85.5" y1="74.7" x2="85.5" y2="613.5" stroke="#d6d6d6" stroke-width="1.3"/><line x1="1507.9" y1="74.7" x2="1507.9" y2="613.5" stroke="#d6d6d6" stroke-width="1.3"/><line x1="85" y1="341.40000000000003" x2="1513.5" y2="341.40000000000003" stroke="#e6e6e6" stroke-width="1.5"/><line x1="80" y1="74.70" x2="85.5" y2="74.70" stroke="#d6d6d6" stroke-width="1.3"/><line x1="80" y1="128.04" x2="85.5" y2="128.04" stroke="#d6d6d6" stroke-width="1.3"/><line x1="80" y1="181.38" x2="85.5" y2="181.38" stroke="#d6d6d6" stroke-width="1.3"/><line x1="80" y1="234.72" x2="85.5" y2="234.72" stroke="#d6d6d6" stroke-width="1.3"/><line x1="80" y1="288.06" x2="85.5" y2="288.06" stroke="#d6d6d6" stroke-width="1.3"/><line x1="80" y1="341.40" x2="85.5" y2="341.40" stroke="#d6d6d6" stroke-width="1.3"/><line x1="80" y1="394.74" x2="85.5" y2="394.74" stroke="#d6d6d6" stroke-width="1.3"/><line x1="80" y1="448.08" x2="85.5" y2="448.08" stroke="#d6d6d6" stroke-width="1.3"/><line x1="80" y1="501.42" x2="85.5" y2="501.42" stroke="#d6d6d6" stroke-width="1.3"/><line x1="80" y1="554.76" x2="85.5" y2="554.76" stroke="#d6d6d6" stroke-width="1.3"/><line x1="80" y1="608.10" x2="85.5" y2="608.10" stroke="#d6d6d6" stroke-width="1.3"/><line x1="206.16" y1="608.1" x2="206.16" y2="613.5" stroke="#d6d6d6" stroke-width="1.3"/><line x1="315.32" y1="608.1" x2="315.32" y2="613.5" stroke="#d6d6d6" stroke-width="1.3"/><line x1="436.18" y1="608.1" x2="436.18" y2="613.5" stroke="#d6d6d6" stroke-width="1.3"/><line x1="553.14" y1="608.1" x2="553.14" y2="613.5" stroke="#d6d6d6" stroke-width="1.3"/><line x1="674.00" y1="608.1" x2="674.00" y2="613.5" stroke="#d6d6d6" stroke-width="1.3"/><line x1="790.96" y1="608.1" x2="790.96" y2="613.5" stroke="#d6d6d6" stroke-width="1.3"/><line x1="911.82" y1="608.1" x2="911.82" y2="613.5" stroke="#d6d6d6" stroke-width="1.3"/><line x1="1032.68" y1="608.1" x2="1032.68" y2="613.5" stroke="#d6d6d6" stroke-width="1.3"/><line x1="1149.65" y1="608.1" x2="1149.65" y2="613.5" stroke="#d6d6d6" stroke-width="1.3"/><line x1="1270.50" y1="608.1" x2="1270.50" y2="613.5" stroke="#d6d6d6" stroke-width="1.3"/><line x1="1387.47" y1="608.1" x2="1387.47" y2="613.5" stroke="#d6d6d6" stroke-width="1.3"/><line x1="1507.9" y1="341.40" x2="1513.5" y2="341.40" stroke="#d6d6d6" stroke-width="1.3"/><line x1="1507.9" y1="330.29" x2="1511" y2="330.29" stroke="#d6d6d6" stroke-width="1.3"/><line x1="1507.9" y1="319.18" x2="1511" y2="319.18" stroke="#d6d6d6" stroke-width="1.3"/><line x1="1507.9" y1="308.06" x2="1511" y2="308.06" stroke="#d6d6d6" stroke-width="1.3"/><line x1="1507.9" y1="296.95" x2="1511" y2="296.95" stroke="#d6d6d6" stroke-width="1.3"/><line x1="1507.9" y1="285.84" x2="1511" y2="285.84" stroke="#d6d6d6" stroke-width="1.3"/><line x1="1507.9" y1="274.73" x2="1513.5" y2="274.73" stroke="#d6d6d6" stroke-width="1.3"/><line x1="1507.9" y1="263.61" x2="1511" y2="263.61" stroke="#d6d6d6" stroke-width="1.3"/><line x1="1507.9" y1="252.50" x2="1511" y2="252.50" stroke="#d6d6d6" stroke-width="1.3"/><line x1="1507.9" y1="241.39" x2="1511" y2="241.39" stroke="#d6d6d6" stroke-width="1.3"/><line x1="1507.9" y1="230.28" x2="1511" y2="230.28" stroke="#d6d6d6" stroke-width="1.3"/><line x1="1507.9" y1="219.16" x2="1511" y2="219.16" stroke="#d6d6d6" stroke-width="1.3"/><line x1="1507.9" y1="208.05" x2="1513.5" y2="208.05" stroke="#d6d6d6" stroke-width="1.3"/><line x1="1507.9" y1="196.94" x2="1511" y2="196.94" stroke="#d6d6d6" stroke-width="1.3"/><line x1="1507.9" y1="185.82" x2="1511" y2="185.82" stroke="#d6d6d6" stroke-width="1.3"/><line x1="1507.9" y1="174.71" x2="1511" y2="174.71" stroke="#d6d6d6" stroke-width="1.3"/><line x1="1507.9" y1="163.60" x2="1511" y2="163.60" stroke="#d6d6d6" stroke-width="1.3"/><line x1="1507.9" y1="152.49" x2="1511" y2="152.49" stroke="#d6d6d6" stroke-width="1.3"/><line x1="1507.9" y1="141.38" x2="1513.5" y2="141.38" stroke="#d6d6d6" stroke-width="1.3"/><line x1="1507.9" y1="130.26" x2="1511" y2="130.26" stroke="#d6d6d6" stroke-width="1.3"/><line x1="1507.9" y1="119.15" x2="1511" y2="119.15" stroke="#d6d6d6" stroke-width="1.3"/><line x1="1507.9" y1="108.04" x2="1511" y2="108.04" stroke="#d6d6d6" stroke-width="1.3"/><line x1="1507.9" y1="96.92" x2="1511" y2="96.92" stroke="#d6d6d6" stroke-width="1.3"/><line x1="1507.9" y1="85.81" x2="1511" y2="85.81" stroke="#d6d6d6" stroke-width="1.3"/><line x1="1507.9" y1="74.70" x2="1513.5" y2="74.70" stroke="#d6d6d6" stroke-width="1.3"/><line x1="1507.9" y1="341.40" x2="1513.5" y2="341.40" stroke="#d6d6d6" stroke-width="1.3"/><line x1="1507.9" y1="408.08" x2="1513.5" y2="408.08" stroke="#d6d6d6" stroke-width="1.3"/><line x1="1507.9" y1="474.75" x2="1513.5" y2="474.75" stroke="#d6d6d6" stroke-width="1.3"/><line x1="1507.9" y1="541.42" x2="1513.5" y2="541.42" stroke="#d6d6d6" stroke-width="1.3"/><line x1="1507.9" y1="608.10" x2="1513.5" y2="608.10" stroke="#d6d6d6" stroke-width="1.3"/><text x="72" y="80.3" font-size="15.8" fill="#cfcfcf" text-anchor="end">50</text><text x="72" y="133.6" font-size="15.8" fill="#cfcfcf" text-anchor="end">40</text><text x="72" y="187.0" font-size="15.8" fill="#cfcfcf" text-anchor="end">30</text><text x="72" y="240.3" font-size="15.8" fill="#cfcfcf" text-anchor="end">20</text><text x="72" y="293.7" font-size="15.8" fill="#cfcfcf" text-anchor="end">10</text><text x="72" y="347.0" font-size="15.8" fill="#cfcfcf" text-anchor="end">0</text><text x="72" y="400.3" font-size="15.8" fill="#cfcfcf" text-anchor="end">-10</text><text x="72" y="453.7" font-size="15.8" fill="#cfcfcf" text-anchor="end">-20</text><text x="72" y="507.0" font-size="15.8" fill="#cfcfcf" text-anchor="end">-30</text><text x="72" y="560.4" font-size="15.8" fill="#cfcfcf" text-anchor="end">-40</text><text x="72" y="613.7" font-size="15.8" fill="#cfcfcf" text-anchor="end">-50</text><text x="1540" y="347.0" font-size="15.8" fill="#cfcfcf" text-anchor="end">0</text><text x="1540" y="280.3" font-size="15.8" fill="#cfcfcf" text-anchor="end">6</text><text x="1540" y="213.7" font-size="15.8" fill="#cfcfcf" text-anchor="end">12</text><text x="1540" y="147.0" font-size="15.8" fill="#cfcfcf" text-anchor="end">18</text><text x="1540" y="80.3" font-size="15.8" fill="#cfcfcf" text-anchor="end">24</text><text x="1540" y="413.7" font-size="15.8" fill="#cfcfcf" text-anchor="end">10</text><text x="1540" y="480.4" font-size="15.8" fill="#cfcfcf" text-anchor="end">20</text><text x="1540" y="547.0" font-size="15.8" fill="#cfcfcf" text-anchor="end">30</text><text x="1540" y="613.7" font-size="15.8" fill="#cfcfcf" text-anchor="end">40</text><text x="145.9" y="631.7" font-size="15.8" fill="#cfcfcf" text-anchor="middle">Jan</text><text x="260.8" y="631.7" font-size="15.8" fill="#cfcfcf" text-anchor="middle">Feb</text><text x="375.8" y="631.7" font-size="15.8" fill="#cfcfcf" text-anchor="middle">Mär</text><text x="494.6" y="631.7" font-size="15.8" fill="#cfcfcf" text-anchor="middle">Apr</text><text x="613.5" y="631.7" font-size="15.8" fill="#cfcfcf" text-anchor="middle">Mai</text><text x="732.4" y="631.7" font-size="15.8" fill="#cfcfcf" text-anchor="middle">Jun</text><text x="851.2" y="631.7" font-size="15.8" fill="#cfcfcf" text-anchor="middle">Jul</text><text x="972.0" y="631.7" font-size="15.8" fill="#cfcfcf" text-anchor="middle">Aug</text><text x="1090.9" y="631.7" font-size="15.8" fill="#cfcfcf" text-anchor="middle">Sep</text><text x="1209.8" y="631.7" font-size="15.8" fill="#cfcfcf" text-anchor="middle">Okt</text><text x="1328.6" y="631.7" font-size="15.8" fill="#cfcfcf" text-anchor="middle">Nov</text><text x="1447.5" y="631.7" font-size="15.8" fill="#cfcfcf" text-anchor="middle">Dez</text><text x="797.3" y="30.6" font-size="23.45" fill="#e6e6e6" text-anchor="middle">Klimawandel in Siquijor</text><text x="608.5" y="57.9" font-size="16.8" fill="#cfcfcf" textLength="375.5" lengthAdjust="spacingAndGlyphs">Breitengrad 9.174 - Längengrad 123.536 - Höhe 490.0</text><text x="86" y="67.8" font-size="23" fill="#d6d6d6">1940 - 1950</text><text transform="translate(44.3,342.8) rotate(-90)" font-size="20.7" fill="#cfcfcf" text-anchor="middle">Temperatur °C</text><text transform="translate(1554.5,208.1) rotate(90)" font-size="20.7" fill="#cfcfcf" text-anchor="middle">Tag / Sonne (h)</text><text transform="translate(1554.5,474.3) rotate(90)" font-size="20.7" fill="#cfcfcf" text-anchor="middle">Regen / Schnee (mm)</text><text x="85.5" y="683" font-size="20.7" fill="#cfcfcf">Temperatur °C</text><rect x="85" y="699.6" width="15.7" height="29.5" fill="url(#lg_t)"/><text x="109" y="722.2" font-size="20.7" fill="#cfcfcf">Bereich min / max pro Tag</text><line x1="85" y1="754.2" x2="100.7" y2="754.2" stroke="#ff5cff" stroke-width="1.6"/><text x="109" y="761.4" font-size="20.7" fill="#cfcfcf">Monatlicher Durchschnitt</text><text x="554.5" y="682.7" font-size="20.7" fill="#cfcfcf">Tag / Sonne (h)</text><line x1="553.1" y1="715.5" x2="568.7" y2="715.5" stroke="#00f400" stroke-width="1.3"/><text x="577" y="721.8" font-size="20.7" fill="#cfcfcf">Tageslicht pro Tag</text><rect x="553.1" y="738.2" width="15.6" height="30.9" fill="url(#lg_s)"/><text x="577" y="760.4" font-size="20.7" fill="#cfcfcf">Sonnenschein pro Tag</text><line x1="553.1" y1="793.6" x2="568.7" y2="793.6" stroke="#f0f020" stroke-width="1.6"/><text x="577" y="799.1" font-size="20.7" fill="#cfcfcf">Sonnenschein Monatsdurchschnitt</text><text x="943" y="683" font-size="20.7" fill="#cfcfcf">Regen (mm)</text><rect x="943.2" y="698.6" width="15.7" height="30.8" fill="url(#lg_r)"/><text x="967" y="722.2" font-size="20.7" fill="#cfcfcf">Regen pro Tag</text><line x1="943.2" y1="753.5" x2="958.9" y2="753.5" stroke="#1a8af0" stroke-width="1.6"/><text x="967" y="761.4" font-size="20.7" fill="#cfcfcf">Monatsdurchschnitt</text><text x="1255" y="683" font-size="20.7" fill="#cfcfcf">Schnee (mm)</text><rect x="1255" y="698.6" width="15.7" height="30.8" fill="url(#lg_n)"/><text x="1279" y="722.2" font-size="20.7" fill="#cfcfcf">Schnee pro Tag</text><line x1="1255" y1="753.5" x2="1270.7" y2="753.5" stroke="#e0e0e0" stroke-width="1.6"/><text x="1279" y="761.4" font-size="20.7" fill="#cfcfcf">Monatsdurchschnitt</text><text x="1441.3" y="801.6" font-size="16.4" fill="#cfcfcf" textLength="128.2" lengthAdjust="spacingAndGlyphs">© ClimeChart.com</text></svg></body></html>
